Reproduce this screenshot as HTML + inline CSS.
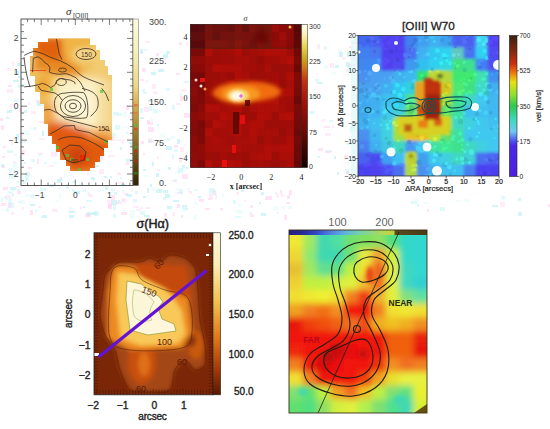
<!DOCTYPE html><html><head><meta charset="utf-8"><style>
html,body{margin:0;padding:0;background:#fff;width:550px;height:429px;overflow:hidden}
svg{display:block}
text{font-family:"Liberation Sans", sans-serif}
</style></head><body>
<svg width="550" height="429" viewBox="0 0 550 429">
<defs>

<filter id="b0_6" x="-50%" y="-50%" width="200%" height="200%"><feGaussianBlur stdDeviation="0.6"/></filter>
<filter id="b1" x="-50%" y="-50%" width="200%" height="200%"><feGaussianBlur stdDeviation="1"/></filter>
<filter id="b1_5" x="-50%" y="-50%" width="200%" height="200%"><feGaussianBlur stdDeviation="1.5"/></filter>
<filter id="b2" x="-50%" y="-50%" width="200%" height="200%"><feGaussianBlur stdDeviation="2"/></filter>
<filter id="b3" x="-50%" y="-50%" width="200%" height="200%"><feGaussianBlur stdDeviation="3"/></filter>
<filter id="b4" x="-50%" y="-50%" width="200%" height="200%"><feGaussianBlur stdDeviation="4"/></filter>
<filter id="b5" x="-50%" y="-50%" width="200%" height="200%"><feGaussianBlur stdDeviation="5"/></filter>
<filter id="b6" x="-50%" y="-50%" width="200%" height="200%"><feGaussianBlur stdDeviation="6"/></filter>
<filter id="b8" x="-50%" y="-50%" width="200%" height="200%"><feGaussianBlur stdDeviation="8"/></filter>
<linearGradient id="cb1" x1="0" y1="0" x2="0" y2="1">
<stop offset="0" stop-color="#fcfbe0"/><stop offset="0.2" stop-color="#f6f0b8"/>
<stop offset="0.4" stop-color="#ecd888"/><stop offset="0.5" stop-color="#e0b050"/>
<stop offset="0.62" stop-color="#b89030"/><stop offset="0.78" stop-color="#806020"/>
<stop offset="0.9" stop-color="#504010"/><stop offset="1" stop-color="#302008"/></linearGradient>
<linearGradient id="cb2" x1="0" y1="0" x2="0" y2="1">
<stop offset="0" stop-color="#fffff0"/><stop offset="0.08" stop-color="#f8f0b0"/>
<stop offset="0.16" stop-color="#e8d050"/><stop offset="0.25" stop-color="#c8a020"/>
<stop offset="0.3" stop-color="#d07818"/><stop offset="0.4" stop-color="#c03010"/>
<stop offset="0.55" stop-color="#a01008"/><stop offset="0.78" stop-color="#600800"/>
<stop offset="1" stop-color="#100000"/></linearGradient>
<linearGradient id="cb3" x1="0" y1="0" x2="0" y2="1">
<stop offset="0" stop-color="#3a2010"/><stop offset="0.12" stop-color="#8a2a10"/>
<stop offset="0.2" stop-color="#c83010"/><stop offset="0.26" stop-color="#f07010"/>
<stop offset="0.33" stop-color="#e8e010"/><stop offset="0.42" stop-color="#90e030"/>
<stop offset="0.5" stop-color="#30c850"/><stop offset="0.6" stop-color="#40d8c0"/>
<stop offset="0.68" stop-color="#70c8f0"/><stop offset="0.74" stop-color="#5060f0"/>
<stop offset="0.78" stop-color="#4a28e8"/><stop offset="1" stop-color="#4a20e0"/></linearGradient>
<linearGradient id="cb4" x1="0" y1="0" x2="0" y2="1">
<stop offset="0" stop-color="#fff8e0"/><stop offset="0.2" stop-color="#fcecb0"/>
<stop offset="0.42" stop-color="#f2c050"/><stop offset="0.65" stop-color="#e07818"/>
<stop offset="0.85" stop-color="#a03808"/><stop offset="1" stop-color="#5a1800"/></linearGradient>
<linearGradient id="cb5" x1="0" y1="0" x2="1" y2="0">
<stop offset="0" stop-color="#281c80"/><stop offset="0.1" stop-color="#2a2898"/>
<stop offset="0.2" stop-color="#3048c8"/><stop offset="0.3" stop-color="#5080e0"/>
<stop offset="0.4" stop-color="#60b0e0"/><stop offset="0.5" stop-color="#70d0b0"/>
<stop offset="0.6" stop-color="#90d880"/><stop offset="0.7" stop-color="#b8d850"/>
<stop offset="0.76" stop-color="#c0d040"/><stop offset="0.77" stop-color="#584a20"/>
<stop offset="1" stop-color="#4a3a18"/></linearGradient>

<clipPath id="c1"><rect x="21" y="19" width="112" height="166.5"/></clipPath>
<clipPath id="c2"><rect x="190.3" y="24.3" width="111.1" height="143.3"/></clipPath>
<clipPath id="c3"><rect x="358" y="35.5" width="141" height="140.5"/></clipPath>
<clipPath id="c4"><rect x="94" y="232.8" width="119" height="162"/></clipPath>
<clipPath id="c5"><rect x="289" y="235" width="138" height="178"/></clipPath>
<clipPath id="m1"><polygon points="38,42 48,42 48,38.5 90,38.5 90,45 96,45 96,50 100,50 100,60 105,60 105,66 108,66 108,75 112,75 112,140 108,140 108,148 104,148 104,156 100,156 100,162 95,162 95,168 90,168 90,171 70,171 70,166 66,166 66,160 60,160 60,152 56,152 56,144 52,144 52,136 48,136 48,124 44,124 44,104 40,104 40,92 35,92 35,76 30,76 30,56 33,56 33,48 38,48"/></clipPath>
</defs>
<g>
<rect x="12" y="164" width="6" height="5" fill="#e8fcfc" opacity="0.6"/>
<rect x="1" y="125" width="3" height="5" fill="#ffd2f0" opacity="0.6"/>
<rect x="18" y="76" width="4" height="2" fill="#b8eef4" opacity="0.6"/>
<rect x="11" y="140" width="2" height="5" fill="#ffe0f4" opacity="0.6"/>
<rect x="8" y="85" width="4" height="2" fill="#ffd2f0" opacity="0.6"/>
<rect x="3" y="146" width="3" height="2" fill="#ffd2f0" opacity="0.6"/>
<rect x="19" y="61" width="3" height="2" fill="#ffe0f4" opacity="0.6"/>
<rect x="6" y="195" width="5" height="5" fill="#ffe0f4" opacity="0.6"/>
<rect x="4" y="196" width="3" height="3" fill="#ccf6fa" opacity="0.6"/>
<rect x="0" y="118" width="3" height="3" fill="#ffd2f0" opacity="0.6"/>
<rect x="7" y="174" width="5" height="2" fill="#e8fcfc" opacity="0.6"/>
<rect x="14" y="107" width="3" height="3" fill="#ccf6fa" opacity="0.6"/>
<rect x="10" y="104" width="4" height="3" fill="#ffe0f4" opacity="0.6"/>
<rect x="1" y="197" width="2" height="5" fill="#ccf6fa" opacity="0.6"/>
<rect x="17" y="63" width="4" height="3" fill="#b8eef4" opacity="0.6"/>
<rect x="12" y="61" width="2" height="5" fill="#ffe0f4" opacity="0.6"/>
<rect x="12" y="194" width="2" height="2" fill="#b8eef4" opacity="0.6"/>
<rect x="7" y="110" width="5" height="3" fill="#b8eef4" opacity="0.6"/>
<rect x="2" y="165" width="3" height="3" fill="#ffd2f0" opacity="0.6"/>
<rect x="9" y="197" width="3" height="3" fill="#e8fcfc" opacity="0.6"/>
<rect x="12" y="189" width="3" height="3" fill="#e8fcfc" opacity="0.6"/>
<rect x="2" y="156" width="3" height="2" fill="#ffd2f0" opacity="0.6"/>
<rect x="13" y="161" width="3" height="3" fill="#ffe0f4" opacity="0.6"/>
<rect x="14" y="71" width="5" height="4" fill="#b8eef4" opacity="0.6"/>
<rect x="1" y="164" width="3" height="3" fill="#b8eef4" opacity="0.6"/>
<rect x="13" y="80" width="6" height="2" fill="#b8eef4" opacity="0.6"/>
<rect x="7" y="89" width="6" height="4" fill="#ffe0f4" opacity="0.6"/>
<rect x="13" y="170" width="2" height="2" fill="#b8eef4" opacity="0.6"/>
<rect x="7" y="68" width="4" height="3" fill="#ffe0f4" opacity="0.6"/>
<rect x="9" y="200" width="3" height="4" fill="#b8eef4" opacity="0.6"/>
<rect x="19" y="156" width="3" height="3" fill="#ccf6fa" opacity="0.6"/>
<rect x="6" y="117" width="3" height="2" fill="#b8eef4" opacity="0.6"/>
<rect x="16" y="134" width="3" height="5" fill="#b8eef4" opacity="0.6"/>
<rect x="17" y="85" width="4" height="3" fill="#e8fcfc" opacity="0.6"/>
<rect x="16" y="181" width="3" height="2" fill="#ccf6fa" opacity="0.6"/>
<rect x="14" y="153" width="3" height="3" fill="#e8fcfc" opacity="0.6"/>
<rect x="14" y="99" width="4" height="3" fill="#ccf6fa" opacity="0.6"/>
<rect x="19" y="108" width="3" height="4" fill="#ffd2f0" opacity="0.6"/>
<rect x="9" y="168" width="3" height="5" fill="#ccf6fa" opacity="0.6"/>
<rect x="9" y="174" width="6" height="5" fill="#ccf6fa" opacity="0.6"/>
<rect x="7" y="150" width="6" height="3" fill="#ccf6fa" opacity="0.6"/>
<rect x="18" y="84" width="6" height="3" fill="#ccf6fa" opacity="0.6"/>
<rect x="19" y="133" width="5" height="2" fill="#ffe0f4" opacity="0.6"/>
<rect x="17" y="191" width="4" height="3" fill="#ffd2f0" opacity="0.6"/>
<rect x="14" y="162" width="3" height="4" fill="#e8fcfc" opacity="0.6"/>
<rect x="79" y="181" width="3" height="4" fill="#e8fcfc" opacity="0.6"/>
<rect x="108" y="155" width="6" height="2" fill="#ffe0f4" opacity="0.6"/>
<rect x="39" y="138" width="6" height="2" fill="#ffe0f4" opacity="0.6"/>
<rect x="106" y="116" width="6" height="2" fill="#b8eef4" opacity="0.6"/>
<rect x="131" y="114" width="3" height="2" fill="#ccf6fa" opacity="0.6"/>
<rect x="129" y="142" width="5" height="2" fill="#b8eef4" opacity="0.6"/>
<rect x="73" y="133" width="5" height="2" fill="#e8fcfc" opacity="0.6"/>
<rect x="44" y="162" width="3" height="2" fill="#ccf6fa" opacity="0.6"/>
<rect x="66" y="124" width="4" height="2" fill="#e8fcfc" opacity="0.6"/>
<rect x="63" y="103" width="5" height="3" fill="#ffd2f0" opacity="0.6"/>
<rect x="54" y="144" width="5" height="3" fill="#ccf6fa" opacity="0.6"/>
<rect x="113" y="136" width="5" height="5" fill="#e8fcfc" opacity="0.6"/>
<rect x="62" y="112" width="5" height="3" fill="#e8fcfc" opacity="0.6"/>
<rect x="74" y="117" width="3" height="4" fill="#ffd2f0" opacity="0.6"/>
<rect x="60" y="177" width="2" height="3" fill="#ffd2f0" opacity="0.6"/>
<rect x="58" y="179" width="5" height="2" fill="#ccf6fa" opacity="0.6"/>
<rect x="91" y="177" width="4" height="3" fill="#b8eef4" opacity="0.6"/>
<rect x="130" y="142" width="4" height="5" fill="#b8eef4" opacity="0.6"/>
<rect x="64" y="174" width="3" height="4" fill="#e8fcfc" opacity="0.6"/>
<rect x="50" y="184" width="4" height="3" fill="#b8eef4" opacity="0.6"/>
<rect x="23" y="181" width="3" height="3" fill="#ccf6fa" opacity="0.6"/>
<rect x="37" y="102" width="6" height="4" fill="#b8eef4" opacity="0.6"/>
<rect x="48" y="103" width="3" height="3" fill="#ffd2f0" opacity="0.6"/>
<rect x="75" y="148" width="3" height="3" fill="#ffd2f0" opacity="0.6"/>
<rect x="49" y="123" width="3" height="5" fill="#ccf6fa" opacity="0.6"/>
<rect x="54" y="152" width="4" height="4" fill="#e8fcfc" opacity="0.6"/>
<rect x="120" y="177" width="2" height="2" fill="#ccf6fa" opacity="0.6"/>
<rect x="53" y="161" width="5" height="3" fill="#e8fcfc" opacity="0.6"/>
<rect x="24" y="130" width="6" height="5" fill="#e8fcfc" opacity="0.6"/>
<rect x="36" y="100" width="5" height="3" fill="#ffd2f0" opacity="0.6"/>
<rect x="120" y="147" width="2" height="3" fill="#b8eef4" opacity="0.6"/>
<rect x="88" y="159" width="6" height="5" fill="#b8eef4" opacity="0.6"/>
<rect x="117" y="172" width="4" height="3" fill="#ffe0f4" opacity="0.6"/>
<rect x="122" y="140" width="2" height="3" fill="#ffd2f0" opacity="0.6"/>
<rect x="99" y="137" width="3" height="5" fill="#b8eef4" opacity="0.6"/>
<rect x="123" y="112" width="4" height="5" fill="#e8fcfc" opacity="0.6"/>
<rect x="121" y="184" width="5" height="2" fill="#b8eef4" opacity="0.6"/>
<rect x="87" y="170" width="2" height="5" fill="#ffe0f4" opacity="0.6"/>
<rect x="51" y="107" width="2" height="5" fill="#ffd2f0" opacity="0.6"/>
<rect x="58" y="137" width="2" height="3" fill="#b8eef4" opacity="0.6"/>
<rect x="26" y="172" width="3" height="4" fill="#ffd2f0" opacity="0.6"/>
<rect x="101" y="112" width="3" height="5" fill="#b8eef4" opacity="0.6"/>
<rect x="38" y="153" width="4" height="2" fill="#ffd2f0" opacity="0.6"/>
<rect x="91" y="104" width="2" height="5" fill="#b8eef4" opacity="0.6"/>
<rect x="104" y="124" width="5" height="4" fill="#ffd2f0" opacity="0.6"/>
<rect x="104" y="176" width="3" height="2" fill="#b8eef4" opacity="0.6"/>
<rect x="31" y="159" width="4" height="3" fill="#ccf6fa" opacity="0.6"/>
<rect x="126" y="132" width="2" height="2" fill="#ccf6fa" opacity="0.6"/>
<rect x="38" y="154" width="5" height="3" fill="#e8fcfc" opacity="0.6"/>
<rect x="83" y="119" width="2" height="4" fill="#ffe0f4" opacity="0.6"/>
<rect x="49" y="165" width="5" height="2" fill="#ffe0f4" opacity="0.6"/>
<rect x="118" y="139" width="4" height="2" fill="#ffe0f4" opacity="0.6"/>
<rect x="101" y="156" width="2" height="4" fill="#ffd2f0" opacity="0.6"/>
<rect x="31" y="111" width="5" height="3" fill="#ffe0f4" opacity="0.6"/>
<rect x="65" y="140" width="3" height="2" fill="#e8fcfc" opacity="0.6"/>
<rect x="24" y="162" width="2" height="2" fill="#b8eef4" opacity="0.6"/>
<rect x="97" y="119" width="2" height="2" fill="#b8eef4" opacity="0.6"/>
<rect x="113" y="112" width="5" height="3" fill="#ccf6fa" opacity="0.6"/>
<rect x="115" y="125" width="5" height="5" fill="#ccf6fa" opacity="0.6"/>
<rect x="110" y="133" width="6" height="3" fill="#ccf6fa" opacity="0.6"/>
<rect x="111" y="137" width="3" height="4" fill="#ffd2f0" opacity="0.6"/>
<rect x="87" y="149" width="6" height="2" fill="#b8eef4" opacity="0.6"/>
<rect x="28" y="103" width="3" height="2" fill="#ffe0f4" opacity="0.6"/>
<rect x="25" y="176" width="4" height="5" fill="#ccf6fa" opacity="0.6"/>
<rect x="21" y="140" width="5" height="3" fill="#ccf6fa" opacity="0.6"/>
<rect x="73" y="109" width="3" height="5" fill="#ffe0f4" opacity="0.6"/>
<rect x="29" y="175" width="4" height="2" fill="#e8fcfc" opacity="0.6"/>
<rect x="49" y="124" width="3" height="3" fill="#ffe0f4" opacity="0.6"/>
<rect x="25" y="177" width="3" height="3" fill="#ccf6fa" opacity="0.6"/>
<rect x="126" y="159" width="6" height="3" fill="#b8eef4" opacity="0.6"/>
<rect x="116" y="113" width="6" height="3" fill="#ccf6fa" opacity="0.6"/>
<rect x="72" y="121" width="3" height="2" fill="#ffe0f4" opacity="0.6"/>
<rect x="101" y="149" width="6" height="2" fill="#e8fcfc" opacity="0.6"/>
<rect x="66" y="184" width="3" height="5" fill="#ccf6fa" opacity="0.6"/>
<rect x="42" y="131" width="2" height="5" fill="#b8eef4" opacity="0.6"/>
<rect x="39" y="121" width="6" height="2" fill="#ffd2f0" opacity="0.6"/>
<rect x="93" y="137" width="3" height="2" fill="#b8eef4" opacity="0.6"/>
<rect x="28" y="167" width="4" height="2" fill="#ffd2f0" opacity="0.6"/>
<rect x="25" y="172" width="5" height="4" fill="#ccf6fa" opacity="0.6"/>
<rect x="126" y="162" width="3" height="3" fill="#ffd2f0" opacity="0.6"/>
<rect x="126" y="105" width="3" height="5" fill="#ffd2f0" opacity="0.6"/>
<rect x="77" y="167" width="2" height="3" fill="#b8eef4" opacity="0.6"/>
<rect x="71" y="155" width="2" height="2" fill="#ffe0f4" opacity="0.6"/>
<rect x="99" y="155" width="3" height="4" fill="#ffe0f4" opacity="0.6"/>
<rect x="30" y="127" width="2" height="2" fill="#e8fcfc" opacity="0.6"/>
<rect x="131" y="114" width="2" height="5" fill="#ffe0f4" opacity="0.6"/>
<rect x="91" y="138" width="3" height="3" fill="#b8eef4" opacity="0.6"/>
<rect x="85" y="132" width="6" height="2" fill="#ffd2f0" opacity="0.6"/>
<rect x="123" y="126" width="4" height="2" fill="#e8fcfc" opacity="0.6"/>
<rect x="34" y="127" width="2" height="3" fill="#b8eef4" opacity="0.6"/>
<rect x="56" y="111" width="2" height="3" fill="#ffe0f4" opacity="0.6"/>
<rect x="99" y="169" width="5" height="5" fill="#ffe0f4" opacity="0.6"/>
<rect x="52" y="142" width="3" height="2" fill="#ffe0f4" opacity="0.6"/>
<rect x="110" y="176" width="2" height="2" fill="#b8eef4" opacity="0.6"/>
<rect x="107" y="133" width="5" height="2" fill="#ccf6fa" opacity="0.6"/>
<rect x="94" y="165" width="5" height="2" fill="#b8eef4" opacity="0.6"/>
<rect x="37" y="159" width="2" height="5" fill="#ffd2f0" opacity="0.6"/>
<rect x="100" y="123" width="4" height="4" fill="#ffe0f4" opacity="0.6"/>
<rect x="57" y="126" width="3" height="3" fill="#b8eef4" opacity="0.6"/>
<rect x="97" y="125" width="2" height="4" fill="#e8fcfc" opacity="0.6"/>
<rect x="24" y="110" width="3" height="3" fill="#b8eef4" opacity="0.6"/>
<rect x="117" y="182" width="5" height="2" fill="#ffe0f4" opacity="0.6"/>
<rect x="80" y="111" width="3" height="3" fill="#ccf6fa" opacity="0.6"/>
<rect x="22" y="150" width="3" height="5" fill="#ffd2f0" opacity="0.6"/>
<rect x="51" y="152" width="6" height="5" fill="#ffe0f4" opacity="0.6"/>
<rect x="71" y="181" width="4" height="2" fill="#ccf6fa" opacity="0.6"/>
<rect x="57" y="179" width="4" height="4" fill="#b8eef4" opacity="0.6"/>
<rect x="40" y="104" width="6" height="2" fill="#e8fcfc" opacity="0.6"/>
<rect x="74" y="142" width="2" height="2" fill="#ffe0f4" opacity="0.6"/>
<rect x="112" y="136" width="2" height="2" fill="#ffd2f0" opacity="0.6"/>
<rect x="10" y="203" width="4" height="5" fill="#ccf6fa" opacity="0.6"/>
<rect x="114" y="192" width="3" height="2" fill="#ccf6fa" opacity="0.6"/>
<rect x="163" y="197" width="3" height="3" fill="#ccf6fa" opacity="0.6"/>
<rect x="235" y="210" width="6" height="2" fill="#e8fcfc" opacity="0.6"/>
<rect x="143" y="196" width="3" height="2" fill="#b8eef4" opacity="0.6"/>
<rect x="111" y="189" width="4" height="2" fill="#ccf6fa" opacity="0.6"/>
<rect x="261" y="192" width="3" height="3" fill="#b8eef4" opacity="0.6"/>
<rect x="250" y="205" width="3" height="3" fill="#ffd2f0" opacity="0.6"/>
<rect x="30" y="204" width="5" height="2" fill="#b8eef4" opacity="0.6"/>
<rect x="6" y="206" width="5" height="3" fill="#e8fcfc" opacity="0.6"/>
<rect x="111" y="200" width="6" height="5" fill="#b8eef4" opacity="0.6"/>
<rect x="130" y="210" width="5" height="5" fill="#e8fcfc" opacity="0.6"/>
<rect x="194" y="202" width="4" height="3" fill="#e8fcfc" opacity="0.6"/>
<rect x="6" y="209" width="3" height="3" fill="#ccf6fa" opacity="0.6"/>
<rect x="23" y="189" width="3" height="4" fill="#e8fcfc" opacity="0.6"/>
<rect x="250" y="214" width="4" height="3" fill="#ffd2f0" opacity="0.6"/>
<rect x="80" y="207" width="2" height="2" fill="#ffd2f0" opacity="0.6"/>
<rect x="194" y="215" width="3" height="5" fill="#e8fcfc" opacity="0.6"/>
<rect x="177" y="192" width="5" height="2" fill="#ffd2f0" opacity="0.6"/>
<rect x="69" y="215" width="5" height="3" fill="#b8eef4" opacity="0.6"/>
<rect x="281" y="206" width="4" height="2" fill="#e8fcfc" opacity="0.6"/>
<rect x="261" y="213" width="5" height="3" fill="#b8eef4" opacity="0.6"/>
<rect x="94" y="211" width="5" height="5" fill="#ccf6fa" opacity="0.6"/>
<rect x="72" y="189" width="3" height="3" fill="#ccf6fa" opacity="0.6"/>
<rect x="231" y="188" width="3" height="2" fill="#b8eef4" opacity="0.6"/>
<rect x="222" y="193" width="2" height="4" fill="#e8fcfc" opacity="0.6"/>
<rect x="182" y="205" width="5" height="5" fill="#b8eef4" opacity="0.6"/>
<rect x="121" y="199" width="5" height="4" fill="#ffe0f4" opacity="0.6"/>
<rect x="88" y="194" width="5" height="3" fill="#ffe0f4" opacity="0.6"/>
<rect x="122" y="190" width="3" height="4" fill="#e8fcfc" opacity="0.6"/>
<rect x="175" y="192" width="3" height="3" fill="#e8fcfc" opacity="0.6"/>
<rect x="30" y="210" width="3" height="5" fill="#ffd2f0" opacity="0.6"/>
<rect x="18" y="201" width="5" height="2" fill="#ccf6fa" opacity="0.6"/>
<rect x="55" y="200" width="4" height="2" fill="#e8fcfc" opacity="0.6"/>
<rect x="244" y="200" width="2" height="2" fill="#ffe0f4" opacity="0.6"/>
<rect x="195" y="189" width="3" height="2" fill="#ccf6fa" opacity="0.6"/>
<rect x="179" y="189" width="4" height="5" fill="#ccf6fa" opacity="0.6"/>
<rect x="237" y="210" width="6" height="4" fill="#e8fcfc" opacity="0.6"/>
<rect x="181" y="215" width="2" height="3" fill="#ffd2f0" opacity="0.6"/>
<rect x="236" y="192" width="3" height="3" fill="#ffe0f4" opacity="0.6"/>
<rect x="133" y="206" width="6" height="2" fill="#ffe0f4" opacity="0.6"/>
<rect x="117" y="202" width="4" height="2" fill="#ffd2f0" opacity="0.6"/>
<rect x="284" y="215" width="3" height="5" fill="#ffd2f0" opacity="0.6"/>
<rect x="144" y="215" width="6" height="2" fill="#b8eef4" opacity="0.6"/>
<rect x="220" y="208" width="3" height="2" fill="#ffd2f0" opacity="0.6"/>
<rect x="235" y="216" width="6" height="2" fill="#ccf6fa" opacity="0.6"/>
<rect x="111" y="195" width="4" height="5" fill="#ffd2f0" opacity="0.6"/>
<rect x="167" y="195" width="3" height="2" fill="#e8fcfc" opacity="0.6"/>
<rect x="125" y="193" width="3" height="3" fill="#ffd2f0" opacity="0.6"/>
<rect x="42" y="215" width="5" height="3" fill="#b8eef4" opacity="0.6"/>
<rect x="286" y="202" width="4" height="2" fill="#ffd2f0" opacity="0.6"/>
<rect x="131" y="190" width="2" height="2" fill="#ffe0f4" opacity="0.6"/>
<rect x="105" y="186" width="3" height="4" fill="#b8eef4" opacity="0.6"/>
<rect x="277" y="212" width="2" height="2" fill="#ffe0f4" opacity="0.6"/>
<rect x="56" y="210" width="2" height="3" fill="#e8fcfc" opacity="0.6"/>
<rect x="25" y="194" width="6" height="3" fill="#e8fcfc" opacity="0.6"/>
<rect x="7" y="191" width="5" height="3" fill="#e8fcfc" opacity="0.6"/>
<rect x="273" y="206" width="5" height="5" fill="#e8fcfc" opacity="0.6"/>
<rect x="10" y="187" width="6" height="3" fill="#b8eef4" opacity="0.6"/>
<rect x="265" y="197" width="3" height="3" fill="#ffe0f4" opacity="0.6"/>
<rect x="88" y="192" width="2" height="3" fill="#ffe0f4" opacity="0.6"/>
<rect x="114" y="192" width="3" height="3" fill="#ccf6fa" opacity="0.6"/>
<rect x="83" y="206" width="2" height="2" fill="#b8eef4" opacity="0.6"/>
<rect x="22" y="207" width="2" height="3" fill="#ffe0f4" opacity="0.6"/>
<rect x="57" y="187" width="4" height="3" fill="#e8fcfc" opacity="0.6"/>
<rect x="133" y="200" width="2" height="3" fill="#e8fcfc" opacity="0.6"/>
<rect x="9" y="192" width="4" height="2" fill="#ccf6fa" opacity="0.6"/>
<rect x="38" y="206" width="3" height="2" fill="#ffe0f4" opacity="0.6"/>
<rect x="85" y="213" width="6" height="4" fill="#ffd2f0" opacity="0.6"/>
<rect x="82" y="189" width="4" height="3" fill="#ccf6fa" opacity="0.6"/>
<rect x="107" y="200" width="5" height="3" fill="#ffe0f4" opacity="0.6"/>
<rect x="280" y="190" width="2" height="4" fill="#ffd2f0" opacity="0.6"/>
<rect x="212" y="190" width="4" height="5" fill="#ffd2f0" opacity="0.6"/>
<rect x="2" y="209" width="4" height="2" fill="#e8fcfc" opacity="0.6"/>
<rect x="208" y="193" width="3" height="2" fill="#e8fcfc" opacity="0.6"/>
<rect x="69" y="207" width="3" height="2" fill="#e8fcfc" opacity="0.6"/>
<rect x="86" y="200" width="6" height="2" fill="#ccf6fa" opacity="0.6"/>
<rect x="165" y="194" width="5" height="4" fill="#b8eef4" opacity="0.6"/>
<rect x="287" y="195" width="3" height="4" fill="#ffd2f0" opacity="0.6"/>
<rect x="187" y="188" width="3" height="4" fill="#e8fcfc" opacity="0.6"/>
<rect x="113" y="214" width="3" height="4" fill="#ccf6fa" opacity="0.6"/>
<rect x="241" y="190" width="3" height="2" fill="#b8eef4" opacity="0.6"/>
<rect x="1" y="203" width="5" height="3" fill="#ffd2f0" opacity="0.6"/>
<rect x="17" y="189" width="3" height="2" fill="#ccf6fa" opacity="0.6"/>
<rect x="281" y="194" width="3" height="3" fill="#ffe0f4" opacity="0.6"/>
<rect x="215" y="194" width="2" height="5" fill="#ccf6fa" opacity="0.6"/>
<rect x="113" y="205" width="3" height="5" fill="#ccf6fa" opacity="0.6"/>
<rect x="172" y="212" width="3" height="4" fill="#ffe0f4" opacity="0.6"/>
<rect x="164" y="213" width="3" height="4" fill="#ffd2f0" opacity="0.6"/>
<rect x="3" y="187" width="5" height="3" fill="#ffd2f0" opacity="0.6"/>
<rect x="8" y="198" width="4" height="5" fill="#e8fcfc" opacity="0.6"/>
<rect x="177" y="204" width="3" height="4" fill="#ffd2f0" opacity="0.6"/>
<rect x="205" y="208" width="5" height="2" fill="#ffd2f0" opacity="0.6"/>
<rect x="19" y="200" width="6" height="4" fill="#e8fcfc" opacity="0.6"/>
<rect x="209" y="188" width="6" height="5" fill="#ccf6fa" opacity="0.6"/>
<rect x="35" y="209" width="3" height="3" fill="#ccf6fa" opacity="0.6"/>
<rect x="87" y="212" width="3" height="4" fill="#b8eef4" opacity="0.6"/>
<rect x="135" y="191" width="3" height="3" fill="#ccf6fa" opacity="0.6"/>
<rect x="275" y="192" width="2" height="2" fill="#ccf6fa" opacity="0.6"/>
<rect x="288" y="205" width="4" height="4" fill="#e8fcfc" opacity="0.6"/>
<rect x="189" y="191" width="3" height="3" fill="#ffe0f4" opacity="0.6"/>
<rect x="199" y="199" width="5" height="3" fill="#ffd2f0" opacity="0.6"/>
<rect x="42" y="194" width="4" height="4" fill="#e8fcfc" opacity="0.6"/>
<rect x="276" y="193" width="3" height="5" fill="#ffe0f4" opacity="0.6"/>
<rect x="122" y="210" width="3" height="3" fill="#e8fcfc" opacity="0.6"/>
<rect x="31" y="194" width="3" height="4" fill="#ccf6fa" opacity="0.6"/>
<rect x="141" y="207" width="2" height="2" fill="#ffd2f0" opacity="0.6"/>
<rect x="98" y="189" width="6" height="3" fill="#e8fcfc" opacity="0.6"/>
<rect x="52" y="209" width="5" height="3" fill="#ffe0f4" opacity="0.6"/>
<rect x="185" y="208" width="3" height="2" fill="#b8eef4" opacity="0.6"/>
<rect x="249" y="212" width="3" height="2" fill="#ccf6fa" opacity="0.6"/>
<rect x="208" y="198" width="4" height="2" fill="#ffd2f0" opacity="0.6"/>
<rect x="87" y="191" width="2" height="5" fill="#e8fcfc" opacity="0.6"/>
<rect x="118" y="200" width="2" height="2" fill="#b8eef4" opacity="0.6"/>
<rect x="8" y="203" width="3" height="5" fill="#ffd2f0" opacity="0.6"/>
<rect x="198" y="196" width="3" height="2" fill="#b8eef4" opacity="0.6"/>
<rect x="110" y="191" width="3" height="2" fill="#e8fcfc" opacity="0.6"/>
<rect x="156" y="189" width="6" height="4" fill="#b8eef4" opacity="0.6"/>
<rect x="127" y="194" width="5" height="3" fill="#b8eef4" opacity="0.6"/>
<rect x="11" y="212" width="3" height="3" fill="#ffe0f4" opacity="0.6"/>
<rect x="266" y="196" width="6" height="4" fill="#ffd2f0" opacity="0.6"/>
<rect x="40" y="188" width="6" height="3" fill="#ccf6fa" opacity="0.6"/>
<rect x="129" y="214" width="5" height="5" fill="#e8fcfc" opacity="0.6"/>
<rect x="74" y="191" width="6" height="3" fill="#b8eef4" opacity="0.6"/>
<rect x="136" y="209" width="5" height="2" fill="#ffe0f4" opacity="0.6"/>
<rect x="173" y="200" width="6" height="2" fill="#b8eef4" opacity="0.6"/>
<rect x="289" y="190" width="3" height="5" fill="#ffd2f0" opacity="0.6"/>
<rect x="209" y="194" width="4" height="5" fill="#ffe0f4" opacity="0.6"/>
<rect x="233" y="200" width="3" height="4" fill="#ccf6fa" opacity="0.6"/>
<rect x="182" y="207" width="5" height="5" fill="#e8fcfc" opacity="0.6"/>
<rect x="35" y="209" width="3" height="4" fill="#e8fcfc" opacity="0.6"/>
<rect x="140" y="211" width="5" height="4" fill="#ccf6fa" opacity="0.6"/>
<rect x="176" y="188" width="3" height="2" fill="#e8fcfc" opacity="0.6"/>
<rect x="122" y="198" width="3" height="3" fill="#ffe0f4" opacity="0.6"/>
<rect x="220" y="208" width="2" height="3" fill="#ffe0f4" opacity="0.6"/>
<rect x="91" y="212" width="6" height="3" fill="#b8eef4" opacity="0.6"/>
<rect x="238" y="204" width="4" height="3" fill="#e8fcfc" opacity="0.6"/>
<rect x="146" y="207" width="5" height="2" fill="#ffe0f4" opacity="0.6"/>
<rect x="167" y="206" width="5" height="3" fill="#b8eef4" opacity="0.6"/>
<rect x="243" y="187" width="5" height="2" fill="#b8eef4" opacity="0.6"/>
<rect x="282" y="208" width="3" height="2" fill="#e8fcfc" opacity="0.6"/>
<rect x="69" y="211" width="6" height="2" fill="#b8eef4" opacity="0.6"/>
<rect x="121" y="212" width="6" height="3" fill="#ffd2f0" opacity="0.6"/>
<rect x="59" y="193" width="2" height="5" fill="#e8fcfc" opacity="0.6"/>
<rect x="108" y="203" width="3" height="5" fill="#ffd2f0" opacity="0.6"/>
<rect x="108" y="204" width="4" height="5" fill="#ffd2f0" opacity="0.6"/>
<rect x="259" y="202" width="2" height="2" fill="#b8eef4" opacity="0.6"/>
<rect x="16" y="186" width="3" height="2" fill="#ffe0f4" opacity="0.6"/>
<rect x="133" y="199" width="4" height="3" fill="#ccf6fa" opacity="0.6"/>
<rect x="151" y="187" width="6" height="4" fill="#e8fcfc" opacity="0.6"/>
<rect x="160" y="133" width="5" height="5" fill="#e8fcfc" opacity="0.6"/>
<rect x="148" y="138" width="4" height="4" fill="#ffe0f4" opacity="0.6"/>
<rect x="184" y="144" width="3" height="2" fill="#e8fcfc" opacity="0.6"/>
<rect x="156" y="53" width="3" height="3" fill="#ffd2f0" opacity="0.6"/>
<rect x="140" y="49" width="3" height="5" fill="#b8eef4" opacity="0.6"/>
<rect x="157" y="156" width="2" height="3" fill="#ffe0f4" opacity="0.6"/>
<rect x="148" y="100" width="4" height="2" fill="#b8eef4" opacity="0.6"/>
<rect x="184" y="81" width="5" height="2" fill="#ccf6fa" opacity="0.6"/>
<rect x="175" y="171" width="4" height="3" fill="#e8fcfc" opacity="0.6"/>
<rect x="180" y="147" width="4" height="5" fill="#ffe0f4" opacity="0.6"/>
<rect x="148" y="127" width="6" height="5" fill="#ffd2f0" opacity="0.6"/>
<rect x="147" y="120" width="3" height="3" fill="#ffd2f0" opacity="0.6"/>
<rect x="172" y="105" width="3" height="5" fill="#ccf6fa" opacity="0.6"/>
<rect x="147" y="122" width="6" height="3" fill="#ffd2f0" opacity="0.6"/>
<rect x="174" y="145" width="4" height="3" fill="#ffd2f0" opacity="0.6"/>
<rect x="161" y="95" width="2" height="5" fill="#e8fcfc" opacity="0.6"/>
<rect x="156" y="173" width="3" height="4" fill="#b8eef4" opacity="0.6"/>
<rect x="181" y="89" width="5" height="3" fill="#ffe0f4" opacity="0.6"/>
<rect x="157" y="124" width="2" height="2" fill="#b8eef4" opacity="0.6"/>
<rect x="152" y="162" width="2" height="4" fill="#b8eef4" opacity="0.6"/>
<rect x="149" y="140" width="5" height="3" fill="#ffd2f0" opacity="0.6"/>
<rect x="142" y="89" width="3" height="3" fill="#ccf6fa" opacity="0.6"/>
<rect x="179" y="157" width="3" height="5" fill="#ffd2f0" opacity="0.6"/>
<rect x="182" y="174" width="6" height="5" fill="#ffd2f0" opacity="0.6"/>
<rect x="140" y="117" width="4" height="2" fill="#b8eef4" opacity="0.6"/>
<rect x="153" y="104" width="5" height="3" fill="#e8fcfc" opacity="0.6"/>
<rect x="141" y="141" width="3" height="3" fill="#ffd2f0" opacity="0.6"/>
<rect x="166" y="51" width="4" height="3" fill="#b8eef4" opacity="0.6"/>
<rect x="143" y="92" width="4" height="2" fill="#ccf6fa" opacity="0.6"/>
<rect x="180" y="93" width="2" height="3" fill="#ccf6fa" opacity="0.6"/>
<rect x="143" y="169" width="3" height="2" fill="#b8eef4" opacity="0.6"/>
<rect x="172" y="180" width="5" height="2" fill="#ccf6fa" opacity="0.6"/>
<rect x="153" y="109" width="5" height="4" fill="#ccf6fa" opacity="0.6"/>
<rect x="163" y="54" width="5" height="4" fill="#b8eef4" opacity="0.6"/>
<rect x="158" y="69" width="6" height="3" fill="#b8eef4" opacity="0.6"/>
<rect x="144" y="49" width="3" height="2" fill="#ccf6fa" opacity="0.6"/>
<rect x="176" y="103" width="5" height="2" fill="#ffe0f4" opacity="0.6"/>
<rect x="138" y="61" width="3" height="2" fill="#e8fcfc" opacity="0.6"/>
<rect x="143" y="153" width="2" height="2" fill="#ffd2f0" opacity="0.6"/>
<rect x="152" y="84" width="4" height="5" fill="#ffe0f4" opacity="0.6"/>
<rect x="140" y="108" width="3" height="5" fill="#ccf6fa" opacity="0.6"/>
<rect x="163" y="190" width="5" height="3" fill="#b8eef4" opacity="0.6"/>
<rect x="168" y="167" width="3" height="3" fill="#b8eef4" opacity="0.6"/>
<rect x="186" y="167" width="2" height="2" fill="#b8eef4" opacity="0.6"/>
<rect x="180" y="96" width="3" height="5" fill="#ffd2f0" opacity="0.6"/>
<rect x="157" y="169" width="3" height="2" fill="#ffe0f4" opacity="0.6"/>
<rect x="174" y="149" width="4" height="3" fill="#ccf6fa" opacity="0.6"/>
<rect x="147" y="188" width="2" height="5" fill="#b8eef4" opacity="0.6"/>
<rect x="153" y="69" width="3" height="3" fill="#e8fcfc" opacity="0.6"/>
<rect x="163" y="58" width="4" height="2" fill="#ffe0f4" opacity="0.6"/>
<rect x="177" y="139" width="3" height="5" fill="#b8eef4" opacity="0.6"/>
<rect x="180" y="140" width="2" height="2" fill="#e8fcfc" opacity="0.6"/>
<rect x="153" y="91" width="5" height="3" fill="#ffe0f4" opacity="0.6"/>
<rect x="179" y="42" width="3" height="3" fill="#ffd2f0" opacity="0.6"/>
<rect x="151" y="119" width="2" height="2" fill="#ccf6fa" opacity="0.6"/>
<rect x="176" y="73" width="4" height="2" fill="#ffd2f0" opacity="0.6"/>
<rect x="172" y="154" width="2" height="5" fill="#ccf6fa" opacity="0.6"/>
<rect x="144" y="175" width="6" height="2" fill="#e8fcfc" opacity="0.6"/>
<rect x="182" y="165" width="3" height="3" fill="#b8eef4" opacity="0.6"/>
<rect x="146" y="80" width="2" height="3" fill="#ffe0f4" opacity="0.6"/>
<rect x="150" y="184" width="2" height="3" fill="#b8eef4" opacity="0.6"/>
<rect x="179" y="168" width="6" height="5" fill="#e8fcfc" opacity="0.6"/>
<rect x="148" y="140" width="2" height="3" fill="#b8eef4" opacity="0.6"/>
<rect x="140" y="79" width="4" height="2" fill="#ffd2f0" opacity="0.6"/>
<rect x="174" y="179" width="3" height="3" fill="#ffe0f4" opacity="0.6"/>
<rect x="184" y="113" width="6" height="5" fill="#ffd2f0" opacity="0.6"/>
<rect x="166" y="88" width="4" height="3" fill="#ccf6fa" opacity="0.6"/>
<rect x="151" y="72" width="5" height="3" fill="#b8eef4" opacity="0.6"/>
<rect x="145" y="41" width="5" height="2" fill="#ffe0f4" opacity="0.6"/>
<rect x="182" y="125" width="2" height="2" fill="#ffe0f4" opacity="0.6"/>
<rect x="148" y="140" width="5" height="2" fill="#ccf6fa" opacity="0.6"/>
<rect x="178" y="61" width="3" height="2" fill="#e8fcfc" opacity="0.6"/>
<rect x="166" y="146" width="6" height="4" fill="#b8eef4" opacity="0.6"/>
<rect x="149" y="106" width="3" height="5" fill="#ccf6fa" opacity="0.6"/>
<rect x="142" y="68" width="4" height="4" fill="#ffd2f0" opacity="0.6"/>
<rect x="170" y="136" width="5" height="3" fill="#e8fcfc" opacity="0.6"/>
<rect x="186" y="42" width="2" height="4" fill="#ffe0f4" opacity="0.6"/>
<rect x="167" y="138" width="3" height="3" fill="#ccf6fa" opacity="0.6"/>
<rect x="178" y="168" width="5" height="5" fill="#ccf6fa" opacity="0.6"/>
<rect x="144" y="107" width="5" height="5" fill="#ffe0f4" opacity="0.6"/>
<rect x="332" y="125" width="2" height="3" fill="#ffe0f4" opacity="0.6"/>
<rect x="317" y="44" width="3" height="5" fill="#ffe0f4" opacity="0.6"/>
<rect x="317" y="156" width="3" height="2" fill="#ccf6fa" opacity="0.6"/>
<rect x="318" y="56" width="3" height="2" fill="#e8fcfc" opacity="0.6"/>
<rect x="315" y="79" width="4" height="3" fill="#ccf6fa" opacity="0.6"/>
<rect x="310" y="95" width="3" height="3" fill="#b8eef4" opacity="0.6"/>
<rect x="338" y="49" width="4" height="4" fill="#e8fcfc" opacity="0.6"/>
<rect x="309" y="111" width="6" height="3" fill="#ccf6fa" opacity="0.6"/>
<rect x="324" y="65" width="4" height="4" fill="#e8fcfc" opacity="0.6"/>
<rect x="330" y="63" width="4" height="5" fill="#ffe0f4" opacity="0.6"/>
<rect x="326" y="150" width="6" height="2" fill="#ccf6fa" opacity="0.6"/>
<rect x="332" y="72" width="4" height="3" fill="#e8fcfc" opacity="0.6"/>
<rect x="335" y="65" width="4" height="3" fill="#b8eef4" opacity="0.6"/>
<rect x="322" y="119" width="3" height="3" fill="#ffe0f4" opacity="0.6"/>
<rect x="339" y="52" width="4" height="5" fill="#b8eef4" opacity="0.6"/>
<rect x="325" y="151" width="6" height="2" fill="#ffd2f0" opacity="0.6"/>
<rect x="324" y="126" width="6" height="2" fill="#ffd2f0" opacity="0.6"/>
<rect x="334" y="156" width="2" height="3" fill="#b8eef4" opacity="0.6"/>
<rect x="337" y="172" width="2" height="3" fill="#b8eef4" opacity="0.6"/>
<rect x="325" y="133" width="6" height="3" fill="#ffe0f4" opacity="0.6"/>
<rect x="339" y="109" width="4" height="5" fill="#e8fcfc" opacity="0.6"/>
<rect x="318" y="148" width="5" height="3" fill="#ffd2f0" opacity="0.6"/>
<rect x="324" y="46" width="3" height="4" fill="#ccf6fa" opacity="0.6"/>
<rect x="317" y="82" width="6" height="2" fill="#b8eef4" opacity="0.6"/>
<rect x="329" y="120" width="4" height="2" fill="#ccf6fa" opacity="0.6"/>
<rect x="347" y="66" width="4" height="2" fill="#ccf6fa" opacity="0.6"/>
<rect x="342" y="57" width="3" height="3" fill="#ffe0f4" opacity="0.6"/>
<rect x="356" y="86" width="3" height="3" fill="#ffd2f0" opacity="0.6"/>
<rect x="351" y="103" width="2" height="4" fill="#e8fcfc" opacity="0.6"/>
<rect x="351" y="42" width="6" height="2" fill="#ffd2f0" opacity="0.6"/>
<rect x="347" y="143" width="5" height="2" fill="#ccf6fa" opacity="0.6"/>
<rect x="346" y="62" width="4" height="5" fill="#b8eef4" opacity="0.6"/>
<rect x="347" y="52" width="5" height="5" fill="#b8eef4" opacity="0.6"/>
<rect x="353" y="150" width="2" height="3" fill="#ccf6fa" opacity="0.6"/>
<rect x="350" y="55" width="6" height="5" fill="#ffe0f4" opacity="0.6"/>
<rect x="346" y="171" width="3" height="3" fill="#ffd2f0" opacity="0.6"/>
<rect x="347" y="171" width="2" height="3" fill="#b8eef4" opacity="0.6"/>
<rect x="345" y="169" width="4" height="2" fill="#ccf6fa" opacity="0.6"/>
<rect x="349" y="46" width="4" height="2" fill="#ffd2f0" opacity="0.6"/>
<rect x="350" y="126" width="5" height="4" fill="#b8eef4" opacity="0.6"/>
<rect x="349" y="130" width="6" height="3" fill="#e8fcfc" opacity="0.6"/>
<rect x="349" y="64" width="6" height="2" fill="#ffd2f0" opacity="0.6"/>
<rect x="342" y="93" width="2" height="5" fill="#b8eef4" opacity="0.6"/>
<rect x="346" y="69" width="3" height="3" fill="#ccf6fa" opacity="0.6"/>
<rect x="344" y="155" width="4" height="3" fill="#ffd2f0" opacity="0.6"/>
<rect x="440" y="207" width="5" height="4" fill="#ccf6fa" opacity="0.6"/>
<rect x="548" y="204" width="6" height="3" fill="#ffd2f0" opacity="0.6"/>
<rect x="500" y="196" width="4" height="4" fill="#e8fcfc" opacity="0.6"/>
<rect x="423" y="202" width="6" height="2" fill="#e8fcfc" opacity="0.6"/>
<rect x="464" y="199" width="6" height="3" fill="#e8fcfc" opacity="0.6"/>
<rect x="518" y="198" width="3" height="3" fill="#b8eef4" opacity="0.6"/>
<rect x="417" y="204" width="2" height="3" fill="#ccf6fa" opacity="0.6"/>
<rect x="500" y="202" width="5" height="5" fill="#ffe0f4" opacity="0.6"/>
<rect x="411" y="201" width="6" height="3" fill="#ccf6fa" opacity="0.6"/>
<rect x="502" y="196" width="3" height="3" fill="#ccf6fa" opacity="0.6"/>
<rect x="518" y="212" width="4" height="4" fill="#b8eef4" opacity="0.6"/>
<rect x="456" y="200" width="4" height="2" fill="#e8fcfc" opacity="0.6"/>
<rect x="427" y="209" width="2" height="3" fill="#ffd2f0" opacity="0.6"/>
<rect x="414" y="199" width="6" height="3" fill="#e8fcfc" opacity="0.6"/>
<rect x="492" y="205" width="6" height="2" fill="#b8eef4" opacity="0.6"/>
</g>
<g clip-path="url(#m1)">
<rect x="20" y="30" width="100" height="150" fill="#f0c060"/>
<g filter="url(#b3)">
<rect x="60" y="36" width="34" height="24" fill="#f0b444"/>
<ellipse cx="85" cy="54" rx="12" ry="6" fill="#f6dc90"/>
<rect x="92" y="44" width="20" height="30" fill="#f2cc70"/>
<polygon points="34,40 62,40 64,58 82,70 80,80 60,76 40,70 28,70 28,50" fill="#e88a20"/>
<polygon points="36,38 62,38 62,60 50,60 36,52" fill="#e06010"/>
<ellipse cx="31" cy="62" rx="3" ry="8" fill="#f0d080"/>
<ellipse cx="44" cy="85" rx="8" ry="10" fill="#f0a838"/>
</g>
<g filter="url(#b4)">
<polygon points="56,78 84,76 108,78 112,100 110,122 94,130 70,128 56,120 52,100" fill="#fbf0c4"/>
<ellipse cx="78" cy="104" rx="16" ry="14" fill="#fdf6d8"/>
<rect x="98" y="80" width="16" height="50" fill="#f4dc98"/>
<ellipse cx="49" cy="112" rx="6" ry="10" fill="#f09a30"/>
<polygon points="44,124 60,121 80,127 96,134 114,142 110,160 96,172 70,174 54,152 44,136" fill="#e25a10"/>
<ellipse cx="100" cy="134" rx="12" ry="5" fill="#f0a040"/>
<ellipse cx="77" cy="156" rx="10" ry="8" fill="#c84008"/>
</g>
<line x1="21" y1="70.5" x2="46" y2="70.5" stroke="#f04020" stroke-width="1" opacity="0.8"/>
<rect x="80" y="155" width="6" height="6" fill="#f02000" opacity="0.8"/>
<g fill="#40d040" opacity="0.7">
<rect x="66" y="154" width="3" height="3"/>
<rect x="70" y="158" width="3" height="3"/>
<rect x="86" y="158" width="3" height="3"/>
<rect x="78" y="168" width="3" height="3"/>
<rect x="56" y="146" width="3" height="3"/>
<rect x="100" y="90" width="3" height="3"/>
<rect x="104" y="140" width="3" height="3"/>
<rect x="50" y="88" width="3" height="3"/>
</g>
</g>
<g fill="none" stroke="#3a2e24" stroke-width="0.9" opacity="0.9">
<path d="M24.2,55.4 L28.4,53.3 L34,51.2 L39.6,52.6 L43.8,54 L49.4,56.8 L55,58.9 L60.6,61 L67.6,64.5 L73,68 L77.3,72.2 L82,76 L88,79 L96,82 L104,85"/>
<path d="M56.4,39 L59.2,54 L62,59.6"/>
<path d="M32.6,72.2 L33.3,58.2 L38.2,56.8 L42.4,59.6 L45.2,63 L48,64.5 L50,68 L49.4,72.2 L53.6,73.6 L59.2,74.3 L66,73.6 L70.3,75 L76,77.8 L80,82 L82.2,85.6 L85,91.2"/>
<ellipse cx="62.5" cy="70" rx="4" ry="2"/>
<path d="M24.2,86.9 L31.2,86.2 L38.2,84.8 L42.4,83.4 L46.6,84.8 L50.8,87.6 L55,84.8 L56.4,81.3 L60.6,78.5 L64.8,79.2 L70,80 L74.5,82 L75.2,84.2"/>
<ellipse cx="61.3" cy="82" rx="5" ry="3.5"/>
<path d="M24,57 C25,68 27,78 30,87"/>
<path d="M38.2,86 L41,90.3 L48,91.7 L55,93 L59.2,96 L62,100"/>
<ellipse cx="73" cy="106" rx="3.5" ry="2.8"/>
<ellipse cx="73" cy="106" rx="8" ry="6.3"/>
<ellipse cx="73" cy="106" rx="12.6" ry="10.5"/>
<path d="M55.6,98 C58,94 62,93 64,93.3 C70,92 78,92 83.6,92.6 C87,96 88,104 87.8,110 C88,114 87,117 86.4,117.8 C80,119 72,118 65.4,117 C60,116 56,112 55.6,110 C54,106 54,101 55.6,98 Z"/>
<path d="M82,88.4 C90,90 96,93 97.6,98.2 C99,104 98,108 96,110.8 C94,113 92,115 90.6,116.4"/>
<path d="M44,110 L50,109.4 L58.4,113.6 L65.4,119 L76.6,122 L92,126 L97.6,127.6"/>
<path d="M104,129 L110,131"/>
<path d="M101.7,88.4 L106,94 L108.7,101"/>
<path d="M50,134 L57,130.3 L64,126 L74.5,125.5 L75.2,129 L78,130.3 L89,132.4 L100,138 L108,142"/>
<ellipse cx="86" cy="54" rx="10" ry="5.5"/>
<path d="M62,150 L70,145 L80,146 L86,152 L84,160 L74,163 L66,160 Z"/>
<path d="M58,140 C64,136 74,136 82,138 C92,142 100,146 104,150"/>
</g>
<text x="81" y="57" font-size="6.5" fill="#4a3020">150</text>
<text x="98" y="131" font-size="6.5" fill="#4a3020">150</text>
<text x="71" y="163" font-size="6" fill="#4a3020">50</text>
<rect x="21" y="19" width="112" height="166.5" fill="none" stroke="#444" stroke-width="0.9"/>
<rect x="133" y="19" width="5.5" height="166.5" fill="url(#cb1)" stroke="#666" stroke-width="0.5"/>
<g opacity="0.45">
<rect x="134" y="104" width="3.5" height="2.5" fill="#f04020"/>
<rect x="134" y="128" width="3.5" height="2.5" fill="#e03010"/>
<rect x="134" y="150" width="3.5" height="2.5" fill="#e02010"/>
<rect x="134" y="160" width="3.5" height="2.5" fill="#d02010"/>
<rect x="134" y="124" width="3.5" height="2.5" fill="#30d040"/>
<rect x="134" y="146" width="3.5" height="2.5" fill="#30c040"/>
<rect x="134" y="172" width="3.5" height="2.5" fill="#30b030"/>
<rect x="134" y="112" width="3.5" height="2.5" fill="#f06030"/>
</g>
<line x1="27.56" y1="19.00" x2="27.56" y2="22.00" stroke="#444" stroke-width="0.7"/>
<line x1="27.56" y1="185.50" x2="27.56" y2="182.50" stroke="#444" stroke-width="0.7"/>
<line x1="34.38" y1="19.00" x2="34.38" y2="22.00" stroke="#444" stroke-width="0.7"/>
<line x1="34.38" y1="185.50" x2="34.38" y2="182.50" stroke="#444" stroke-width="0.7"/>
<line x1="41.20" y1="19.00" x2="41.20" y2="25.00" stroke="#444" stroke-width="0.7"/>
<line x1="41.20" y1="185.50" x2="41.20" y2="179.50" stroke="#444" stroke-width="0.7"/>
<line x1="48.02" y1="19.00" x2="48.02" y2="22.00" stroke="#444" stroke-width="0.7"/>
<line x1="48.02" y1="185.50" x2="48.02" y2="182.50" stroke="#444" stroke-width="0.7"/>
<line x1="54.84" y1="19.00" x2="54.84" y2="22.00" stroke="#444" stroke-width="0.7"/>
<line x1="54.84" y1="185.50" x2="54.84" y2="182.50" stroke="#444" stroke-width="0.7"/>
<line x1="61.66" y1="19.00" x2="61.66" y2="22.00" stroke="#444" stroke-width="0.7"/>
<line x1="61.66" y1="185.50" x2="61.66" y2="182.50" stroke="#444" stroke-width="0.7"/>
<line x1="68.48" y1="19.00" x2="68.48" y2="22.00" stroke="#444" stroke-width="0.7"/>
<line x1="68.48" y1="185.50" x2="68.48" y2="182.50" stroke="#444" stroke-width="0.7"/>
<line x1="75.30" y1="19.00" x2="75.30" y2="25.00" stroke="#444" stroke-width="0.7"/>
<line x1="75.30" y1="185.50" x2="75.30" y2="179.50" stroke="#444" stroke-width="0.7"/>
<line x1="82.12" y1="19.00" x2="82.12" y2="22.00" stroke="#444" stroke-width="0.7"/>
<line x1="82.12" y1="185.50" x2="82.12" y2="182.50" stroke="#444" stroke-width="0.7"/>
<line x1="88.94" y1="19.00" x2="88.94" y2="22.00" stroke="#444" stroke-width="0.7"/>
<line x1="88.94" y1="185.50" x2="88.94" y2="182.50" stroke="#444" stroke-width="0.7"/>
<line x1="95.76" y1="19.00" x2="95.76" y2="22.00" stroke="#444" stroke-width="0.7"/>
<line x1="95.76" y1="185.50" x2="95.76" y2="182.50" stroke="#444" stroke-width="0.7"/>
<line x1="102.58" y1="19.00" x2="102.58" y2="22.00" stroke="#444" stroke-width="0.7"/>
<line x1="102.58" y1="185.50" x2="102.58" y2="182.50" stroke="#444" stroke-width="0.7"/>
<line x1="109.40" y1="19.00" x2="109.40" y2="25.00" stroke="#444" stroke-width="0.7"/>
<line x1="109.40" y1="185.50" x2="109.40" y2="179.50" stroke="#444" stroke-width="0.7"/>
<line x1="116.22" y1="19.00" x2="116.22" y2="22.00" stroke="#444" stroke-width="0.7"/>
<line x1="116.22" y1="185.50" x2="116.22" y2="182.50" stroke="#444" stroke-width="0.7"/>
<line x1="123.04" y1="19.00" x2="123.04" y2="22.00" stroke="#444" stroke-width="0.7"/>
<line x1="123.04" y1="185.50" x2="123.04" y2="182.50" stroke="#444" stroke-width="0.7"/>
<line x1="129.86" y1="19.00" x2="129.86" y2="22.00" stroke="#444" stroke-width="0.7"/>
<line x1="129.86" y1="185.50" x2="129.86" y2="182.50" stroke="#444" stroke-width="0.7"/>
<line x1="21.00" y1="180.78" x2="24.00" y2="180.78" stroke="#444" stroke-width="0.7"/>
<line x1="133.00" y1="180.78" x2="130.00" y2="180.78" stroke="#444" stroke-width="0.7"/>
<line x1="21.00" y1="174.00" x2="27.00" y2="174.00" stroke="#444" stroke-width="0.7"/>
<line x1="133.00" y1="174.00" x2="127.00" y2="174.00" stroke="#444" stroke-width="0.7"/>
<line x1="21.00" y1="167.22" x2="24.00" y2="167.22" stroke="#444" stroke-width="0.7"/>
<line x1="133.00" y1="167.22" x2="130.00" y2="167.22" stroke="#444" stroke-width="0.7"/>
<line x1="21.00" y1="160.44" x2="24.00" y2="160.44" stroke="#444" stroke-width="0.7"/>
<line x1="133.00" y1="160.44" x2="130.00" y2="160.44" stroke="#444" stroke-width="0.7"/>
<line x1="21.00" y1="153.66" x2="24.00" y2="153.66" stroke="#444" stroke-width="0.7"/>
<line x1="133.00" y1="153.66" x2="130.00" y2="153.66" stroke="#444" stroke-width="0.7"/>
<line x1="21.00" y1="146.88" x2="24.00" y2="146.88" stroke="#444" stroke-width="0.7"/>
<line x1="133.00" y1="146.88" x2="130.00" y2="146.88" stroke="#444" stroke-width="0.7"/>
<line x1="21.00" y1="140.10" x2="27.00" y2="140.10" stroke="#444" stroke-width="0.7"/>
<line x1="133.00" y1="140.10" x2="127.00" y2="140.10" stroke="#444" stroke-width="0.7"/>
<line x1="21.00" y1="133.32" x2="24.00" y2="133.32" stroke="#444" stroke-width="0.7"/>
<line x1="133.00" y1="133.32" x2="130.00" y2="133.32" stroke="#444" stroke-width="0.7"/>
<line x1="21.00" y1="126.54" x2="24.00" y2="126.54" stroke="#444" stroke-width="0.7"/>
<line x1="133.00" y1="126.54" x2="130.00" y2="126.54" stroke="#444" stroke-width="0.7"/>
<line x1="21.00" y1="119.76" x2="24.00" y2="119.76" stroke="#444" stroke-width="0.7"/>
<line x1="133.00" y1="119.76" x2="130.00" y2="119.76" stroke="#444" stroke-width="0.7"/>
<line x1="21.00" y1="112.98" x2="24.00" y2="112.98" stroke="#444" stroke-width="0.7"/>
<line x1="133.00" y1="112.98" x2="130.00" y2="112.98" stroke="#444" stroke-width="0.7"/>
<line x1="21.00" y1="106.20" x2="27.00" y2="106.20" stroke="#444" stroke-width="0.7"/>
<line x1="133.00" y1="106.20" x2="127.00" y2="106.20" stroke="#444" stroke-width="0.7"/>
<line x1="21.00" y1="99.42" x2="24.00" y2="99.42" stroke="#444" stroke-width="0.7"/>
<line x1="133.00" y1="99.42" x2="130.00" y2="99.42" stroke="#444" stroke-width="0.7"/>
<line x1="21.00" y1="92.64" x2="24.00" y2="92.64" stroke="#444" stroke-width="0.7"/>
<line x1="133.00" y1="92.64" x2="130.00" y2="92.64" stroke="#444" stroke-width="0.7"/>
<line x1="21.00" y1="85.86" x2="24.00" y2="85.86" stroke="#444" stroke-width="0.7"/>
<line x1="133.00" y1="85.86" x2="130.00" y2="85.86" stroke="#444" stroke-width="0.7"/>
<line x1="21.00" y1="79.08" x2="24.00" y2="79.08" stroke="#444" stroke-width="0.7"/>
<line x1="133.00" y1="79.08" x2="130.00" y2="79.08" stroke="#444" stroke-width="0.7"/>
<line x1="21.00" y1="72.30" x2="27.00" y2="72.30" stroke="#444" stroke-width="0.7"/>
<line x1="133.00" y1="72.30" x2="127.00" y2="72.30" stroke="#444" stroke-width="0.7"/>
<line x1="21.00" y1="65.52" x2="24.00" y2="65.52" stroke="#444" stroke-width="0.7"/>
<line x1="133.00" y1="65.52" x2="130.00" y2="65.52" stroke="#444" stroke-width="0.7"/>
<line x1="21.00" y1="58.74" x2="24.00" y2="58.74" stroke="#444" stroke-width="0.7"/>
<line x1="133.00" y1="58.74" x2="130.00" y2="58.74" stroke="#444" stroke-width="0.7"/>
<line x1="21.00" y1="51.96" x2="24.00" y2="51.96" stroke="#444" stroke-width="0.7"/>
<line x1="133.00" y1="51.96" x2="130.00" y2="51.96" stroke="#444" stroke-width="0.7"/>
<line x1="21.00" y1="45.18" x2="24.00" y2="45.18" stroke="#444" stroke-width="0.7"/>
<line x1="133.00" y1="45.18" x2="130.00" y2="45.18" stroke="#444" stroke-width="0.7"/>
<line x1="21.00" y1="38.40" x2="27.00" y2="38.40" stroke="#444" stroke-width="0.7"/>
<line x1="133.00" y1="38.40" x2="127.00" y2="38.40" stroke="#444" stroke-width="0.7"/>
<line x1="21.00" y1="31.62" x2="24.00" y2="31.62" stroke="#444" stroke-width="0.7"/>
<line x1="133.00" y1="31.62" x2="130.00" y2="31.62" stroke="#444" stroke-width="0.7"/>
<line x1="21.00" y1="24.84" x2="24.00" y2="24.84" stroke="#444" stroke-width="0.7"/>
<line x1="133.00" y1="24.84" x2="130.00" y2="24.84" stroke="#444" stroke-width="0.7"/>
<text x="18.50" y="41.40" font-size="8.5" text-anchor="end" fill="#444" style='font-family:"Liberation Sans", sans-serif' >2</text>
<text x="18.50" y="75.30" font-size="8.5" text-anchor="end" fill="#444" style='font-family:"Liberation Sans", sans-serif' >1</text>
<text x="18.50" y="109.20" font-size="8.5" text-anchor="end" fill="#444" style='font-family:"Liberation Sans", sans-serif' >0</text>
<text x="18.50" y="143.10" font-size="8.5" text-anchor="end" fill="#444" style='font-family:"Liberation Sans", sans-serif' >−1</text>
<text x="18.50" y="177.00" font-size="8.5" text-anchor="end" fill="#444" style='font-family:"Liberation Sans", sans-serif' >−2</text>
<text x="39.70" y="197.50" font-size="8.5" text-anchor="middle" fill="#444" style='font-family:"Liberation Sans", sans-serif' >−1</text>
<text x="75.30" y="197.50" font-size="8.5" text-anchor="middle" fill="#444" style='font-family:"Liberation Sans", sans-serif' >0</text>
<text x="109.40" y="197.50" font-size="8.5" text-anchor="middle" fill="#444" style='font-family:"Liberation Sans", sans-serif' >1</text>
<text x="166.50" y="25.00" font-size="9" text-anchor="end" fill="#444" style='font-family:"Liberation Sans", sans-serif' >300.</text>
<text x="166.50" y="64.00" font-size="9" text-anchor="end" fill="#444" style='font-family:"Liberation Sans", sans-serif' >225.</text>
<text x="166.50" y="104.50" font-size="9" text-anchor="end" fill="#444" style='font-family:"Liberation Sans", sans-serif' >150.</text>
<text x="166.50" y="146.00" font-size="9" text-anchor="end" fill="#444" style='font-family:"Liberation Sans", sans-serif' >75.</text>
<text x="166.50" y="186.00" font-size="9" text-anchor="end" fill="#444" style='font-family:"Liberation Sans", sans-serif' >0.</text>
<text x="66" y="15" font-size="11" fill="#333" style='font-family:"Liberation Serif", serif' font-style="italic">σ</text>
<text x="73" y="17.5" font-size="7" fill="#444">[OIII]</text>
<g clip-path="url(#c2)">
<rect x="190" y="24" width="112" height="144" fill="#a81008"/>
<rect x="190.3" y="24.3" width="7.7" height="8.3" fill="rgb(84,10,14)"/>
<rect x="197.7" y="24.3" width="7.7" height="8.3" fill="rgb(89,12,14)"/>
<rect x="205.1" y="24.3" width="7.7" height="8.3" fill="rgb(116,20,14)"/>
<rect x="212.5" y="24.3" width="7.7" height="8.3" fill="rgb(109,17,14)"/>
<rect x="219.9" y="24.3" width="7.7" height="8.3" fill="rgb(108,17,14)"/>
<rect x="227.3" y="24.3" width="7.7" height="8.3" fill="rgb(102,17,14)"/>
<rect x="234.7" y="24.3" width="7.7" height="8.3" fill="rgb(122,19,14)"/>
<rect x="242.1" y="24.3" width="7.7" height="8.3" fill="rgb(105,17,14)"/>
<rect x="249.5" y="24.3" width="7.7" height="8.3" fill="rgb(128,20,14)"/>
<rect x="256.9" y="24.3" width="7.7" height="8.3" fill="rgb(117,20,14)"/>
<rect x="264.3" y="24.3" width="7.7" height="8.3" fill="rgb(118,23,14)"/>
<rect x="271.7" y="24.3" width="7.7" height="8.3" fill="rgb(155,13,8)"/>
<rect x="279.1" y="24.3" width="7.7" height="8.3" fill="rgb(140,11,8)"/>
<rect x="286.5" y="24.3" width="7.7" height="8.3" fill="rgb(136,11,8)"/>
<rect x="293.9" y="24.3" width="7.7" height="8.3" fill="rgb(86,7,8)"/>
<rect x="301.3" y="24.3" width="7.7" height="8.3" fill="rgb(91,7,8)"/>
<rect x="190.3" y="32.3" width="7.7" height="8.3" fill="rgb(94,14,14)"/>
<rect x="197.7" y="32.3" width="7.7" height="8.3" fill="rgb(98,12,14)"/>
<rect x="205.1" y="32.3" width="7.7" height="8.3" fill="rgb(116,19,14)"/>
<rect x="212.5" y="32.3" width="7.7" height="8.3" fill="rgb(101,17,14)"/>
<rect x="219.9" y="32.3" width="7.7" height="8.3" fill="rgb(115,18,14)"/>
<rect x="227.3" y="32.3" width="7.7" height="8.3" fill="rgb(113,19,14)"/>
<rect x="234.7" y="32.3" width="7.7" height="8.3" fill="rgb(118,20,14)"/>
<rect x="242.1" y="32.3" width="7.7" height="8.3" fill="rgb(119,18,14)"/>
<rect x="249.5" y="32.3" width="7.7" height="8.3" fill="rgb(116,21,14)"/>
<rect x="256.9" y="32.3" width="7.7" height="8.3" fill="rgb(119,20,14)"/>
<rect x="264.3" y="32.3" width="7.7" height="8.3" fill="rgb(129,22,14)"/>
<rect x="271.7" y="32.3" width="7.7" height="8.3" fill="rgb(140,11,8)"/>
<rect x="279.1" y="32.3" width="7.7" height="8.3" fill="rgb(158,13,8)"/>
<rect x="286.5" y="32.3" width="7.7" height="8.3" fill="rgb(135,11,8)"/>
<rect x="293.9" y="32.3" width="7.7" height="8.3" fill="rgb(94,7,8)"/>
<rect x="301.3" y="32.3" width="7.7" height="8.3" fill="rgb(103,8,8)"/>
<rect x="190.3" y="40.3" width="7.7" height="8.3" fill="rgb(87,9,14)"/>
<rect x="197.7" y="40.3" width="7.7" height="8.3" fill="rgb(88,9,14)"/>
<rect x="205.1" y="40.3" width="7.7" height="8.3" fill="rgb(124,21,14)"/>
<rect x="212.5" y="40.3" width="7.7" height="8.3" fill="rgb(121,22,14)"/>
<rect x="219.9" y="40.3" width="7.7" height="8.3" fill="rgb(123,21,14)"/>
<rect x="227.3" y="40.3" width="7.7" height="8.3" fill="rgb(118,20,14)"/>
<rect x="234.7" y="40.3" width="7.7" height="8.3" fill="rgb(132,22,14)"/>
<rect x="242.1" y="40.3" width="7.7" height="8.3" fill="rgb(120,19,14)"/>
<rect x="249.5" y="40.3" width="7.7" height="8.3" fill="rgb(113,17,14)"/>
<rect x="256.9" y="40.3" width="7.7" height="8.3" fill="rgb(130,20,14)"/>
<rect x="264.3" y="40.3" width="7.7" height="8.3" fill="rgb(120,22,14)"/>
<rect x="271.7" y="40.3" width="7.7" height="8.3" fill="rgb(143,12,8)"/>
<rect x="279.1" y="40.3" width="7.7" height="8.3" fill="rgb(150,12,8)"/>
<rect x="286.5" y="40.3" width="7.7" height="8.3" fill="rgb(133,11,8)"/>
<rect x="293.9" y="40.3" width="7.7" height="8.3" fill="rgb(95,8,8)"/>
<rect x="301.3" y="40.3" width="7.7" height="8.3" fill="rgb(87,7,8)"/>
<rect x="190.3" y="48.3" width="7.7" height="8.3" fill="rgb(122,10,8)"/>
<rect x="197.7" y="48.3" width="7.7" height="8.3" fill="rgb(121,10,8)"/>
<rect x="205.1" y="48.3" width="7.7" height="8.3" fill="rgb(173,14,8)"/>
<rect x="212.5" y="48.3" width="7.7" height="8.3" fill="rgb(156,13,8)"/>
<rect x="219.9" y="48.3" width="7.7" height="8.3" fill="rgb(159,13,8)"/>
<rect x="227.3" y="48.3" width="7.7" height="8.3" fill="rgb(163,13,8)"/>
<rect x="234.7" y="48.3" width="7.7" height="8.3" fill="rgb(175,14,8)"/>
<rect x="242.1" y="48.3" width="7.7" height="8.3" fill="rgb(154,13,8)"/>
<rect x="249.5" y="48.3" width="7.7" height="8.3" fill="rgb(164,13,8)"/>
<rect x="256.9" y="48.3" width="7.7" height="8.3" fill="rgb(167,14,8)"/>
<rect x="264.3" y="48.3" width="7.7" height="8.3" fill="rgb(176,14,8)"/>
<rect x="271.7" y="48.3" width="7.7" height="8.3" fill="rgb(174,14,8)"/>
<rect x="279.1" y="48.3" width="7.7" height="8.3" fill="rgb(175,14,8)"/>
<rect x="286.5" y="48.3" width="7.7" height="8.3" fill="rgb(160,13,8)"/>
<rect x="293.9" y="48.3" width="7.7" height="8.3" fill="rgb(113,9,8)"/>
<rect x="301.3" y="48.3" width="7.7" height="8.3" fill="rgb(112,9,8)"/>
<rect x="190.3" y="56.3" width="7.7" height="8.3" fill="rgb(143,12,8)"/>
<rect x="197.7" y="56.3" width="7.7" height="8.3" fill="rgb(144,12,8)"/>
<rect x="205.1" y="56.3" width="7.7" height="8.3" fill="rgb(156,13,8)"/>
<rect x="212.5" y="56.3" width="7.7" height="8.3" fill="rgb(157,13,8)"/>
<rect x="219.9" y="56.3" width="7.7" height="8.3" fill="rgb(158,13,8)"/>
<rect x="227.3" y="56.3" width="7.7" height="8.3" fill="rgb(158,13,8)"/>
<rect x="234.7" y="56.3" width="7.7" height="8.3" fill="rgb(165,13,8)"/>
<rect x="242.1" y="56.3" width="7.7" height="8.3" fill="rgb(168,14,8)"/>
<rect x="249.5" y="56.3" width="7.7" height="8.3" fill="rgb(159,13,8)"/>
<rect x="256.9" y="56.3" width="7.7" height="8.3" fill="rgb(152,12,8)"/>
<rect x="264.3" y="56.3" width="7.7" height="8.3" fill="rgb(163,13,8)"/>
<rect x="271.7" y="56.3" width="7.7" height="8.3" fill="rgb(162,13,8)"/>
<rect x="279.1" y="56.3" width="7.7" height="8.3" fill="rgb(167,14,8)"/>
<rect x="286.5" y="56.3" width="7.7" height="8.3" fill="rgb(178,15,8)"/>
<rect x="293.9" y="56.3" width="7.7" height="8.3" fill="rgb(121,10,8)"/>
<rect x="301.3" y="56.3" width="7.7" height="8.3" fill="rgb(116,9,8)"/>
<rect x="190.3" y="64.3" width="7.7" height="8.3" fill="rgb(135,11,8)"/>
<rect x="197.7" y="64.3" width="7.7" height="8.3" fill="rgb(137,11,8)"/>
<rect x="205.1" y="64.3" width="7.7" height="8.3" fill="rgb(154,13,8)"/>
<rect x="212.5" y="64.3" width="7.7" height="8.3" fill="rgb(176,14,8)"/>
<rect x="219.9" y="64.3" width="7.7" height="8.3" fill="rgb(173,14,8)"/>
<rect x="227.3" y="64.3" width="7.7" height="8.3" fill="rgb(175,14,8)"/>
<rect x="234.7" y="64.3" width="7.7" height="8.3" fill="rgb(173,14,8)"/>
<rect x="242.1" y="64.3" width="7.7" height="8.3" fill="rgb(163,13,8)"/>
<rect x="249.5" y="64.3" width="7.7" height="8.3" fill="rgb(163,13,8)"/>
<rect x="256.9" y="64.3" width="7.7" height="8.3" fill="rgb(155,13,8)"/>
<rect x="264.3" y="64.3" width="7.7" height="8.3" fill="rgb(169,14,8)"/>
<rect x="271.7" y="64.3" width="7.7" height="8.3" fill="rgb(154,13,8)"/>
<rect x="279.1" y="64.3" width="7.7" height="8.3" fill="rgb(154,13,8)"/>
<rect x="286.5" y="64.3" width="7.7" height="8.3" fill="rgb(158,13,8)"/>
<rect x="293.9" y="64.3" width="7.7" height="8.3" fill="rgb(107,9,8)"/>
<rect x="301.3" y="64.3" width="7.7" height="8.3" fill="rgb(111,9,8)"/>
<rect x="190.3" y="72.3" width="7.7" height="8.3" fill="rgb(120,10,8)"/>
<rect x="197.7" y="72.3" width="7.7" height="8.3" fill="rgb(119,10,8)"/>
<rect x="205.1" y="72.3" width="7.7" height="8.3" fill="rgb(156,13,8)"/>
<rect x="212.5" y="72.3" width="7.7" height="8.3" fill="rgb(155,13,8)"/>
<rect x="219.9" y="72.3" width="7.7" height="8.3" fill="rgb(162,13,8)"/>
<rect x="227.3" y="72.3" width="7.7" height="8.3" fill="rgb(153,12,8)"/>
<rect x="234.7" y="72.3" width="7.7" height="8.3" fill="rgb(175,14,8)"/>
<rect x="242.1" y="72.3" width="7.7" height="8.3" fill="rgb(169,14,8)"/>
<rect x="249.5" y="72.3" width="7.7" height="8.3" fill="rgb(156,13,8)"/>
<rect x="256.9" y="72.3" width="7.7" height="8.3" fill="rgb(159,13,8)"/>
<rect x="264.3" y="72.3" width="7.7" height="8.3" fill="rgb(161,13,8)"/>
<rect x="271.7" y="72.3" width="7.7" height="8.3" fill="rgb(162,13,8)"/>
<rect x="279.1" y="72.3" width="7.7" height="8.3" fill="rgb(155,13,8)"/>
<rect x="286.5" y="72.3" width="7.7" height="8.3" fill="rgb(175,14,8)"/>
<rect x="293.9" y="72.3" width="7.7" height="8.3" fill="rgb(129,10,8)"/>
<rect x="301.3" y="72.3" width="7.7" height="8.3" fill="rgb(115,9,8)"/>
<rect x="190.3" y="80.3" width="7.7" height="8.3" fill="rgb(132,11,8)"/>
<rect x="197.7" y="80.3" width="7.7" height="8.3" fill="rgb(121,10,8)"/>
<rect x="205.1" y="80.3" width="7.7" height="8.3" fill="rgb(155,13,8)"/>
<rect x="212.5" y="80.3" width="7.7" height="8.3" fill="rgb(161,13,8)"/>
<rect x="219.9" y="80.3" width="7.7" height="8.3" fill="rgb(159,13,8)"/>
<rect x="227.3" y="80.3" width="7.7" height="8.3" fill="rgb(174,14,8)"/>
<rect x="234.7" y="80.3" width="7.7" height="8.3" fill="rgb(157,13,8)"/>
<rect x="242.1" y="80.3" width="7.7" height="8.3" fill="rgb(153,12,8)"/>
<rect x="249.5" y="80.3" width="7.7" height="8.3" fill="rgb(177,15,8)"/>
<rect x="256.9" y="80.3" width="7.7" height="8.3" fill="rgb(166,14,8)"/>
<rect x="264.3" y="80.3" width="7.7" height="8.3" fill="rgb(156,13,8)"/>
<rect x="271.7" y="80.3" width="7.7" height="8.3" fill="rgb(167,14,8)"/>
<rect x="279.1" y="80.3" width="7.7" height="8.3" fill="rgb(153,12,8)"/>
<rect x="286.5" y="80.3" width="7.7" height="8.3" fill="rgb(166,14,8)"/>
<rect x="293.9" y="80.3" width="7.7" height="8.3" fill="rgb(128,10,8)"/>
<rect x="301.3" y="80.3" width="7.7" height="8.3" fill="rgb(125,10,8)"/>
<rect x="190.3" y="88.3" width="7.7" height="8.3" fill="rgb(138,11,8)"/>
<rect x="197.7" y="88.3" width="7.7" height="8.3" fill="rgb(126,10,8)"/>
<rect x="205.1" y="88.3" width="7.7" height="8.3" fill="rgb(162,13,8)"/>
<rect x="212.5" y="88.3" width="7.7" height="8.3" fill="rgb(157,13,8)"/>
<rect x="219.9" y="88.3" width="7.7" height="8.3" fill="rgb(173,14,8)"/>
<rect x="227.3" y="88.3" width="7.7" height="8.3" fill="rgb(166,14,8)"/>
<rect x="234.7" y="88.3" width="7.7" height="8.3" fill="rgb(173,14,8)"/>
<rect x="242.1" y="88.3" width="7.7" height="8.3" fill="rgb(161,13,8)"/>
<rect x="249.5" y="88.3" width="7.7" height="8.3" fill="rgb(158,13,8)"/>
<rect x="256.9" y="88.3" width="7.7" height="8.3" fill="rgb(174,14,8)"/>
<rect x="264.3" y="88.3" width="7.7" height="8.3" fill="rgb(178,15,8)"/>
<rect x="271.7" y="88.3" width="7.7" height="8.3" fill="rgb(175,14,8)"/>
<rect x="279.1" y="88.3" width="7.7" height="8.3" fill="rgb(174,14,8)"/>
<rect x="286.5" y="88.3" width="7.7" height="8.3" fill="rgb(174,14,8)"/>
<rect x="293.9" y="88.3" width="7.7" height="8.3" fill="rgb(122,10,8)"/>
<rect x="301.3" y="88.3" width="7.7" height="8.3" fill="rgb(108,9,8)"/>
<rect x="190.3" y="96.3" width="7.7" height="8.3" fill="rgb(133,11,8)"/>
<rect x="197.7" y="96.3" width="7.7" height="8.3" fill="rgb(128,10,8)"/>
<rect x="205.1" y="96.3" width="7.7" height="8.3" fill="rgb(153,12,8)"/>
<rect x="212.5" y="96.3" width="7.7" height="8.3" fill="rgb(153,12,8)"/>
<rect x="219.9" y="96.3" width="7.7" height="8.3" fill="rgb(160,13,8)"/>
<rect x="227.3" y="96.3" width="7.7" height="8.3" fill="rgb(159,13,8)"/>
<rect x="234.7" y="96.3" width="7.7" height="8.3" fill="rgb(171,14,8)"/>
<rect x="242.1" y="96.3" width="7.7" height="8.3" fill="rgb(178,15,8)"/>
<rect x="249.5" y="96.3" width="7.7" height="8.3" fill="rgb(164,13,8)"/>
<rect x="256.9" y="96.3" width="7.7" height="8.3" fill="rgb(177,14,8)"/>
<rect x="264.3" y="96.3" width="7.7" height="8.3" fill="rgb(178,15,8)"/>
<rect x="271.7" y="96.3" width="7.7" height="8.3" fill="rgb(178,15,8)"/>
<rect x="279.1" y="96.3" width="7.7" height="8.3" fill="rgb(162,13,8)"/>
<rect x="286.5" y="96.3" width="7.7" height="8.3" fill="rgb(158,13,8)"/>
<rect x="293.9" y="96.3" width="7.7" height="8.3" fill="rgb(108,9,8)"/>
<rect x="301.3" y="96.3" width="7.7" height="8.3" fill="rgb(108,9,8)"/>
<rect x="190.3" y="104.3" width="7.7" height="8.3" fill="rgb(124,10,8)"/>
<rect x="197.7" y="104.3" width="7.7" height="8.3" fill="rgb(136,11,8)"/>
<rect x="205.1" y="104.3" width="7.7" height="8.3" fill="rgb(176,14,8)"/>
<rect x="212.5" y="104.3" width="7.7" height="8.3" fill="rgb(175,14,8)"/>
<rect x="219.9" y="104.3" width="7.7" height="8.3" fill="rgb(165,13,8)"/>
<rect x="227.3" y="104.3" width="7.7" height="8.3" fill="rgb(170,14,8)"/>
<rect x="234.7" y="104.3" width="7.7" height="8.3" fill="rgb(173,14,8)"/>
<rect x="242.1" y="104.3" width="7.7" height="8.3" fill="rgb(154,13,8)"/>
<rect x="249.5" y="104.3" width="7.7" height="8.3" fill="rgb(170,14,8)"/>
<rect x="256.9" y="104.3" width="7.7" height="8.3" fill="rgb(176,14,8)"/>
<rect x="264.3" y="104.3" width="7.7" height="8.3" fill="rgb(173,14,8)"/>
<rect x="271.7" y="104.3" width="7.7" height="8.3" fill="rgb(172,14,8)"/>
<rect x="279.1" y="104.3" width="7.7" height="8.3" fill="rgb(165,13,8)"/>
<rect x="286.5" y="104.3" width="7.7" height="8.3" fill="rgb(157,13,8)"/>
<rect x="293.9" y="104.3" width="7.7" height="8.3" fill="rgb(123,10,8)"/>
<rect x="301.3" y="104.3" width="7.7" height="8.3" fill="rgb(111,9,8)"/>
<rect x="190.3" y="112.3" width="7.7" height="8.3" fill="rgb(140,11,8)"/>
<rect x="197.7" y="112.3" width="7.7" height="8.3" fill="rgb(145,12,8)"/>
<rect x="205.1" y="112.3" width="7.7" height="8.3" fill="rgb(163,13,8)"/>
<rect x="212.5" y="112.3" width="7.7" height="8.3" fill="rgb(163,13,8)"/>
<rect x="219.9" y="112.3" width="7.7" height="8.3" fill="rgb(177,15,8)"/>
<rect x="227.3" y="112.3" width="7.7" height="8.3" fill="rgb(171,14,8)"/>
<rect x="234.7" y="112.3" width="7.7" height="8.3" fill="rgb(157,13,8)"/>
<rect x="242.1" y="112.3" width="7.7" height="8.3" fill="rgb(156,13,8)"/>
<rect x="249.5" y="112.3" width="7.7" height="8.3" fill="rgb(156,13,8)"/>
<rect x="256.9" y="112.3" width="7.7" height="8.3" fill="rgb(176,14,8)"/>
<rect x="264.3" y="112.3" width="7.7" height="8.3" fill="rgb(174,14,8)"/>
<rect x="271.7" y="112.3" width="7.7" height="8.3" fill="rgb(156,13,8)"/>
<rect x="279.1" y="112.3" width="7.7" height="8.3" fill="rgb(174,14,8)"/>
<rect x="286.5" y="112.3" width="7.7" height="8.3" fill="rgb(178,15,8)"/>
<rect x="293.9" y="112.3" width="7.7" height="8.3" fill="rgb(120,10,8)"/>
<rect x="301.3" y="112.3" width="7.7" height="8.3" fill="rgb(112,9,8)"/>
<rect x="190.3" y="120.3" width="7.7" height="8.3" fill="rgb(134,11,8)"/>
<rect x="197.7" y="120.3" width="7.7" height="8.3" fill="rgb(122,10,8)"/>
<rect x="205.1" y="120.3" width="7.7" height="8.3" fill="rgb(153,12,8)"/>
<rect x="212.5" y="120.3" width="7.7" height="8.3" fill="rgb(178,15,8)"/>
<rect x="219.9" y="120.3" width="7.7" height="8.3" fill="rgb(169,14,8)"/>
<rect x="227.3" y="120.3" width="7.7" height="8.3" fill="rgb(166,14,8)"/>
<rect x="234.7" y="120.3" width="7.7" height="8.3" fill="rgb(177,14,8)"/>
<rect x="242.1" y="120.3" width="7.7" height="8.3" fill="rgb(164,13,8)"/>
<rect x="249.5" y="120.3" width="7.7" height="8.3" fill="rgb(175,14,8)"/>
<rect x="256.9" y="120.3" width="7.7" height="8.3" fill="rgb(174,14,8)"/>
<rect x="264.3" y="120.3" width="7.7" height="8.3" fill="rgb(158,13,8)"/>
<rect x="271.7" y="120.3" width="7.7" height="8.3" fill="rgb(159,13,8)"/>
<rect x="279.1" y="120.3" width="7.7" height="8.3" fill="rgb(160,13,8)"/>
<rect x="286.5" y="120.3" width="7.7" height="8.3" fill="rgb(159,13,8)"/>
<rect x="293.9" y="120.3" width="7.7" height="8.3" fill="rgb(118,9,8)"/>
<rect x="301.3" y="120.3" width="7.7" height="8.3" fill="rgb(109,9,8)"/>
<rect x="190.3" y="128.3" width="7.7" height="8.3" fill="rgb(130,11,8)"/>
<rect x="197.7" y="128.3" width="7.7" height="8.3" fill="rgb(123,10,8)"/>
<rect x="205.1" y="128.3" width="7.7" height="8.3" fill="rgb(176,14,8)"/>
<rect x="212.5" y="128.3" width="7.7" height="8.3" fill="rgb(162,13,8)"/>
<rect x="219.9" y="128.3" width="7.7" height="8.3" fill="rgb(164,13,8)"/>
<rect x="227.3" y="128.3" width="7.7" height="8.3" fill="rgb(168,14,8)"/>
<rect x="234.7" y="128.3" width="7.7" height="8.3" fill="rgb(176,14,8)"/>
<rect x="242.1" y="128.3" width="7.7" height="8.3" fill="rgb(163,13,8)"/>
<rect x="249.5" y="128.3" width="7.7" height="8.3" fill="rgb(177,14,8)"/>
<rect x="256.9" y="128.3" width="7.7" height="8.3" fill="rgb(166,14,8)"/>
<rect x="264.3" y="128.3" width="7.7" height="8.3" fill="rgb(166,14,8)"/>
<rect x="271.7" y="128.3" width="7.7" height="8.3" fill="rgb(166,14,8)"/>
<rect x="279.1" y="128.3" width="7.7" height="8.3" fill="rgb(153,12,8)"/>
<rect x="286.5" y="128.3" width="7.7" height="8.3" fill="rgb(164,13,8)"/>
<rect x="293.9" y="128.3" width="7.7" height="8.3" fill="rgb(107,9,8)"/>
<rect x="301.3" y="128.3" width="7.7" height="8.3" fill="rgb(103,8,8)"/>
<rect x="190.3" y="136.3" width="7.7" height="8.3" fill="rgb(140,11,8)"/>
<rect x="197.7" y="136.3" width="7.7" height="8.3" fill="rgb(124,10,8)"/>
<rect x="205.1" y="136.3" width="7.7" height="8.3" fill="rgb(165,13,8)"/>
<rect x="212.5" y="136.3" width="7.7" height="8.3" fill="rgb(171,14,8)"/>
<rect x="219.9" y="136.3" width="7.7" height="8.3" fill="rgb(167,14,8)"/>
<rect x="227.3" y="136.3" width="7.7" height="8.3" fill="rgb(161,13,8)"/>
<rect x="234.7" y="136.3" width="7.7" height="8.3" fill="rgb(166,14,8)"/>
<rect x="242.1" y="136.3" width="7.7" height="8.3" fill="rgb(167,14,8)"/>
<rect x="249.5" y="136.3" width="7.7" height="8.3" fill="rgb(173,14,8)"/>
<rect x="256.9" y="136.3" width="7.7" height="8.3" fill="rgb(155,13,8)"/>
<rect x="264.3" y="136.3" width="7.7" height="8.3" fill="rgb(167,14,8)"/>
<rect x="271.7" y="136.3" width="7.7" height="8.3" fill="rgb(159,13,8)"/>
<rect x="279.1" y="136.3" width="7.7" height="8.3" fill="rgb(160,13,8)"/>
<rect x="286.5" y="136.3" width="7.7" height="8.3" fill="rgb(173,14,8)"/>
<rect x="293.9" y="136.3" width="7.7" height="8.3" fill="rgb(116,9,8)"/>
<rect x="301.3" y="136.3" width="7.7" height="8.3" fill="rgb(117,9,8)"/>
<rect x="190.3" y="144.3" width="7.7" height="8.3" fill="rgb(139,11,8)"/>
<rect x="197.7" y="144.3" width="7.7" height="8.3" fill="rgb(143,12,8)"/>
<rect x="205.1" y="144.3" width="7.7" height="8.3" fill="rgb(164,13,8)"/>
<rect x="212.5" y="144.3" width="7.7" height="8.3" fill="rgb(168,14,8)"/>
<rect x="219.9" y="144.3" width="7.7" height="8.3" fill="rgb(166,14,8)"/>
<rect x="227.3" y="144.3" width="7.7" height="8.3" fill="rgb(166,14,8)"/>
<rect x="234.7" y="144.3" width="7.7" height="8.3" fill="rgb(171,14,8)"/>
<rect x="242.1" y="144.3" width="7.7" height="8.3" fill="rgb(164,13,8)"/>
<rect x="249.5" y="144.3" width="7.7" height="8.3" fill="rgb(166,14,8)"/>
<rect x="256.9" y="144.3" width="7.7" height="8.3" fill="rgb(165,13,8)"/>
<rect x="264.3" y="144.3" width="7.7" height="8.3" fill="rgb(177,14,8)"/>
<rect x="271.7" y="144.3" width="7.7" height="8.3" fill="rgb(171,14,8)"/>
<rect x="279.1" y="144.3" width="7.7" height="8.3" fill="rgb(176,14,8)"/>
<rect x="286.5" y="144.3" width="7.7" height="8.3" fill="rgb(177,14,8)"/>
<rect x="293.9" y="144.3" width="7.7" height="8.3" fill="rgb(109,9,8)"/>
<rect x="301.3" y="144.3" width="7.7" height="8.3" fill="rgb(117,9,8)"/>
<rect x="190.3" y="152.3" width="7.7" height="8.3" fill="rgb(144,12,8)"/>
<rect x="197.7" y="152.3" width="7.7" height="8.3" fill="rgb(141,11,8)"/>
<rect x="205.1" y="152.3" width="7.7" height="8.3" fill="rgb(156,13,8)"/>
<rect x="212.5" y="152.3" width="7.7" height="8.3" fill="rgb(155,13,8)"/>
<rect x="219.9" y="152.3" width="7.7" height="8.3" fill="rgb(164,13,8)"/>
<rect x="227.3" y="152.3" width="7.7" height="8.3" fill="rgb(154,13,8)"/>
<rect x="234.7" y="152.3" width="7.7" height="8.3" fill="rgb(159,13,8)"/>
<rect x="242.1" y="152.3" width="7.7" height="8.3" fill="rgb(154,13,8)"/>
<rect x="249.5" y="152.3" width="7.7" height="8.3" fill="rgb(170,14,8)"/>
<rect x="256.9" y="152.3" width="7.7" height="8.3" fill="rgb(173,14,8)"/>
<rect x="264.3" y="152.3" width="7.7" height="8.3" fill="rgb(176,14,8)"/>
<rect x="271.7" y="152.3" width="7.7" height="8.3" fill="rgb(156,13,8)"/>
<rect x="279.1" y="152.3" width="7.7" height="8.3" fill="rgb(171,14,8)"/>
<rect x="286.5" y="152.3" width="7.7" height="8.3" fill="rgb(170,14,8)"/>
<rect x="293.9" y="152.3" width="7.7" height="8.3" fill="rgb(106,9,8)"/>
<rect x="301.3" y="152.3" width="7.7" height="8.3" fill="rgb(126,10,8)"/>
<rect x="190.3" y="160.3" width="7.7" height="8.3" fill="rgb(145,12,8)"/>
<rect x="197.7" y="160.3" width="7.7" height="8.3" fill="rgb(125,10,8)"/>
<rect x="205.1" y="160.3" width="7.7" height="8.3" fill="rgb(178,15,8)"/>
<rect x="212.5" y="160.3" width="7.7" height="8.3" fill="rgb(163,13,8)"/>
<rect x="219.9" y="160.3" width="7.7" height="8.3" fill="rgb(165,13,8)"/>
<rect x="227.3" y="160.3" width="7.7" height="8.3" fill="rgb(179,15,8)"/>
<rect x="234.7" y="160.3" width="7.7" height="8.3" fill="rgb(174,14,8)"/>
<rect x="242.1" y="160.3" width="7.7" height="8.3" fill="rgb(157,13,8)"/>
<rect x="249.5" y="160.3" width="7.7" height="8.3" fill="rgb(164,13,8)"/>
<rect x="256.9" y="160.3" width="7.7" height="8.3" fill="rgb(166,14,8)"/>
<rect x="264.3" y="160.3" width="7.7" height="8.3" fill="rgb(161,13,8)"/>
<rect x="271.7" y="160.3" width="7.7" height="8.3" fill="rgb(157,13,8)"/>
<rect x="279.1" y="160.3" width="7.7" height="8.3" fill="rgb(161,13,8)"/>
<rect x="286.5" y="160.3" width="7.7" height="8.3" fill="rgb(171,14,8)"/>
<rect x="293.9" y="160.3" width="7.7" height="8.3" fill="rgb(103,8,8)"/>
<rect x="301.3" y="160.3" width="7.7" height="8.3" fill="rgb(117,9,8)"/>
<rect x="190.3" y="168.3" width="7.7" height="8.3" fill="rgb(131,11,8)"/>
<rect x="197.7" y="168.3" width="7.7" height="8.3" fill="rgb(120,10,8)"/>
<rect x="205.1" y="168.3" width="7.7" height="8.3" fill="rgb(161,13,8)"/>
<rect x="212.5" y="168.3" width="7.7" height="8.3" fill="rgb(169,14,8)"/>
<rect x="219.9" y="168.3" width="7.7" height="8.3" fill="rgb(166,14,8)"/>
<rect x="227.3" y="168.3" width="7.7" height="8.3" fill="rgb(154,13,8)"/>
<rect x="234.7" y="168.3" width="7.7" height="8.3" fill="rgb(178,15,8)"/>
<rect x="242.1" y="168.3" width="7.7" height="8.3" fill="rgb(173,14,8)"/>
<rect x="249.5" y="168.3" width="7.7" height="8.3" fill="rgb(178,15,8)"/>
<rect x="256.9" y="168.3" width="7.7" height="8.3" fill="rgb(155,13,8)"/>
<rect x="264.3" y="168.3" width="7.7" height="8.3" fill="rgb(159,13,8)"/>
<rect x="271.7" y="168.3" width="7.7" height="8.3" fill="rgb(153,12,8)"/>
<rect x="279.1" y="168.3" width="7.7" height="8.3" fill="rgb(173,14,8)"/>
<rect x="286.5" y="168.3" width="7.7" height="8.3" fill="rgb(159,13,8)"/>
<rect x="293.9" y="168.3" width="7.7" height="8.3" fill="rgb(106,8,8)"/>
<rect x="301.3" y="168.3" width="7.7" height="8.3" fill="rgb(114,9,8)"/>
<g filter="url(#b3)">
<ellipse cx="262" cy="37" rx="8" ry="7" fill="#600808" opacity="0.7"/>
</g>
<g filter="url(#b2)">
<path d="M212,94 C214,86 226,82 246,82 C266,81 280,86 281,92 C280,98 266,100 252,102 C240,106 222,104 212,94 Z" fill="#f06c10"/>
<ellipse cx="241" cy="94" rx="19" ry="8" fill="#f89820"/>
</g>
<g filter="url(#b1_5)">
<ellipse cx="238" cy="95.5" rx="11" ry="6.5" fill="#f8d870"/>
<ellipse cx="237" cy="96" rx="6" ry="4.5" fill="#fffae8"/>
</g>
<g opacity="0.9">
<rect x="232" y="145" width="4" height="8" fill="#f01010"/>
<rect x="222" y="160" width="5" height="8" fill="#f01010"/>
<rect x="240" y="115" width="5" height="9" fill="#e81010"/>
<rect x="233" y="112" width="6" height="22" fill="#600808"/>
<rect x="245" y="100" width="5" height="6" fill="#600808"/>
<rect x="200" y="78" width="5" height="4" fill="#f01818"/>
</g>
<circle cx="196" cy="80" r="1.5" fill="#ffd0d0"/><circle cx="201" cy="86" r="1.5" fill="#fff0e0"/><circle cx="205" cy="89" r="1.5" fill="#f0a040"/><circle cx="290" cy="27" r="1.5" fill="#f0c060"/>
</g>
<line x1="190.3" y1="48.3" x2="301.4" y2="48.3" stroke="#3a2a10" stroke-width="0.7" opacity="0.8"/>
<path d="M239,96 h4 M241,94 v4" stroke="#e040e0" stroke-width="1"/>
<rect x="190.3" y="24.3" width="111.1" height="143.3" fill="none" stroke="#222" stroke-width="0.6"/>
<rect x="301.4" y="24.3" width="6.2" height="143.3" fill="url(#cb2)" stroke="#222" stroke-width="0.5"/>
<text x="187.50" y="40.20" font-size="8" text-anchor="end" fill="#222" style='font-family:"Liberation Serif", serif' >4</text>
<text x="187.50" y="70.40" font-size="8" text-anchor="end" fill="#222" style='font-family:"Liberation Serif", serif' >2</text>
<text x="187.50" y="100.60" font-size="8" text-anchor="end" fill="#222" style='font-family:"Liberation Serif", serif' >0</text>
<text x="187.50" y="130.80" font-size="8" text-anchor="end" fill="#222" style='font-family:"Liberation Serif", serif' >−2</text>
<text x="187.50" y="161.00" font-size="8" text-anchor="end" fill="#222" style='font-family:"Liberation Serif", serif' >−4</text>
<text x="211.10" y="179.50" font-size="8" text-anchor="middle" fill="#222" style='font-family:"Liberation Serif", serif' >−2</text>
<text x="241.20" y="179.50" font-size="8" text-anchor="middle" fill="#222" style='font-family:"Liberation Serif", serif' >0</text>
<text x="271.30" y="179.50" font-size="8" text-anchor="middle" fill="#222" style='font-family:"Liberation Serif", serif' >2</text>
<text x="301.40" y="179.50" font-size="8" text-anchor="middle" fill="#222" style='font-family:"Liberation Serif", serif' >4</text>
<text x="246.00" y="189.00" font-size="8" text-anchor="middle" fill="#222" style='font-family:"Liberation Serif", serif' font-weight="bold">x [arcsec]</text>
<text x="309.00" y="28.50" font-size="7" text-anchor="start" fill="#333" style='font-family:"Liberation Sans", sans-serif' >300</text>
<text x="309.00" y="63.50" font-size="7" text-anchor="start" fill="#333" style='font-family:"Liberation Sans", sans-serif' >225</text>
<text x="309.00" y="99.00" font-size="7" text-anchor="start" fill="#333" style='font-family:"Liberation Sans", sans-serif' >150</text>
<text x="309.00" y="135.00" font-size="7" text-anchor="start" fill="#333" style='font-family:"Liberation Sans", sans-serif' >75</text>
<text x="309.00" y="169.00" font-size="7" text-anchor="start" fill="#333" style='font-family:"Liberation Sans", sans-serif' >0</text>
<text x="245.5" y="21" font-size="8" text-anchor="middle" fill="#333" style='font-family:"Liberation Serif", serif' font-style="italic">σ</text>
<rect x="351" y="36" width="7" height="140" fill="#e0f8f8" opacity="0.7"/>
<g clip-path="url(#c3)">
<g filter="url(#b1_5)">
<rect x="346.00" y="23.50" width="24.35" height="24.31" fill="#4068f0"/>
<rect x="369.75" y="23.50" width="12.35" height="24.31" fill="#4a60f0"/>
<rect x="381.50" y="23.50" width="12.35" height="24.31" fill="#5040f0"/>
<rect x="393.25" y="23.50" width="12.35" height="24.31" fill="#5040f0"/>
<rect x="405.00" y="23.50" width="12.35" height="24.31" fill="#4080f0"/>
<rect x="416.75" y="23.50" width="12.35" height="24.31" fill="#40a0f0"/>
<rect x="428.50" y="23.50" width="12.35" height="24.31" fill="#40b0f0"/>
<rect x="440.25" y="23.50" width="12.35" height="24.31" fill="#40a0f0"/>
<rect x="452.00" y="23.50" width="12.35" height="24.31" fill="#4860f0"/>
<rect x="463.75" y="23.50" width="12.35" height="24.31" fill="#4860f0"/>
<rect x="475.50" y="23.50" width="12.35" height="24.31" fill="#40d0f0"/>
<rect x="487.25" y="23.50" width="24.35" height="24.31" fill="#5040f0"/>
<rect x="346.00" y="47.21" width="24.35" height="12.31" fill="#4080f0"/>
<rect x="369.75" y="47.21" width="12.35" height="12.31" fill="#4878f0"/>
<rect x="381.50" y="47.21" width="12.35" height="12.31" fill="#5040f0"/>
<rect x="393.25" y="47.21" width="12.35" height="12.31" fill="#5040f0"/>
<rect x="405.00" y="47.21" width="12.35" height="12.31" fill="#4870f0"/>
<rect x="416.75" y="47.21" width="12.35" height="12.31" fill="#40b0f0"/>
<rect x="428.50" y="47.21" width="12.35" height="12.31" fill="#30c8f0"/>
<rect x="440.25" y="47.21" width="12.35" height="12.31" fill="#30d0f0"/>
<rect x="452.00" y="47.21" width="12.35" height="12.31" fill="#60c8c0"/>
<rect x="463.75" y="47.21" width="12.35" height="12.31" fill="#4870f0"/>
<rect x="475.50" y="47.21" width="12.35" height="12.31" fill="#30d0f0"/>
<rect x="487.25" y="47.21" width="24.35" height="12.31" fill="#5048f0"/>
<rect x="346.00" y="58.92" width="24.35" height="12.31" fill="#4088f0"/>
<rect x="369.75" y="58.92" width="12.35" height="12.31" fill="#4088f0"/>
<rect x="381.50" y="58.92" width="12.35" height="12.31" fill="#5040f0"/>
<rect x="393.25" y="58.92" width="12.35" height="12.31" fill="#5048f0"/>
<rect x="405.00" y="58.92" width="12.35" height="12.31" fill="#4098f0"/>
<rect x="416.75" y="58.92" width="12.35" height="12.31" fill="#30c0f0"/>
<rect x="428.50" y="58.92" width="12.35" height="12.31" fill="#30d0f0"/>
<rect x="440.25" y="58.92" width="12.35" height="12.31" fill="#30d8e0"/>
<rect x="452.00" y="58.92" width="12.35" height="12.31" fill="#40e080"/>
<rect x="463.75" y="58.92" width="12.35" height="12.31" fill="#40e090"/>
<rect x="475.50" y="58.92" width="12.35" height="12.31" fill="#4080f0"/>
<rect x="487.25" y="58.92" width="24.35" height="12.31" fill="#5050f0"/>
<rect x="346.00" y="70.62" width="24.35" height="12.31" fill="#4890f0"/>
<rect x="369.75" y="70.62" width="12.35" height="12.31" fill="#48a0f0"/>
<rect x="381.50" y="70.62" width="12.35" height="12.31" fill="#48a0f0"/>
<rect x="393.25" y="70.62" width="12.35" height="12.31" fill="#40b0f0"/>
<rect x="405.00" y="70.62" width="12.35" height="12.31" fill="#40b8f0"/>
<rect x="416.75" y="70.62" width="12.35" height="12.31" fill="#30e070"/>
<rect x="428.50" y="70.62" width="12.35" height="12.31" fill="#c8d830"/>
<rect x="440.25" y="70.62" width="12.35" height="12.31" fill="#b0d840"/>
<rect x="452.00" y="70.62" width="12.35" height="12.31" fill="#40e870"/>
<rect x="463.75" y="70.62" width="12.35" height="12.31" fill="#40e870"/>
<rect x="475.50" y="70.62" width="12.35" height="12.31" fill="#40e0b0"/>
<rect x="487.25" y="70.62" width="24.35" height="12.31" fill="#4090f0"/>
<rect x="346.00" y="82.33" width="24.35" height="12.31" fill="#48a0f0"/>
<rect x="369.75" y="82.33" width="12.35" height="12.31" fill="#48a0f0"/>
<rect x="381.50" y="82.33" width="12.35" height="12.31" fill="#40b0f0"/>
<rect x="393.25" y="82.33" width="12.35" height="12.31" fill="#30c8f0"/>
<rect x="405.00" y="82.33" width="12.35" height="12.31" fill="#30d0e0"/>
<rect x="416.75" y="82.33" width="12.35" height="12.31" fill="#d8c020"/>
<rect x="428.50" y="82.33" width="12.35" height="12.31" fill="#c83010"/>
<rect x="440.25" y="82.33" width="12.35" height="12.31" fill="#d0c820"/>
<rect x="452.00" y="82.33" width="12.35" height="12.31" fill="#50e870"/>
<rect x="463.75" y="82.33" width="12.35" height="12.31" fill="#40e080"/>
<rect x="475.50" y="82.33" width="12.35" height="12.31" fill="#40d8c8"/>
<rect x="487.25" y="82.33" width="24.35" height="12.31" fill="#40b0f0"/>
<rect x="346.00" y="94.04" width="24.35" height="12.31" fill="#40a8f0"/>
<rect x="369.75" y="94.04" width="12.35" height="12.31" fill="#40b0f0"/>
<rect x="381.50" y="94.04" width="12.35" height="12.31" fill="#40c0f0"/>
<rect x="393.25" y="94.04" width="12.35" height="12.31" fill="#30c8f0"/>
<rect x="405.00" y="94.04" width="12.35" height="12.31" fill="#50e090"/>
<rect x="416.75" y="94.04" width="12.35" height="12.31" fill="#e09018"/>
<rect x="428.50" y="94.04" width="12.35" height="12.31" fill="#b02808"/>
<rect x="440.25" y="94.04" width="12.35" height="12.31" fill="#a0e040"/>
<rect x="452.00" y="94.04" width="12.35" height="12.31" fill="#40e090"/>
<rect x="463.75" y="94.04" width="12.35" height="12.31" fill="#40d8c0"/>
<rect x="475.50" y="94.04" width="12.35" height="12.31" fill="#40c8f0"/>
<rect x="487.25" y="94.04" width="24.35" height="12.31" fill="#40b8f0"/>
<rect x="346.00" y="105.75" width="24.35" height="12.31" fill="#40a8f0"/>
<rect x="369.75" y="105.75" width="12.35" height="12.31" fill="#40b0f0"/>
<rect x="381.50" y="105.75" width="12.35" height="12.31" fill="#40c8f0"/>
<rect x="393.25" y="105.75" width="12.35" height="12.31" fill="#40d0e0"/>
<rect x="405.00" y="105.75" width="12.35" height="12.31" fill="#60e070"/>
<rect x="416.75" y="105.75" width="12.35" height="12.31" fill="#d05010"/>
<rect x="428.50" y="105.75" width="12.35" height="12.31" fill="#b02808"/>
<rect x="440.25" y="105.75" width="12.35" height="12.31" fill="#60e060"/>
<rect x="452.00" y="105.75" width="12.35" height="12.31" fill="#40e0a0"/>
<rect x="463.75" y="105.75" width="12.35" height="12.31" fill="#40c0f0"/>
<rect x="475.50" y="105.75" width="12.35" height="12.31" fill="#40c0f0"/>
<rect x="487.25" y="105.75" width="24.35" height="12.31" fill="#40b8f0"/>
<rect x="346.00" y="117.46" width="24.35" height="12.31" fill="#40b0f0"/>
<rect x="369.75" y="117.46" width="12.35" height="12.31" fill="#40c0f0"/>
<rect x="381.50" y="117.46" width="12.35" height="12.31" fill="#40d0e0"/>
<rect x="393.25" y="117.46" width="12.35" height="12.31" fill="#b0e040"/>
<rect x="405.00" y="117.46" width="12.35" height="12.31" fill="#e0d020"/>
<rect x="416.75" y="117.46" width="12.35" height="12.31" fill="#e89018"/>
<rect x="428.50" y="117.46" width="12.35" height="12.31" fill="#e8a020"/>
<rect x="440.25" y="117.46" width="12.35" height="12.31" fill="#a0e040"/>
<rect x="452.00" y="117.46" width="12.35" height="12.31" fill="#40d8c0"/>
<rect x="463.75" y="117.46" width="12.35" height="12.31" fill="#40d0e0"/>
<rect x="475.50" y="117.46" width="12.35" height="12.31" fill="#40c8f0"/>
<rect x="487.25" y="117.46" width="24.35" height="12.31" fill="#40c0f0"/>
<rect x="346.00" y="129.17" width="24.35" height="12.31" fill="#4890f0"/>
<rect x="369.75" y="129.17" width="12.35" height="12.31" fill="#40b8f0"/>
<rect x="381.50" y="129.17" width="12.35" height="12.31" fill="#40d0e0"/>
<rect x="393.25" y="129.17" width="12.35" height="12.31" fill="#a0e040"/>
<rect x="405.00" y="129.17" width="12.35" height="12.31" fill="#e8c020"/>
<rect x="416.75" y="129.17" width="12.35" height="12.31" fill="#e8c020"/>
<rect x="428.50" y="129.17" width="12.35" height="12.31" fill="#c0e030"/>
<rect x="440.25" y="129.17" width="12.35" height="12.31" fill="#60e070"/>
<rect x="452.00" y="129.17" width="12.35" height="12.31" fill="#40e0a0"/>
<rect x="463.75" y="129.17" width="12.35" height="12.31" fill="#40c8f0"/>
<rect x="475.50" y="129.17" width="12.35" height="12.31" fill="#40c8f0"/>
<rect x="487.25" y="129.17" width="24.35" height="12.31" fill="#40c8f0"/>
<rect x="346.00" y="140.88" width="24.35" height="12.31" fill="#4880f0"/>
<rect x="369.75" y="140.88" width="12.35" height="12.31" fill="#40b0f0"/>
<rect x="381.50" y="140.88" width="12.35" height="12.31" fill="#40c8e0"/>
<rect x="393.25" y="140.88" width="12.35" height="12.31" fill="#40d8c0"/>
<rect x="405.00" y="140.88" width="12.35" height="12.31" fill="#4898f0"/>
<rect x="416.75" y="140.88" width="12.35" height="12.31" fill="#40c0f0"/>
<rect x="428.50" y="140.88" width="12.35" height="12.31" fill="#40e0a0"/>
<rect x="440.25" y="140.88" width="12.35" height="12.31" fill="#40e890"/>
<rect x="452.00" y="140.88" width="12.35" height="12.31" fill="#40e090"/>
<rect x="463.75" y="140.88" width="12.35" height="12.31" fill="#40d8c0"/>
<rect x="475.50" y="140.88" width="12.35" height="12.31" fill="#40d0e0"/>
<rect x="487.25" y="140.88" width="24.35" height="12.31" fill="#40c8f0"/>
<rect x="346.00" y="152.58" width="24.35" height="12.31" fill="#4860f0"/>
<rect x="369.75" y="152.58" width="12.35" height="12.31" fill="#4a48f0"/>
<rect x="381.50" y="152.58" width="12.35" height="12.31" fill="#40a0f0"/>
<rect x="393.25" y="152.58" width="12.35" height="12.31" fill="#40c0f0"/>
<rect x="405.00" y="152.58" width="12.35" height="12.31" fill="#c0d830"/>
<rect x="416.75" y="152.58" width="12.35" height="12.31" fill="#40a0f0"/>
<rect x="428.50" y="152.58" width="12.35" height="12.31" fill="#40c8f0"/>
<rect x="440.25" y="152.58" width="12.35" height="12.31" fill="#40d0e0"/>
<rect x="452.00" y="152.58" width="12.35" height="12.31" fill="#40d8c0"/>
<rect x="463.75" y="152.58" width="12.35" height="12.31" fill="#40d0d8"/>
<rect x="475.50" y="152.58" width="12.35" height="12.31" fill="#4870f0"/>
<rect x="487.25" y="152.58" width="24.35" height="12.31" fill="#4a60f0"/>
<rect x="346.00" y="164.29" width="24.35" height="24.31" fill="#4a40f0"/>
<rect x="369.75" y="164.29" width="12.35" height="24.31" fill="#5040f0"/>
<rect x="381.50" y="164.29" width="12.35" height="24.31" fill="#4a50f0"/>
<rect x="393.25" y="164.29" width="12.35" height="24.31" fill="#4870f0"/>
<rect x="405.00" y="164.29" width="12.35" height="24.31" fill="#b0d840"/>
<rect x="416.75" y="164.29" width="12.35" height="24.31" fill="#4890f0"/>
<rect x="428.50" y="164.29" width="12.35" height="24.31" fill="#40b0f0"/>
<rect x="440.25" y="164.29" width="12.35" height="24.31" fill="#40c0f0"/>
<rect x="452.00" y="164.29" width="12.35" height="24.31" fill="#40c0f0"/>
<rect x="463.75" y="164.29" width="12.35" height="24.31" fill="#4880f0"/>
<rect x="475.50" y="164.29" width="12.35" height="24.31" fill="#4a40f0"/>
<rect x="487.25" y="164.29" width="24.35" height="24.31" fill="#4a40f0"/>
</g>
<g filter="url(#b0_6)" opacity="0.55">
<circle cx="421.8" cy="114.1" r="1.7" fill="rgb(239,92,18)"/>
<circle cx="478.6" cy="62.2" r="2.0" fill="rgb(73,147,255)"/>
<circle cx="469.8" cy="48.7" r="1.2" fill="rgb(61,95,204)"/>
<circle cx="434.0" cy="160.6" r="2.0" fill="rgb(80,250,255)"/>
<circle cx="413.9" cy="99.1" r="2.0" fill="rgb(96,255,172)"/>
<circle cx="475.3" cy="44.4" r="1.3" fill="rgb(90,120,255)"/>
<circle cx="392.1" cy="39.7" r="1.5" fill="rgb(92,73,255)"/>
<circle cx="441.3" cy="62.9" r="2.0" fill="rgb(57,255,255)"/>
<circle cx="428.5" cy="128.6" r="2.0" fill="rgb(255,165,27)"/>
<circle cx="415.4" cy="113.0" r="2.1" fill="rgb(120,255,140)"/>
<circle cx="402.5" cy="67.8" r="1.0" fill="rgb(68,61,204)"/>
<circle cx="437.4" cy="50.7" r="2.4" fill="rgb(60,250,255)"/>
<circle cx="412.5" cy="170.1" r="1.3" fill="rgb(220,255,80)"/>
<circle cx="488.7" cy="42.9" r="2.6" fill="rgb(92,73,255)"/>
<circle cx="414.0" cy="45.8" r="2.2" fill="rgb(76,153,255)"/>
<circle cx="396.0" cy="47.7" r="1.0" fill="rgb(68,54,204)"/>
<circle cx="415.8" cy="165.2" r="1.4" fill="rgb(211,255,76)"/>
<circle cx="372.2" cy="43.9" r="1.3" fill="rgb(85,110,255)"/>
<circle cx="436.9" cy="98.4" r="2.6" fill="rgb(211,48,9)"/>
<circle cx="466.5" cy="94.4" r="1.2" fill="rgb(73,248,220)"/>
<circle cx="417.3" cy="65.4" r="2.4" fill="rgb(40,163,204)"/>
<circle cx="495.5" cy="118.8" r="1.3" fill="rgb(80,240,255)"/>
<circle cx="413.6" cy="155.5" r="1.1" fill="rgb(240,255,60)"/>
<circle cx="378.6" cy="97.5" r="2.2" fill="rgb(80,220,255)"/>
<circle cx="404.4" cy="77.1" r="1.1" fill="rgb(80,220,255)"/>
<circle cx="387.4" cy="124.9" r="2.0" fill="rgb(80,255,255)"/>
<circle cx="410.4" cy="99.2" r="2.3" fill="rgb(92,255,165)"/>
<circle cx="377.1" cy="89.7" r="1.5" fill="rgb(86,192,255)"/>
<circle cx="390.2" cy="121.3" r="1.3" fill="rgb(76,249,255)"/>
<circle cx="446.7" cy="113.3" r="2.4" fill="rgb(110,255,110)"/>
<circle cx="443.1" cy="94.7" r="1.2" fill="rgb(200,255,80)"/>
<circle cx="430.2" cy="71.4" r="1.4" fill="rgb(229,248,55)"/>
<circle cx="474.1" cy="119.3" r="1.8" fill="rgb(54,176,190)"/>
<circle cx="489.0" cy="172.8" r="1.4" fill="rgb(88,76,255)"/>
<circle cx="436.9" cy="155.3" r="1.4" fill="rgb(80,250,255)"/>
<circle cx="487.3" cy="64.2" r="1.1" fill="rgb(100,100,255)"/>
<circle cx="416.0" cy="70.5" r="1.3" fill="rgb(80,190,255)"/>
<circle cx="410.0" cy="115.9" r="1.1" fill="rgb(115,255,134)"/>
<circle cx="377.5" cy="98.8" r="2.1" fill="rgb(54,149,204)"/>
<circle cx="455.5" cy="117.6" r="1.9" fill="rgb(76,255,230)"/>
<circle cx="488.2" cy="102.2" r="2.1" fill="rgb(54,156,204)"/>
<circle cx="493.8" cy="38.5" r="1.8" fill="rgb(100,80,255)"/>
<circle cx="461.0" cy="80.3" r="1.1" fill="rgb(80,255,140)"/>
<circle cx="435.0" cy="139.0" r="2.3" fill="rgb(230,255,57)"/>
<circle cx="487.0" cy="84.9" r="2.4" fill="rgb(73,248,229)"/>
<circle cx="480.8" cy="94.1" r="2.4" fill="rgb(80,250,255)"/>
<circle cx="438.8" cy="123.3" r="1.6" fill="rgb(255,184,36)"/>
<circle cx="359.8" cy="45.7" r="2.0" fill="rgb(80,130,255)"/>
<circle cx="498.1" cy="159.1" r="1.6" fill="rgb(62,81,204)"/>
<circle cx="461.6" cy="117.1" r="1.7" fill="rgb(73,255,184)"/>
<circle cx="434.3" cy="108.4" r="1.5" fill="rgb(220,50,10)"/>
<circle cx="370.4" cy="38.6" r="1.8" fill="rgb(92,120,255)"/>
<circle cx="444.6" cy="164.8" r="2.4" fill="rgb(54,163,204)"/>
<circle cx="409.9" cy="55.6" r="1.8" fill="rgb(86,134,255)"/>
<circle cx="464.3" cy="83.6" r="1.8" fill="rgb(73,255,147)"/>
<circle cx="392.0" cy="92.4" r="1.3" fill="rgb(54,149,204)"/>
<circle cx="418.8" cy="148.7" r="2.4" fill="rgb(76,230,255)"/>
<circle cx="412.2" cy="117.4" r="1.3" fill="rgb(81,190,95)"/>
<circle cx="377.0" cy="84.8" r="2.1" fill="rgb(90,200,255)"/>
<circle cx="492.0" cy="74.4" r="1.2" fill="rgb(76,172,255)"/>
<circle cx="424.5" cy="165.6" r="1.6" fill="rgb(82,165,255)"/>
<circle cx="431.3" cy="129.9" r="1.5" fill="rgb(220,255,55)"/>
<circle cx="474.9" cy="74.6" r="2.1" fill="rgb(80,255,140)"/>
<circle cx="397.6" cy="85.3" r="2.0" fill="rgb(60,250,255)"/>
<circle cx="415.1" cy="62.2" r="1.4" fill="rgb(54,129,204)"/>
<circle cx="377.9" cy="42.1" r="1.7" fill="rgb(92,120,255)"/>
<circle cx="446.8" cy="127.5" r="2.5" fill="rgb(136,190,54)"/>
<circle cx="454.5" cy="63.5" r="1.4" fill="rgb(73,255,147)"/>
<circle cx="458.7" cy="141.6" r="1.3" fill="rgb(80,255,180)"/>
<circle cx="396.4" cy="84.1" r="1.6" fill="rgb(57,240,255)"/>
<circle cx="469.7" cy="162.8" r="1.7" fill="rgb(80,255,255)"/>
<circle cx="483.9" cy="90.0" r="1.7" fill="rgb(73,248,229)"/>
<circle cx="446.2" cy="163.4" r="1.9" fill="rgb(73,239,255)"/>
<circle cx="450.0" cy="106.1" r="1.7" fill="rgb(81,190,81)"/>
<circle cx="449.8" cy="64.3" r="1.3" fill="rgb(60,255,255)"/>
<circle cx="484.9" cy="173.3" r="1.9" fill="rgb(62,54,204)"/>
<circle cx="469.5" cy="80.5" r="1.6" fill="rgb(80,255,140)"/>
<circle cx="369.7" cy="97.4" r="2.2" fill="rgb(73,193,255)"/>
<circle cx="426.7" cy="39.5" r="1.7" fill="rgb(80,200,255)"/>
<circle cx="362.9" cy="110.4" r="1.8" fill="rgb(76,201,255)"/>
<circle cx="499.0" cy="162.0" r="2.5" fill="rgb(85,110,255)"/>
<circle cx="427.5" cy="168.9" r="2.2" fill="rgb(90,180,255)"/>
<circle cx="420.0" cy="114.0" r="1.8" fill="rgb(249,96,19)"/>
<circle cx="477.0" cy="114.2" r="2.1" fill="rgb(54,163,204)"/>
<circle cx="492.6" cy="157.7" r="1.5" fill="rgb(88,115,255)"/>
<circle cx="377.9" cy="112.0" r="1.9" fill="rgb(54,149,204)"/>
<circle cx="386.3" cy="110.8" r="2.0" fill="rgb(80,250,255)"/>
<circle cx="361.9" cy="171.7" r="1.9" fill="rgb(85,73,255)"/>
<circle cx="497.5" cy="52.6" r="2.1" fill="rgb(100,90,255)"/>
<circle cx="367.3" cy="111.2" r="2.5" fill="rgb(73,193,255)"/>
<circle cx="470.9" cy="92.3" r="1.8" fill="rgb(76,255,153)"/>
<circle cx="375.9" cy="96.4" r="1.8" fill="rgb(73,202,255)"/>
<circle cx="373.3" cy="94.4" r="2.5" fill="rgb(80,220,255)"/>
<circle cx="376.3" cy="145.0" r="1.1" fill="rgb(80,220,255)"/>
<circle cx="379.9" cy="37.2" r="1.5" fill="rgb(62,81,204)"/>
<circle cx="408.1" cy="122.6" r="1.8" fill="rgb(255,255,40)"/>
<circle cx="440.1" cy="155.2" r="2.1" fill="rgb(54,170,204)"/>
<circle cx="456.9" cy="159.0" r="1.6" fill="rgb(80,255,240)"/>
<circle cx="416.3" cy="109.9" r="1.9" fill="rgb(115,255,134)"/>
<circle cx="479.8" cy="110.5" r="1.8" fill="rgb(76,230,255)"/>
<circle cx="478.0" cy="121.4" r="1.4" fill="rgb(76,240,255)"/>
<circle cx="462.4" cy="149.4" r="1.5" fill="rgb(76,255,172)"/>
<circle cx="402.4" cy="165.1" r="2.2" fill="rgb(86,134,255)"/>
<circle cx="385.4" cy="49.1" r="1.2" fill="rgb(96,76,255)"/>
<circle cx="370.4" cy="90.0" r="2.3" fill="rgb(82,184,255)"/>
<circle cx="417.4" cy="146.5" r="1.3" fill="rgb(76,230,255)"/>
<circle cx="446.5" cy="147.7" r="1.3" fill="rgb(80,255,180)"/>
<circle cx="454.2" cy="163.5" r="1.2" fill="rgb(54,183,163)"/>
<circle cx="429.3" cy="142.0" r="2.3" fill="rgb(76,255,192)"/>
<circle cx="426.0" cy="38.9" r="1.2" fill="rgb(73,184,255)"/>
<circle cx="384.0" cy="64.1" r="2.6" fill="rgb(96,76,255)"/>
<circle cx="488.7" cy="48.9" r="1.2" fill="rgb(100,90,255)"/>
<circle cx="454.0" cy="46.4" r="1.5" fill="rgb(90,120,255)"/>
<circle cx="423.8" cy="107.9" r="1.3" fill="rgb(239,92,18)"/>
<circle cx="410.6" cy="124.6" r="2.4" fill="rgb(255,255,40)"/>
<circle cx="383.6" cy="99.3" r="1.6" fill="rgb(54,163,204)"/>
<circle cx="385.5" cy="58.7" r="1.5" fill="rgb(100,80,255)"/>
<circle cx="370.0" cy="153.8" r="1.9" fill="rgb(85,82,255)"/>
<circle cx="384.9" cy="117.6" r="2.3" fill="rgb(54,176,190)"/>
<circle cx="394.4" cy="163.5" r="2.3" fill="rgb(76,230,255)"/>
<circle cx="415.2" cy="161.5" r="2.2" fill="rgb(163,183,40)"/>
<circle cx="465.9" cy="92.5" r="1.1" fill="rgb(76,255,153)"/>
<circle cx="406.2" cy="101.4" r="2.4" fill="rgb(100,255,180)"/>
<circle cx="497.7" cy="162.3" r="1.4" fill="rgb(92,120,255)"/>
<circle cx="491.2" cy="129.1" r="1.3" fill="rgb(54,163,204)"/>
<circle cx="415.3" cy="61.1" r="1.6" fill="rgb(80,190,255)"/>
<circle cx="499.0" cy="125.7" r="2.2" fill="rgb(80,240,255)"/>
<circle cx="496.2" cy="38.7" r="2.2" fill="rgb(100,80,255)"/>
<circle cx="394.2" cy="91.9" r="2.2" fill="rgb(60,250,255)"/>
<circle cx="449.4" cy="37.0" r="1.4" fill="rgb(54,136,204)"/>
<circle cx="485.7" cy="112.8" r="2.5" fill="rgb(73,220,255)"/>
<circle cx="438.1" cy="175.3" r="2.3" fill="rgb(73,202,255)"/>
<circle cx="368.7" cy="119.5" r="1.6" fill="rgb(80,220,255)"/>
<circle cx="490.3" cy="89.7" r="2.4" fill="rgb(76,211,255)"/>
<circle cx="434.4" cy="119.3" r="2.5" fill="rgb(255,184,36)"/>
<circle cx="417.3" cy="109.5" r="1.6" fill="rgb(176,68,13)"/>
<circle cx="398.3" cy="127.5" r="2.1" fill="rgb(149,190,54)"/>
<circle cx="463.4" cy="39.3" r="1.9" fill="rgb(86,115,255)"/>
<circle cx="447.3" cy="92.9" r="1.1" fill="rgb(239,229,36)"/>
<circle cx="402.4" cy="91.4" r="1.1" fill="rgb(40,170,204)"/>
<circle cx="485.7" cy="95.8" r="1.4" fill="rgb(73,229,255)"/>
<circle cx="464.5" cy="41.9" r="2.5" fill="rgb(90,120,255)"/>
<circle cx="459.9" cy="101.3" r="2.0" fill="rgb(76,255,172)"/>
<circle cx="374.2" cy="123.2" r="1.2" fill="rgb(73,220,255)"/>
<circle cx="479.4" cy="85.6" r="1.2" fill="rgb(76,255,240)"/>
<circle cx="420.4" cy="129.3" r="2.0" fill="rgb(255,220,36)"/>
<circle cx="448.2" cy="131.3" r="2.2" fill="rgb(81,190,95)"/>
<circle cx="432.8" cy="175.7" r="2.2" fill="rgb(54,149,204)"/>
<circle cx="391.6" cy="51.5" r="2.3" fill="rgb(68,54,204)"/>
<circle cx="446.1" cy="86.0" r="2.0" fill="rgb(176,170,27)"/>
<circle cx="460.2" cy="133.7" r="2.0" fill="rgb(76,255,192)"/>
<circle cx="464.2" cy="62.2" r="1.8" fill="rgb(76,255,172)"/>
<circle cx="450.1" cy="63.0" r="2.0" fill="rgb(60,255,255)"/>
<circle cx="359.3" cy="72.0" r="2.0" fill="rgb(90,180,255)"/>
<circle cx="372.4" cy="111.6" r="2.2" fill="rgb(80,220,255)"/>
<circle cx="486.7" cy="58.1" r="2.0" fill="rgb(57,249,255)"/>
<circle cx="410.6" cy="102.7" r="1.5" fill="rgb(96,255,172)"/>
<circle cx="427.7" cy="54.2" r="2.3" fill="rgb(80,220,255)"/>
<circle cx="421.1" cy="151.0" r="1.7" fill="rgb(76,230,255)"/>
<circle cx="463.4" cy="90.3" r="1.6" fill="rgb(96,255,134)"/>
<circle cx="450.2" cy="174.5" r="1.5" fill="rgb(54,163,204)"/>
<circle cx="465.0" cy="151.6" r="1.7" fill="rgb(76,255,230)"/>
<circle cx="410.1" cy="49.1" r="1.1" fill="rgb(61,95,204)"/>
<circle cx="369.7" cy="114.8" r="2.3" fill="rgb(73,193,255)"/>
<circle cx="423.4" cy="151.2" r="1.1" fill="rgb(80,240,255)"/>
<circle cx="388.1" cy="128.5" r="2.1" fill="rgb(80,255,255)"/>
<circle cx="427.8" cy="142.9" r="1.5" fill="rgb(54,163,204)"/>
<circle cx="378.2" cy="85.8" r="1.6" fill="rgb(61,136,204)"/>
<circle cx="374.6" cy="135.2" r="1.7" fill="rgb(54,156,204)"/>
<circle cx="471.2" cy="78.3" r="1.4" fill="rgb(54,197,95)"/>
<circle cx="494.5" cy="138.0" r="1.1" fill="rgb(76,240,255)"/>
<circle cx="474.8" cy="38.9" r="1.9" fill="rgb(82,110,255)"/>
<circle cx="470.3" cy="139.3" r="2.3" fill="rgb(54,170,204)"/>
<circle cx="434.2" cy="153.0" r="1.3" fill="rgb(76,240,255)"/>
<circle cx="465.0" cy="159.3" r="2.3" fill="rgb(54,176,183)"/>
<circle cx="389.2" cy="43.6" r="1.9" fill="rgb(96,76,255)"/>
<circle cx="494.3" cy="127.0" r="1.1" fill="rgb(73,220,255)"/>
<circle cx="435.1" cy="146.2" r="1.5" fill="rgb(80,255,200)"/>
<circle cx="396.6" cy="50.3" r="1.1" fill="rgb(68,54,204)"/>
<circle cx="447.4" cy="55.7" r="1.4" fill="rgb(55,239,255)"/>
<circle cx="389.1" cy="143.0" r="2.2" fill="rgb(54,170,190)"/>
<circle cx="413.6" cy="83.0" r="2.1" fill="rgb(40,176,190)"/>
<circle cx="427.6" cy="111.0" r="2.1" fill="rgb(255,100,20)"/>
<circle cx="487.0" cy="93.2" r="2.4" fill="rgb(54,183,170)"/>
<circle cx="471.6" cy="152.7" r="2.5" fill="rgb(73,239,248)"/>
<circle cx="448.3" cy="109.1" r="2.3" fill="rgb(120,255,120)"/>
<circle cx="417.4" cy="94.6" r="1.4" fill="rgb(255,172,28)"/>
<circle cx="380.9" cy="124.7" r="1.5" fill="rgb(76,230,255)"/>
<circle cx="412.9" cy="109.8" r="2.6" fill="rgb(81,190,95)"/>
<circle cx="366.3" cy="78.8" r="1.5" fill="rgb(90,180,255)"/>
<circle cx="379.9" cy="164.7" r="2.2" fill="rgb(100,80,255)"/>
<circle cx="360.4" cy="103.1" r="1.5" fill="rgb(80,210,255)"/>
<circle cx="385.9" cy="86.0" r="2.0" fill="rgb(76,211,255)"/>
<circle cx="424.5" cy="107.0" r="1.3" fill="rgb(239,92,18)"/>
<circle cx="397.6" cy="59.7" r="2.0" fill="rgb(68,61,204)"/>
<circle cx="490.8" cy="112.8" r="1.8" fill="rgb(54,156,204)"/>
<circle cx="414.8" cy="169.8" r="1.8" fill="rgb(220,255,80)"/>
<circle cx="389.2" cy="42.5" r="2.3" fill="rgb(96,76,255)"/>
<circle cx="412.3" cy="109.6" r="2.3" fill="rgb(81,190,95)"/>
<circle cx="366.2" cy="165.4" r="2.4" fill="rgb(92,80,255)"/>
<circle cx="485.6" cy="98.7" r="2.1" fill="rgb(76,240,255)"/>
<circle cx="443.5" cy="57.6" r="2.2" fill="rgb(57,249,255)"/>
<circle cx="378.4" cy="163.1" r="2.0" fill="rgb(88,86,255)"/>
<circle cx="498.0" cy="72.9" r="1.2" fill="rgb(80,180,255)"/>
<circle cx="466.6" cy="35.7" r="2.3" fill="rgb(86,115,255)"/>
<circle cx="369.6" cy="73.4" r="2.4" fill="rgb(90,180,255)"/>
<circle cx="455.8" cy="47.1" r="1.0" fill="rgb(61,81,204)"/>
<circle cx="384.5" cy="62.6" r="2.3" fill="rgb(100,80,255)"/>
<circle cx="420.1" cy="40.7" r="1.8" fill="rgb(73,184,255)"/>
<circle cx="380.2" cy="152.4" r="1.5" fill="rgb(54,149,204)"/>
<circle cx="415.2" cy="113.7" r="2.1" fill="rgb(110,255,128)"/>
<circle cx="367.5" cy="45.9" r="1.2" fill="rgb(76,124,255)"/>
<circle cx="413.6" cy="100.4" r="2.0" fill="rgb(100,255,180)"/>
<circle cx="359.7" cy="88.5" r="1.4" fill="rgb(82,184,255)"/>
<circle cx="437.5" cy="99.9" r="2.4" fill="rgb(220,50,10)"/>
<circle cx="477.1" cy="136.6" r="1.5" fill="rgb(76,240,255)"/>
<circle cx="411.0" cy="111.3" r="2.5" fill="rgb(81,190,95)"/>
<circle cx="464.4" cy="113.6" r="1.4" fill="rgb(80,240,255)"/>
<circle cx="386.2" cy="138.3" r="1.5" fill="rgb(54,176,190)"/>
<circle cx="396.6" cy="101.5" r="1.7" fill="rgb(40,170,204)"/>
<circle cx="411.9" cy="49.8" r="1.2" fill="rgb(90,140,255)"/>
<circle cx="446.9" cy="60.7" r="1.6" fill="rgb(57,255,255)"/>
<circle cx="476.0" cy="118.8" r="1.2" fill="rgb(80,250,255)"/>
<circle cx="362.6" cy="174.2" r="1.7" fill="rgb(85,73,255)"/>
<circle cx="368.2" cy="164.8" r="2.5" fill="rgb(85,73,255)"/>
<circle cx="377.6" cy="64.4" r="2.3" fill="rgb(76,163,255)"/>
<circle cx="412.4" cy="82.1" r="2.0" fill="rgb(73,211,255)"/>
<circle cx="460.5" cy="121.6" r="2.6" fill="rgb(54,183,163)"/>
<circle cx="469.3" cy="128.3" r="1.4" fill="rgb(80,255,255)"/>
<circle cx="384.6" cy="78.6" r="1.2" fill="rgb(82,184,255)"/>
<circle cx="411.2" cy="107.1" r="2.3" fill="rgb(81,190,95)"/>
<circle cx="444.2" cy="57.7" r="1.9" fill="rgb(40,176,204)"/>
<circle cx="407.7" cy="105.8" r="1.9" fill="rgb(115,255,134)"/>
<circle cx="385.9" cy="166.7" r="1.9" fill="rgb(88,96,255)"/>
<circle cx="361.8" cy="128.2" r="1.2" fill="rgb(80,220,255)"/>
<circle cx="425.4" cy="94.2" r="1.5" fill="rgb(190,122,20)"/>
<circle cx="489.0" cy="86.2" r="2.4" fill="rgb(73,202,255)"/>
<circle cx="421.8" cy="138.0" r="2.4" fill="rgb(255,230,38)"/>
<circle cx="434.6" cy="114.3" r="1.3" fill="rgb(149,34,6)"/>
<circle cx="463.1" cy="161.5" r="2.0" fill="rgb(54,183,163)"/>
<circle cx="375.3" cy="151.4" r="2.1" fill="rgb(54,149,204)"/>
<circle cx="409.3" cy="142.0" r="2.3" fill="rgb(61,129,204)"/>
<circle cx="384.2" cy="112.5" r="1.7" fill="rgb(80,250,255)"/>
<circle cx="414.9" cy="145.5" r="1.5" fill="rgb(86,182,255)"/>
<circle cx="452.6" cy="139.1" r="2.0" fill="rgb(73,255,184)"/>
<circle cx="448.3" cy="142.7" r="1.3" fill="rgb(76,255,172)"/>
<circle cx="424.0" cy="55.6" r="1.2" fill="rgb(73,202,255)"/>
<circle cx="415.2" cy="82.7" r="1.4" fill="rgb(57,249,255)"/>
<circle cx="438.1" cy="82.2" r="2.2" fill="rgb(250,255,60)"/>
<circle cx="469.0" cy="92.1" r="2.0" fill="rgb(73,255,147)"/>
<circle cx="424.3" cy="93.3" r="2.2" fill="rgb(248,220,36)"/>
<circle cx="426.5" cy="175.2" r="2.3" fill="rgb(82,165,255)"/>
<circle cx="374.5" cy="51.6" r="1.8" fill="rgb(61,102,204)"/>
<circle cx="418.9" cy="162.6" r="2.5" fill="rgb(54,136,204)"/>
<circle cx="399.7" cy="122.1" r="2.2" fill="rgb(202,255,73)"/>
<circle cx="442.3" cy="141.1" r="2.4" fill="rgb(54,197,122)"/>
<circle cx="481.7" cy="69.8" r="1.4" fill="rgb(73,147,255)"/>
<circle cx="481.1" cy="172.1" r="2.1" fill="rgb(85,73,255)"/>
<circle cx="432.2" cy="69.1" r="2.1" fill="rgb(40,176,204)"/>
<circle cx="490.6" cy="159.1" r="2.4" fill="rgb(62,81,204)"/>
<circle cx="417.4" cy="148.6" r="2.0" fill="rgb(76,230,255)"/>
<circle cx="417.4" cy="52.7" r="1.2" fill="rgb(80,220,255)"/>
<circle cx="469.7" cy="52.9" r="1.0" fill="rgb(82,128,255)"/>
<circle cx="392.4" cy="77.5" r="1.3" fill="rgb(61,136,204)"/>
<circle cx="420.1" cy="98.7" r="1.2" fill="rgb(255,165,27)"/>
<circle cx="455.6" cy="67.9" r="1.0" fill="rgb(54,190,108)"/>
<circle cx="484.7" cy="78.8" r="1.2" fill="rgb(73,255,202)"/>
<circle cx="467.5" cy="144.6" r="1.3" fill="rgb(76,255,230)"/>
<circle cx="479.1" cy="132.8" r="1.3" fill="rgb(80,250,255)"/>
<circle cx="476.1" cy="85.3" r="1.0" fill="rgb(73,248,229)"/>
<circle cx="447.6" cy="133.6" r="1.9" fill="rgb(115,255,134)"/>
<circle cx="391.3" cy="168.9" r="2.0" fill="rgb(92,100,255)"/>
<circle cx="401.2" cy="150.4" r="2.4" fill="rgb(54,183,163)"/>
<circle cx="458.6" cy="54.5" r="1.7" fill="rgb(110,229,220)"/>
<circle cx="381.9" cy="156.5" r="2.1" fill="rgb(80,200,255)"/>
<circle cx="385.7" cy="60.9" r="1.8" fill="rgb(96,76,255)"/>
<circle cx="399.7" cy="73.9" r="1.9" fill="rgb(80,220,255)"/>
<circle cx="390.3" cy="77.8" r="2.1" fill="rgb(86,192,255)"/>
<circle cx="397.0" cy="125.4" r="1.7" fill="rgb(220,255,80)"/>
<circle cx="368.8" cy="164.4" r="1.8" fill="rgb(92,80,255)"/>
<circle cx="364.4" cy="119.8" r="1.9" fill="rgb(54,149,204)"/>
<circle cx="417.7" cy="115.4" r="1.5" fill="rgb(249,96,19)"/>
<circle cx="464.6" cy="70.0" r="2.2" fill="rgb(54,190,122)"/>
<circle cx="362.1" cy="146.5" r="2.6" fill="rgb(86,153,255)"/>
<circle cx="362.7" cy="100.4" r="1.0" fill="rgb(73,193,255)"/>
<circle cx="483.7" cy="44.0" r="1.9" fill="rgb(80,255,255)"/>
<circle cx="448.9" cy="86.0" r="2.3" fill="rgb(239,229,36)"/>
<circle cx="430.9" cy="106.5" r="2.0" fill="rgb(211,48,9)"/>
<circle cx="466.7" cy="51.3" r="1.4" fill="rgb(82,128,255)"/>
<circle cx="420.1" cy="144.1" r="1.4" fill="rgb(76,230,255)"/>
<circle cx="434.7" cy="155.3" r="1.4" fill="rgb(73,229,255)"/>
<circle cx="386.6" cy="171.9" r="1.9" fill="rgb(92,100,255)"/>
<circle cx="481.1" cy="60.8" r="2.0" fill="rgb(76,153,255)"/>
<circle cx="443.8" cy="148.8" r="2.2" fill="rgb(73,255,165)"/>
<circle cx="478.8" cy="39.8" r="2.5" fill="rgb(80,255,255)"/>
<circle cx="438.2" cy="111.8" r="2.0" fill="rgb(211,48,9)"/>
<circle cx="365.6" cy="95.3" r="2.3" fill="rgb(54,142,204)"/>
<circle cx="462.1" cy="145.2" r="1.1" fill="rgb(73,255,165)"/>
<circle cx="473.7" cy="59.6" r="1.4" fill="rgb(54,190,122)"/>
<circle cx="428.1" cy="128.1" r="1.1" fill="rgb(255,165,27)"/>
<circle cx="415.9" cy="86.7" r="2.1" fill="rgb(57,249,255)"/>
<circle cx="493.0" cy="53.5" r="1.2" fill="rgb(96,86,255)"/>
<circle cx="422.2" cy="140.2" r="1.0" fill="rgb(255,240,40)"/>
<circle cx="415.8" cy="109.3" r="1.6" fill="rgb(120,255,140)"/>
<circle cx="400.0" cy="95.1" r="2.6" fill="rgb(60,250,255)"/>
<circle cx="453.9" cy="136.2" r="1.5" fill="rgb(76,255,192)"/>
<circle cx="374.8" cy="155.7" r="1.7" fill="rgb(85,82,255)"/>
<circle cx="489.5" cy="86.6" r="2.5" fill="rgb(54,149,204)"/>
<circle cx="488.2" cy="66.2" r="1.6" fill="rgb(96,96,255)"/>
<circle cx="449.6" cy="43.7" r="1.9" fill="rgb(54,136,204)"/>
<circle cx="486.6" cy="159.8" r="1.7" fill="rgb(86,134,255)"/>
<circle cx="413.4" cy="153.9" r="1.6" fill="rgb(220,248,55)"/>
<circle cx="364.9" cy="94.3" r="1.3" fill="rgb(76,201,255)"/>
<circle cx="435.5" cy="58.5" r="1.6" fill="rgb(57,240,255)"/>
<circle cx="441.7" cy="142.2" r="1.7" fill="rgb(73,255,165)"/>
<circle cx="498.1" cy="130.9" r="1.3" fill="rgb(73,229,255)"/>
<circle cx="412.0" cy="45.7" r="1.6" fill="rgb(54,108,204)"/>
<circle cx="396.7" cy="38.1" r="2.2" fill="rgb(96,76,255)"/>
<circle cx="430.2" cy="115.2" r="1.4" fill="rgb(211,48,9)"/>
<circle cx="408.9" cy="57.1" r="1.2" fill="rgb(61,95,204)"/>
<circle cx="392.0" cy="153.4" r="1.0" fill="rgb(80,200,255)"/>
<circle cx="403.4" cy="89.5" r="2.4" fill="rgb(60,250,255)"/>
<circle cx="411.8" cy="71.5" r="1.5" fill="rgb(80,230,255)"/>
<circle cx="443.7" cy="104.1" r="1.2" fill="rgb(192,255,76)"/>
<circle cx="442.0" cy="40.0" r="1.7" fill="rgb(54,136,204)"/>
<circle cx="425.5" cy="133.0" r="1.5" fill="rgb(197,163,27)"/>
<circle cx="421.7" cy="88.5" r="2.3" fill="rgb(255,230,38)"/>
<circle cx="433.4" cy="98.6" r="1.6" fill="rgb(211,48,9)"/>
<circle cx="480.1" cy="67.3" r="1.6" fill="rgb(54,108,204)"/>
<circle cx="444.2" cy="55.2" r="2.2" fill="rgb(60,255,255)"/>
<circle cx="426.1" cy="37.1" r="2.1" fill="rgb(54,136,204)"/>
<circle cx="367.4" cy="155.3" r="2.1" fill="rgb(61,81,204)"/>
<circle cx="492.7" cy="157.5" r="2.3" fill="rgb(88,115,255)"/>
<circle cx="394.6" cy="147.8" r="1.6" fill="rgb(80,255,240)"/>
<circle cx="366.5" cy="89.4" r="1.5" fill="rgb(61,136,204)"/>
<circle cx="457.2" cy="66.6" r="1.3" fill="rgb(73,255,147)"/>
<circle cx="466.3" cy="84.8" r="1.8" fill="rgb(76,255,153)"/>
<circle cx="462.7" cy="163.0" r="1.8" fill="rgb(76,255,230)"/>
<circle cx="394.2" cy="155.3" r="2.1" fill="rgb(54,163,204)"/>
<circle cx="361.2" cy="90.5" r="2.5" fill="rgb(61,136,204)"/>
<circle cx="486.7" cy="73.7" r="1.8" fill="rgb(73,255,202)"/>
<circle cx="440.6" cy="101.4" r="2.4" fill="rgb(136,190,54)"/>
<circle cx="368.2" cy="40.5" r="2.4" fill="rgb(54,88,204)"/>
<circle cx="437.8" cy="72.3" r="2.0" fill="rgb(240,255,57)"/>
<circle cx="412.2" cy="83.5" r="1.0" fill="rgb(40,176,190)"/>
<circle cx="457.7" cy="65.9" r="2.0" fill="rgb(80,255,160)"/>
<circle cx="445.5" cy="93.2" r="1.1" fill="rgb(239,229,36)"/>
<circle cx="367.6" cy="100.7" r="1.6" fill="rgb(73,193,255)"/>
<circle cx="486.3" cy="40.9" r="2.1" fill="rgb(76,249,255)"/>
<circle cx="396.5" cy="105.1" r="2.6" fill="rgb(55,229,255)"/>
<circle cx="379.1" cy="62.5" r="1.4" fill="rgb(76,163,255)"/>
<circle cx="389.0" cy="108.6" r="1.0" fill="rgb(73,229,255)"/>
<circle cx="435.1" cy="154.8" r="2.0" fill="rgb(80,250,255)"/>
<circle cx="437.1" cy="152.3" r="1.4" fill="rgb(54,190,136)"/>
<circle cx="372.6" cy="38.2" r="2.1" fill="rgb(88,115,255)"/>
<circle cx="454.8" cy="170.9" r="1.3" fill="rgb(76,230,255)"/>
<circle cx="445.6" cy="104.4" r="1.6" fill="rgb(136,190,54)"/>
<circle cx="398.3" cy="140.7" r="1.4" fill="rgb(184,255,73)"/>
<circle cx="393.2" cy="81.2" r="2.5" fill="rgb(86,192,255)"/>
<circle cx="462.0" cy="158.8" r="2.3" fill="rgb(80,255,240)"/>
<circle cx="482.9" cy="79.1" r="1.8" fill="rgb(73,255,202)"/>
<circle cx="453.8" cy="41.2" r="2.4" fill="rgb(82,110,255)"/>
<circle cx="365.5" cy="71.2" r="1.4" fill="rgb(82,165,255)"/>
<circle cx="447.5" cy="87.2" r="1.3" fill="rgb(176,170,27)"/>
<circle cx="478.7" cy="64.3" r="1.9" fill="rgb(76,153,255)"/>
<circle cx="417.3" cy="134.8" r="2.3" fill="rgb(197,163,27)"/>
<circle cx="375.7" cy="88.5" r="1.4" fill="rgb(61,136,204)"/>
<circle cx="384.0" cy="37.4" r="1.4" fill="rgb(96,76,255)"/>
<circle cx="396.2" cy="70.9" r="1.6" fill="rgb(73,202,255)"/>
<circle cx="453.8" cy="55.0" r="2.1" fill="rgb(115,240,230)"/>
<circle cx="374.7" cy="41.5" r="1.6" fill="rgb(62,81,204)"/>
<circle cx="433.9" cy="148.1" r="1.5" fill="rgb(73,255,184)"/>
<circle cx="361.7" cy="111.7" r="1.3" fill="rgb(73,193,255)"/>
<circle cx="367.5" cy="97.1" r="1.4" fill="rgb(54,142,204)"/>
<circle cx="459.8" cy="92.9" r="2.6" fill="rgb(96,255,134)"/>
<circle cx="412.9" cy="133.0" r="2.3" fill="rgb(197,163,27)"/>
<circle cx="378.7" cy="60.1" r="1.9" fill="rgb(80,170,255)"/>
<circle cx="484.4" cy="159.2" r="1.2" fill="rgb(82,128,255)"/>
<circle cx="403.6" cy="38.2" r="1.4" fill="rgb(96,76,255)"/>
<circle cx="414.4" cy="80.8" r="1.8" fill="rgb(80,230,255)"/>
<circle cx="409.6" cy="72.0" r="1.2" fill="rgb(80,230,255)"/>
<circle cx="359.0" cy="142.4" r="1.0" fill="rgb(90,160,255)"/>
<circle cx="405.4" cy="55.1" r="2.6" fill="rgb(86,134,255)"/>
<circle cx="415.6" cy="40.0" r="2.3" fill="rgb(54,108,204)"/>
<circle cx="413.8" cy="43.6" r="1.4" fill="rgb(54,108,204)"/>
<circle cx="490.4" cy="157.0" r="1.9" fill="rgb(85,110,255)"/>
<circle cx="490.7" cy="42.1" r="2.5" fill="rgb(100,80,255)"/>
<circle cx="434.0" cy="130.3" r="1.6" fill="rgb(163,190,40)"/>
<circle cx="464.3" cy="79.1" r="1.0" fill="rgb(73,255,128)"/>
<circle cx="387.6" cy="170.3" r="2.2" fill="rgb(92,100,255)"/>
<circle cx="395.4" cy="69.9" r="1.6" fill="rgb(92,82,255)"/>
<circle cx="471.2" cy="151.8" r="2.5" fill="rgb(80,255,240)"/>
<circle cx="426.0" cy="153.5" r="1.4" fill="rgb(73,184,255)"/>
<circle cx="486.3" cy="38.8" r="1.4" fill="rgb(76,249,255)"/>
<circle cx="412.8" cy="87.4" r="2.3" fill="rgb(40,176,190)"/>
<circle cx="409.4" cy="125.1" r="1.5" fill="rgb(190,176,27)"/>
<circle cx="367.4" cy="127.3" r="1.4" fill="rgb(80,220,255)"/>
<circle cx="388.1" cy="60.8" r="2.2" fill="rgb(100,80,255)"/>
<circle cx="435.0" cy="131.1" r="1.6" fill="rgb(230,255,57)"/>
<circle cx="379.9" cy="87.9" r="1.7" fill="rgb(86,192,255)"/>
<circle cx="359.3" cy="106.1" r="1.2" fill="rgb(73,193,255)"/>
<circle cx="492.0" cy="153.5" r="1.0" fill="rgb(88,115,255)"/>
<circle cx="382.6" cy="44.8" r="1.9" fill="rgb(100,80,255)"/>
<circle cx="403.3" cy="102.0" r="1.8" fill="rgb(57,240,255)"/>
<circle cx="468.0" cy="160.2" r="1.1" fill="rgb(54,176,183)"/>
<circle cx="413.0" cy="164.9" r="2.2" fill="rgb(211,255,76)"/>
<circle cx="432.0" cy="36.9" r="2.5" fill="rgb(73,202,255)"/>
<circle cx="365.8" cy="122.1" r="2.4" fill="rgb(54,149,204)"/>
<circle cx="478.7" cy="123.8" r="1.2" fill="rgb(80,250,255)"/>
<circle cx="462.2" cy="140.1" r="2.1" fill="rgb(73,255,184)"/>
<circle cx="417.1" cy="89.5" r="1.6" fill="rgb(255,230,38)"/>
<circle cx="434.3" cy="41.5" r="1.8" fill="rgb(80,220,255)"/>
<circle cx="421.7" cy="75.4" r="2.0" fill="rgb(60,255,140)"/>
<circle cx="489.4" cy="56.8" r="1.5" fill="rgb(92,82,255)"/>
<circle cx="394.1" cy="123.0" r="2.2" fill="rgb(211,255,76)"/>
<circle cx="497.5" cy="92.0" r="2.2" fill="rgb(76,211,255)"/>
<circle cx="484.5" cy="51.1" r="2.3" fill="rgb(57,249,255)"/>
<circle cx="449.5" cy="167.2" r="2.3" fill="rgb(80,240,255)"/>
<circle cx="430.1" cy="175.1" r="1.3" fill="rgb(80,220,255)"/>
<circle cx="363.4" cy="83.6" r="1.7" fill="rgb(61,136,204)"/>
</g>
<g filter="url(#b1_5)">
<rect x="398" y="116" width="52" height="19" fill="#d8d020"/>
<rect x="404" y="124" width="8" height="8" fill="#c06018"/>
<rect x="418" y="120" width="10" height="8" fill="#e88018"/>
<rect x="434" y="118" width="8" height="8" fill="#d86018"/>
<rect x="415" y="82" width="10" height="18" fill="#e8a020"/>
<rect x="424" y="78" width="16" height="42" fill="#c03010"/>
<rect x="426" y="94" width="14" height="24" fill="#a02008"/>
<rect x="433" y="72" width="14" height="8" fill="#b8d838"/>
<ellipse cx="440" cy="76" rx="3" ry="2" fill="#405020"/>
<rect x="408" y="152" width="7" height="13" fill="#c0d030"/>
<ellipse cx="411" cy="156" rx="2" ry="1.5" fill="#705010"/>
</g>
<g fill="#f4fcff">
<circle cx="376" cy="68" r="4"/>
<circle cx="391" cy="152" r="4.5"/>
<circle cx="427" cy="147" r="4.5"/>
<circle cx="437" cy="171" r="5"/>
<circle cx="475" cy="107" r="4"/>
<circle cx="498" cy="65" r="5"/>
<circle cx="396" cy="43" r="2"/>
<circle cx="359" cy="52" r="1.5"/>
</g>
<g fill="none" stroke="#0c5454" stroke-width="1.1">
<path d="M386,102 C390,96 398,98 404,101 C410,97 416,97 420,100 C426,98 432,99 440,99 C448,96 456,97 464,97 C470,97 474,102 470,108 C464,112 456,110 448,112 C440,114 432,112 426,114 C418,116 410,116 402,116 C394,116 386,112 386,106 Z"/>
<path d="M392,104 C396,100 402,102 406,104 C412,102 418,104 420,106 C414,110 406,112 398,110 C394,110 392,108 392,104 Z"/>
<path d="M446,102 C452,100 460,100 466,102 C466,106 460,108 452,108 C448,108 446,106 446,102 Z"/>
<circle cx="429" cy="106" r="7"/><circle cx="429" cy="106" r="4.5"/><circle cx="429" cy="106" r="2.2"/>
<ellipse cx="368" cy="110" rx="3" ry="2.5"/>
</g>
</g>
<rect x="358" y="35.5" width="141" height="140.5" fill="none" stroke="#333" stroke-width="0.8"/>
<rect x="509.4" y="35.5" width="7.6" height="141" fill="url(#cb3)" stroke="#222" stroke-width="0.6"/>
<line x1="356.30" y1="176.20" x2="358.00" y2="176.20" stroke="#222" stroke-width="0.7"/>
<text x="356.00" y="178.70" font-size="7" text-anchor="end" fill="#222" style='font-family:"Liberation Sans", sans-serif' >−20</text>
<line x1="356.30" y1="158.60" x2="358.00" y2="158.60" stroke="#222" stroke-width="0.7"/>
<text x="356.00" y="161.10" font-size="7" text-anchor="end" fill="#222" style='font-family:"Liberation Sans", sans-serif' >−15</text>
<line x1="356.30" y1="141.00" x2="358.00" y2="141.00" stroke="#222" stroke-width="0.7"/>
<text x="356.00" y="143.50" font-size="7" text-anchor="end" fill="#222" style='font-family:"Liberation Sans", sans-serif' >−10</text>
<line x1="356.30" y1="123.40" x2="358.00" y2="123.40" stroke="#222" stroke-width="0.7"/>
<text x="356.00" y="125.90" font-size="7" text-anchor="end" fill="#222" style='font-family:"Liberation Sans", sans-serif' >−5</text>
<line x1="356.30" y1="105.80" x2="358.00" y2="105.80" stroke="#222" stroke-width="0.7"/>
<text x="356.00" y="108.30" font-size="7" text-anchor="end" fill="#222" style='font-family:"Liberation Sans", sans-serif' >0</text>
<line x1="356.30" y1="88.20" x2="358.00" y2="88.20" stroke="#222" stroke-width="0.7"/>
<text x="356.00" y="90.70" font-size="7" text-anchor="end" fill="#222" style='font-family:"Liberation Sans", sans-serif' >5</text>
<line x1="356.30" y1="70.60" x2="358.00" y2="70.60" stroke="#222" stroke-width="0.7"/>
<text x="356.00" y="73.10" font-size="7" text-anchor="end" fill="#222" style='font-family:"Liberation Sans", sans-serif' >10</text>
<line x1="356.30" y1="53.00" x2="358.00" y2="53.00" stroke="#222" stroke-width="0.7"/>
<text x="356.00" y="55.50" font-size="7" text-anchor="end" fill="#222" style='font-family:"Liberation Sans", sans-serif' >15</text>
<line x1="356.30" y1="35.40" x2="358.00" y2="35.40" stroke="#222" stroke-width="0.7"/>
<text x="356.00" y="37.90" font-size="7" text-anchor="end" fill="#222" style='font-family:"Liberation Sans", sans-serif' >20</text>
<line x1="358.20" y1="176.00" x2="358.20" y2="178.50" stroke="#222" stroke-width="0.7"/>
<text x="358.20" y="183.80" font-size="7" text-anchor="middle" fill="#222" style='font-family:"Liberation Sans", sans-serif' stroke="#222" stroke-width="0.2">−20</text>
<line x1="375.80" y1="176.00" x2="375.80" y2="178.50" stroke="#222" stroke-width="0.7"/>
<text x="375.80" y="183.80" font-size="7" text-anchor="middle" fill="#222" style='font-family:"Liberation Sans", sans-serif' stroke="#222" stroke-width="0.2">−15</text>
<line x1="393.40" y1="176.00" x2="393.40" y2="178.50" stroke="#222" stroke-width="0.7"/>
<text x="393.40" y="183.80" font-size="7" text-anchor="middle" fill="#222" style='font-family:"Liberation Sans", sans-serif' stroke="#222" stroke-width="0.2">−10</text>
<line x1="411.00" y1="176.00" x2="411.00" y2="178.50" stroke="#222" stroke-width="0.7"/>
<text x="411.00" y="183.80" font-size="7" text-anchor="middle" fill="#222" style='font-family:"Liberation Sans", sans-serif' stroke="#222" stroke-width="0.2">−5</text>
<line x1="428.60" y1="176.00" x2="428.60" y2="178.50" stroke="#222" stroke-width="0.7"/>
<text x="428.60" y="183.80" font-size="7" text-anchor="middle" fill="#222" style='font-family:"Liberation Sans", sans-serif' stroke="#222" stroke-width="0.2">0</text>
<line x1="446.20" y1="176.00" x2="446.20" y2="178.50" stroke="#222" stroke-width="0.7"/>
<text x="446.20" y="183.80" font-size="7" text-anchor="middle" fill="#222" style='font-family:"Liberation Sans", sans-serif' stroke="#222" stroke-width="0.2">5</text>
<line x1="463.80" y1="176.00" x2="463.80" y2="178.50" stroke="#222" stroke-width="0.7"/>
<text x="463.80" y="183.80" font-size="7" text-anchor="middle" fill="#222" style='font-family:"Liberation Sans", sans-serif' stroke="#222" stroke-width="0.2">10</text>
<line x1="481.40" y1="176.00" x2="481.40" y2="178.50" stroke="#222" stroke-width="0.7"/>
<text x="481.40" y="183.80" font-size="7" text-anchor="middle" fill="#222" style='font-family:"Liberation Sans", sans-serif' stroke="#222" stroke-width="0.2">15</text>
<line x1="499.00" y1="176.00" x2="499.00" y2="178.50" stroke="#222" stroke-width="0.7"/>
<text x="499.00" y="183.80" font-size="7" text-anchor="middle" fill="#222" style='font-family:"Liberation Sans", sans-serif' stroke="#222" stroke-width="0.2">20</text>
<text x="404.9" y="190.8" font-size="8" fill="#222" stroke="#222" stroke-width="0.2" textLength="48.3" lengthAdjust="spacingAndGlyphs">ΔRA [arcsecs]</text>
<text transform="translate(342.5,106) rotate(-90)" font-size="7.6" text-anchor="middle" fill="#222" stroke="#222" stroke-width="0.2">Δδ [arcsecs]</text>
<text x="402" y="29.6" font-size="11.4" fill="#222" stroke="#222" stroke-width="0.3" textLength="52.8" lengthAdjust="spacingAndGlyphs">[OIII] W70</text>
<line x1="517.00" y1="35.50" x2="519.00" y2="35.50" stroke="#222" stroke-width="0.6"/>
<text x="519.50" y="38.00" font-size="6.5" text-anchor="start" fill="#222" style='font-family:"Liberation Sans", sans-serif' >700</text>
<line x1="517.00" y1="70.75" x2="519.00" y2="70.75" stroke="#222" stroke-width="0.6"/>
<text x="519.50" y="73.25" font-size="6.5" text-anchor="start" fill="#222" style='font-family:"Liberation Sans", sans-serif' >525</text>
<line x1="517.00" y1="106.00" x2="519.00" y2="106.00" stroke="#222" stroke-width="0.6"/>
<text x="519.50" y="108.50" font-size="6.5" text-anchor="start" fill="#222" style='font-family:"Liberation Sans", sans-serif' >350</text>
<line x1="517.00" y1="141.25" x2="519.00" y2="141.25" stroke="#222" stroke-width="0.6"/>
<text x="519.50" y="143.75" font-size="6.5" text-anchor="start" fill="#222" style='font-family:"Liberation Sans", sans-serif' >175</text>
<line x1="517.00" y1="176.50" x2="519.00" y2="176.50" stroke="#222" stroke-width="0.6"/>
<text x="519.50" y="179.00" font-size="6.5" text-anchor="start" fill="#222" style='font-family:"Liberation Sans", sans-serif' >0</text>
<text transform="translate(541,106) rotate(-90)" font-size="7.6" text-anchor="middle" fill="#222" stroke="#222" stroke-width="0.2">vel [km/s]</text>
<g clip-path="url(#c4)">
<rect x="94" y="232" width="120" height="163" fill="#7a2607"/>
<g filter="url(#b3)">
</g>
<g filter="url(#b2)">
<polygon points="103,290 105,275 112,268 120,262 140,262 150,258 160,262 170,255 185,258 195,268 198,290 200,320 205,345 205,365 195,370 185,360 175,370 170,390 150,392 130,390 120,370 115,350 105,335 100,315" fill="#a44616"/>
<ellipse cx="142" cy="362" rx="14" ry="22" fill="#c85010"/>
<ellipse cx="144" cy="364" rx="6" ry="12" fill="#e07018"/>
<ellipse cx="196" cy="345" rx="8" ry="14" fill="#c85a10"/>
<ellipse cx="190" cy="340" rx="6" ry="7" fill="#8a3008"/>
<polygon points="136,263 186,266 192,300 165,292 140,282" fill="#c44a10"/>
<polygon points="108,292 114,266 134,266 142,280 165,290 188,298 192,332 182,348 130,350 108,338" fill="#ec8a24"/>
</g>
<g filter="url(#b2)">
<polygon points="118,272 136,274 164,288 172,296 182,310 186,334 178,344 140,346 120,338 116,300" fill="#f8c858"/>
</g>
<g filter="url(#b0_6)">
<polygon points="127,281 141,284 159.5,297 163,302 158,308 162,319 174,324 176,331 148,335 130,330 126,300" fill="#fff6dc"/>
</g>
<path d="M134,290 C142,290 150,296 154,302 C150,308 148,314 152,320 C146,322 138,322 134,316 C132,306 132,298 134,290 Z" fill="#fcf6d8" stroke="#80a040" stroke-width="0.5" opacity="0.9"/>
<polygon points="127,281 141,284 159.5,297 163,302 158,308 162,319 174,324 176,331 148,335 130,330 126,300" fill="none" stroke="#80902a" stroke-width="0.6"/>
<g fill="none" stroke="#5a2008" stroke-width="0.6">
<path d="M103.0,290.0 C103.8,283.3 103.5,278.7 105.0,275.0 C106.5,271.3 109.5,270.2 112.0,268.0 C114.5,265.8 115.3,263.0 120.0,262.0 C124.7,261.0 135.0,262.7 140.0,262.0 C145.0,261.3 146.7,258.0 150.0,258.0 C153.3,258.0 156.7,262.5 160.0,262.0 C163.3,261.5 165.8,255.7 170.0,255.0 C174.2,254.3 180.8,255.8 185.0,258.0 C189.2,260.2 192.8,262.7 195.0,268.0 C197.2,273.3 197.2,281.3 198.0,290.0 C198.8,298.7 198.8,310.8 200.0,320.0 C201.2,329.2 204.2,337.5 205.0,345.0 C205.8,352.5 206.7,360.8 205.0,365.0 C203.3,369.2 198.3,370.8 195.0,370.0 C191.7,369.2 188.3,360.0 185.0,360.0 C181.7,360.0 177.5,365.0 175.0,370.0 C172.5,375.0 174.2,386.3 170.0,390.0 C165.8,393.7 156.7,392.0 150.0,392.0 C143.3,392.0 135.0,393.7 130.0,390.0 C125.0,386.3 122.5,376.7 120.0,370.0 C117.5,363.3 117.5,355.8 115.0,350.0 C112.5,344.2 107.5,340.8 105.0,335.0 C102.5,329.2 100.3,322.5 100.0,315.0 C99.7,307.5 102.2,296.7 103.0,290.0 Z"/>
<path d="M110.0,292.0 C110.7,280.3 110.0,272.0 114.0,268.0 C118.0,264.0 129.3,266.0 134.0,268.0 C138.7,270.0 136.8,276.3 142.0,280.0 C147.2,283.7 157.3,287.0 165.0,290.0 C172.7,293.0 183.5,291.0 188.0,298.0 C192.5,305.0 193.0,323.7 192.0,332.0 C191.0,340.3 192.3,345.0 182.0,348.0 C171.7,351.0 142.0,351.7 130.0,350.0 C118.0,348.3 113.3,347.7 110.0,338.0 C106.7,328.3 109.3,303.7 110.0,292.0 Z"/>
</g>
<text x="141" y="292" font-size="9" fill="#5a1a08" transform="rotate(20 141 292)">150</text>
<text x="157" y="345" font-size="9" fill="#5a1a08">100</text>
<text x="158" y="270" font-size="9" fill="#5a1a08" transform="rotate(-50 158 270)">60</text>
<text x="177" y="365" font-size="9" fill="#5a1a08">60</text>
<text x="136" y="392" font-size="9" fill="#5a1a08">60</text>
<g stroke="#3a1000" stroke-width="0.8" opacity="0.55">
<line x1="97.0" y1="233" x2="97.0" y2="238"/>
<line x1="97.0" y1="394.8" x2="97.0" y2="389.8"/>
<line x1="99.9" y1="233" x2="99.9" y2="238"/>
<line x1="99.9" y1="394.8" x2="99.9" y2="389.8"/>
<line x1="102.9" y1="233" x2="102.9" y2="238"/>
<line x1="102.9" y1="394.8" x2="102.9" y2="389.8"/>
<line x1="105.8" y1="233" x2="105.8" y2="238"/>
<line x1="105.8" y1="394.8" x2="105.8" y2="389.8"/>
<line x1="108.8" y1="233" x2="108.8" y2="238"/>
<line x1="108.8" y1="394.8" x2="108.8" y2="389.8"/>
<line x1="111.8" y1="233" x2="111.8" y2="238"/>
<line x1="111.8" y1="394.8" x2="111.8" y2="389.8"/>
<line x1="114.7" y1="233" x2="114.7" y2="238"/>
<line x1="114.7" y1="394.8" x2="114.7" y2="389.8"/>
<line x1="117.7" y1="233" x2="117.7" y2="238"/>
<line x1="117.7" y1="394.8" x2="117.7" y2="389.8"/>
<line x1="120.6" y1="233" x2="120.6" y2="238"/>
<line x1="120.6" y1="394.8" x2="120.6" y2="389.8"/>
<line x1="123.6" y1="233" x2="123.6" y2="239"/>
<line x1="123.6" y1="394.8" x2="123.6" y2="388.8"/>
<line x1="126.6" y1="233" x2="126.6" y2="238"/>
<line x1="126.6" y1="394.8" x2="126.6" y2="389.8"/>
<line x1="129.5" y1="233" x2="129.5" y2="238"/>
<line x1="129.5" y1="394.8" x2="129.5" y2="389.8"/>
<line x1="132.5" y1="233" x2="132.5" y2="238"/>
<line x1="132.5" y1="394.8" x2="132.5" y2="389.8"/>
<line x1="135.4" y1="233" x2="135.4" y2="238"/>
<line x1="135.4" y1="394.8" x2="135.4" y2="389.8"/>
<line x1="138.4" y1="233" x2="138.4" y2="238"/>
<line x1="138.4" y1="394.8" x2="138.4" y2="389.8"/>
<line x1="141.4" y1="233" x2="141.4" y2="238"/>
<line x1="141.4" y1="394.8" x2="141.4" y2="389.8"/>
<line x1="144.3" y1="233" x2="144.3" y2="238"/>
<line x1="144.3" y1="394.8" x2="144.3" y2="389.8"/>
<line x1="147.3" y1="233" x2="147.3" y2="238"/>
<line x1="147.3" y1="394.8" x2="147.3" y2="389.8"/>
<line x1="150.2" y1="233" x2="150.2" y2="238"/>
<line x1="150.2" y1="394.8" x2="150.2" y2="389.8"/>
<line x1="153.2" y1="233" x2="153.2" y2="239"/>
<line x1="153.2" y1="394.8" x2="153.2" y2="388.8"/>
<line x1="156.2" y1="233" x2="156.2" y2="238"/>
<line x1="156.2" y1="394.8" x2="156.2" y2="389.8"/>
<line x1="159.1" y1="233" x2="159.1" y2="238"/>
<line x1="159.1" y1="394.8" x2="159.1" y2="389.8"/>
<line x1="162.1" y1="233" x2="162.1" y2="238"/>
<line x1="162.1" y1="394.8" x2="162.1" y2="389.8"/>
<line x1="165.0" y1="233" x2="165.0" y2="238"/>
<line x1="165.0" y1="394.8" x2="165.0" y2="389.8"/>
<line x1="168.0" y1="233" x2="168.0" y2="238"/>
<line x1="168.0" y1="394.8" x2="168.0" y2="389.8"/>
<line x1="171.0" y1="233" x2="171.0" y2="238"/>
<line x1="171.0" y1="394.8" x2="171.0" y2="389.8"/>
<line x1="173.9" y1="233" x2="173.9" y2="238"/>
<line x1="173.9" y1="394.8" x2="173.9" y2="389.8"/>
<line x1="176.9" y1="233" x2="176.9" y2="238"/>
<line x1="176.9" y1="394.8" x2="176.9" y2="389.8"/>
<line x1="179.8" y1="233" x2="179.8" y2="238"/>
<line x1="179.8" y1="394.8" x2="179.8" y2="389.8"/>
<line x1="182.8" y1="233" x2="182.8" y2="239"/>
<line x1="182.8" y1="394.8" x2="182.8" y2="388.8"/>
<line x1="185.8" y1="233" x2="185.8" y2="238"/>
<line x1="185.8" y1="394.8" x2="185.8" y2="389.8"/>
<line x1="188.7" y1="233" x2="188.7" y2="238"/>
<line x1="188.7" y1="394.8" x2="188.7" y2="389.8"/>
<line x1="191.7" y1="233" x2="191.7" y2="238"/>
<line x1="191.7" y1="394.8" x2="191.7" y2="389.8"/>
<line x1="194.6" y1="233" x2="194.6" y2="238"/>
<line x1="194.6" y1="394.8" x2="194.6" y2="389.8"/>
<line x1="197.6" y1="233" x2="197.6" y2="238"/>
<line x1="197.6" y1="394.8" x2="197.6" y2="389.8"/>
<line x1="200.6" y1="233" x2="200.6" y2="238"/>
<line x1="200.6" y1="394.8" x2="200.6" y2="389.8"/>
<line x1="203.5" y1="233" x2="203.5" y2="238"/>
<line x1="203.5" y1="394.8" x2="203.5" y2="389.8"/>
<line x1="206.5" y1="233" x2="206.5" y2="238"/>
<line x1="206.5" y1="394.8" x2="206.5" y2="389.8"/>
<line x1="209.4" y1="233" x2="209.4" y2="238"/>
<line x1="209.4" y1="394.8" x2="209.4" y2="389.8"/>
<line x1="94" y1="235.8" x2="98" y2="235.8"/>
<line x1="213" y1="235.8" x2="209" y2="235.8"/>
<line x1="94" y1="238.8" x2="98" y2="238.8"/>
<line x1="213" y1="238.8" x2="209" y2="238.8"/>
<line x1="94" y1="241.8" x2="98" y2="241.8"/>
<line x1="213" y1="241.8" x2="209" y2="241.8"/>
<line x1="94" y1="244.8" x2="98" y2="244.8"/>
<line x1="213" y1="244.8" x2="209" y2="244.8"/>
<line x1="94" y1="247.9" x2="98" y2="247.9"/>
<line x1="213" y1="247.9" x2="209" y2="247.9"/>
<line x1="94" y1="250.9" x2="98" y2="250.9"/>
<line x1="213" y1="250.9" x2="209" y2="250.9"/>
<line x1="94" y1="253.9" x2="98" y2="253.9"/>
<line x1="213" y1="253.9" x2="209" y2="253.9"/>
<line x1="94" y1="256.9" x2="98" y2="256.9"/>
<line x1="213" y1="256.9" x2="209" y2="256.9"/>
<line x1="94" y1="259.9" x2="98" y2="259.9"/>
<line x1="213" y1="259.9" x2="209" y2="259.9"/>
<line x1="94" y1="262.9" x2="98" y2="262.9"/>
<line x1="213" y1="262.9" x2="209" y2="262.9"/>
<line x1="94" y1="265.9" x2="98" y2="265.9"/>
<line x1="213" y1="265.9" x2="209" y2="265.9"/>
<line x1="94" y1="268.9" x2="98" y2="268.9"/>
<line x1="213" y1="268.9" x2="209" y2="268.9"/>
<line x1="94" y1="271.9" x2="98" y2="271.9"/>
<line x1="213" y1="271.9" x2="209" y2="271.9"/>
<line x1="94" y1="274.9" x2="98" y2="274.9"/>
<line x1="213" y1="274.9" x2="209" y2="274.9"/>
<line x1="94" y1="277.9" x2="98" y2="277.9"/>
<line x1="213" y1="277.9" x2="209" y2="277.9"/>
<line x1="94" y1="281.0" x2="98" y2="281.0"/>
<line x1="213" y1="281.0" x2="209" y2="281.0"/>
<line x1="94" y1="284.0" x2="98" y2="284.0"/>
<line x1="213" y1="284.0" x2="209" y2="284.0"/>
<line x1="94" y1="287.0" x2="98" y2="287.0"/>
<line x1="213" y1="287.0" x2="209" y2="287.0"/>
<line x1="94" y1="290.0" x2="98" y2="290.0"/>
<line x1="213" y1="290.0" x2="209" y2="290.0"/>
<line x1="94" y1="293.0" x2="98" y2="293.0"/>
<line x1="213" y1="293.0" x2="209" y2="293.0"/>
<line x1="94" y1="296.0" x2="98" y2="296.0"/>
<line x1="213" y1="296.0" x2="209" y2="296.0"/>
<line x1="94" y1="299.0" x2="98" y2="299.0"/>
<line x1="213" y1="299.0" x2="209" y2="299.0"/>
<line x1="94" y1="302.0" x2="98" y2="302.0"/>
<line x1="213" y1="302.0" x2="209" y2="302.0"/>
<line x1="94" y1="305.0" x2="98" y2="305.0"/>
<line x1="213" y1="305.0" x2="209" y2="305.0"/>
<line x1="94" y1="308.1" x2="98" y2="308.1"/>
<line x1="213" y1="308.1" x2="209" y2="308.1"/>
<line x1="94" y1="311.1" x2="98" y2="311.1"/>
<line x1="213" y1="311.1" x2="209" y2="311.1"/>
<line x1="94" y1="314.1" x2="98" y2="314.1"/>
<line x1="213" y1="314.1" x2="209" y2="314.1"/>
<line x1="94" y1="317.1" x2="98" y2="317.1"/>
<line x1="213" y1="317.1" x2="209" y2="317.1"/>
<line x1="94" y1="320.1" x2="98" y2="320.1"/>
<line x1="213" y1="320.1" x2="209" y2="320.1"/>
<line x1="94" y1="323.1" x2="98" y2="323.1"/>
<line x1="213" y1="323.1" x2="209" y2="323.1"/>
<line x1="94" y1="326.1" x2="98" y2="326.1"/>
<line x1="213" y1="326.1" x2="209" y2="326.1"/>
<line x1="94" y1="329.1" x2="98" y2="329.1"/>
<line x1="213" y1="329.1" x2="209" y2="329.1"/>
<line x1="94" y1="332.1" x2="98" y2="332.1"/>
<line x1="213" y1="332.1" x2="209" y2="332.1"/>
<line x1="94" y1="335.1" x2="98" y2="335.1"/>
<line x1="213" y1="335.1" x2="209" y2="335.1"/>
<line x1="94" y1="338.1" x2="98" y2="338.1"/>
<line x1="213" y1="338.1" x2="209" y2="338.1"/>
<line x1="94" y1="341.2" x2="98" y2="341.2"/>
<line x1="213" y1="341.2" x2="209" y2="341.2"/>
<line x1="94" y1="344.2" x2="98" y2="344.2"/>
<line x1="213" y1="344.2" x2="209" y2="344.2"/>
<line x1="94" y1="347.2" x2="98" y2="347.2"/>
<line x1="213" y1="347.2" x2="209" y2="347.2"/>
<line x1="94" y1="350.2" x2="98" y2="350.2"/>
<line x1="213" y1="350.2" x2="209" y2="350.2"/>
<line x1="94" y1="353.2" x2="98" y2="353.2"/>
<line x1="213" y1="353.2" x2="209" y2="353.2"/>
<line x1="94" y1="356.2" x2="98" y2="356.2"/>
<line x1="213" y1="356.2" x2="209" y2="356.2"/>
<line x1="94" y1="359.2" x2="98" y2="359.2"/>
<line x1="213" y1="359.2" x2="209" y2="359.2"/>
<line x1="94" y1="362.2" x2="98" y2="362.2"/>
<line x1="213" y1="362.2" x2="209" y2="362.2"/>
<line x1="94" y1="365.2" x2="98" y2="365.2"/>
<line x1="213" y1="365.2" x2="209" y2="365.2"/>
<line x1="94" y1="368.2" x2="98" y2="368.2"/>
<line x1="213" y1="368.2" x2="209" y2="368.2"/>
<line x1="94" y1="371.3" x2="98" y2="371.3"/>
<line x1="213" y1="371.3" x2="209" y2="371.3"/>
<line x1="94" y1="374.3" x2="98" y2="374.3"/>
<line x1="213" y1="374.3" x2="209" y2="374.3"/>
<line x1="94" y1="377.3" x2="98" y2="377.3"/>
<line x1="213" y1="377.3" x2="209" y2="377.3"/>
<line x1="94" y1="380.3" x2="98" y2="380.3"/>
<line x1="213" y1="380.3" x2="209" y2="380.3"/>
<line x1="94" y1="383.3" x2="98" y2="383.3"/>
<line x1="213" y1="383.3" x2="209" y2="383.3"/>
<line x1="94" y1="386.3" x2="98" y2="386.3"/>
<line x1="213" y1="386.3" x2="209" y2="386.3"/>
<line x1="94" y1="389.3" x2="98" y2="389.3"/>
<line x1="213" y1="389.3" x2="209" y2="389.3"/>
<line x1="94" y1="392.3" x2="98" y2="392.3"/>
<line x1="213" y1="392.3" x2="209" y2="392.3"/>
</g>
<circle cx="210" cy="245" r="1.3" fill="#fff"/><rect x="206" y="254" width="3" height="2" fill="#fff"/>
<rect x="94" y="353" width="5" height="3" fill="#fff"/>
</g>
<line x1="98.5" y1="357" x2="206.5" y2="270.5" stroke="#6412d4" stroke-width="3.2"/>
<rect x="94" y="232.8" width="119" height="162" fill="none" stroke="#222" stroke-width="0.8"/>
<rect x="213" y="232.8" width="7.6" height="162" fill="url(#cb4)" stroke="#222" stroke-width="0.6"/>
<text x="90.50" y="258.20" font-size="10.3" text-anchor="end" fill="#222" style='font-family:"Liberation Sans", sans-serif' stroke="#222" stroke-width="0.35">2</text>
<text x="90.50" y="288.30" font-size="10.3" text-anchor="end" fill="#222" style='font-family:"Liberation Sans", sans-serif' stroke="#222" stroke-width="0.35">1</text>
<text x="90.50" y="318.40" font-size="10.3" text-anchor="end" fill="#222" style='font-family:"Liberation Sans", sans-serif' stroke="#222" stroke-width="0.35">0</text>
<text x="90.50" y="348.50" font-size="10.3" text-anchor="end" fill="#222" style='font-family:"Liberation Sans", sans-serif' stroke="#222" stroke-width="0.35">−1</text>
<text x="90.50" y="378.60" font-size="10.3" text-anchor="end" fill="#222" style='font-family:"Liberation Sans", sans-serif' stroke="#222" stroke-width="0.35">−2</text>
<text x="93.10" y="409.00" font-size="10.3" text-anchor="middle" fill="#222" style='font-family:"Liberation Sans", sans-serif' stroke="#222" stroke-width="0.35">−2</text>
<text x="122.70" y="409.00" font-size="10.3" text-anchor="middle" fill="#222" style='font-family:"Liberation Sans", sans-serif' stroke="#222" stroke-width="0.35">−1</text>
<text x="154.30" y="409.00" font-size="10.3" text-anchor="middle" fill="#222" style='font-family:"Liberation Sans", sans-serif' stroke="#222" stroke-width="0.35">0</text>
<text x="183.90" y="409.00" font-size="10.3" text-anchor="middle" fill="#222" style='font-family:"Liberation Sans", sans-serif' stroke="#222" stroke-width="0.35">1</text>
<text x="152.60" y="420.00" font-size="10" text-anchor="middle" fill="#222" style='font-family:"Liberation Sans", sans-serif' stroke="#222" stroke-width="0.35" textLength="28.5">arcsec</text>
<text transform="translate(71.5,313.5) rotate(-90)" font-size="10" text-anchor="middle" fill="#222" stroke="#222" stroke-width="0.35" textLength="29">arcsec</text>
<text x="253.50" y="239.10" font-size="10" text-anchor="end" fill="#222" style='font-family:"Liberation Sans", sans-serif' stroke="#222" stroke-width="0.35">250.0</text>
<text x="253.50" y="277.60" font-size="10" text-anchor="end" fill="#222" style='font-family:"Liberation Sans", sans-serif' stroke="#222" stroke-width="0.35">200.0</text>
<text x="253.50" y="317.60" font-size="10" text-anchor="end" fill="#222" style='font-family:"Liberation Sans", sans-serif' stroke="#222" stroke-width="0.35">150.0</text>
<text x="253.50" y="358.10" font-size="10" text-anchor="end" fill="#222" style='font-family:"Liberation Sans", sans-serif' stroke="#222" stroke-width="0.35">100.0</text>
<text x="253.50" y="394.60" font-size="10" text-anchor="end" fill="#222" style='font-family:"Liberation Sans", sans-serif' stroke="#222" stroke-width="0.35">50.0</text>
<text x="136.5" y="228" font-size="12" fill="#222" stroke="#222" stroke-width="0.45" textLength="32.5" lengthAdjust="spacingAndGlyphs">σ(Hα)</text>
<rect x="289" y="230" width="138" height="5.5" fill="url(#cb5)"/>
<g clip-path="url(#c5)">
<g filter="url(#b3)">
<rect x="277.00" y="223.00" width="26.40" height="26.29" fill="#f0e830"/>
<rect x="302.80" y="223.00" width="14.40" height="26.29" fill="#a0e860"/>
<rect x="316.60" y="223.00" width="14.40" height="26.29" fill="#40d8b0"/>
<rect x="330.40" y="223.00" width="14.40" height="26.29" fill="#50e0a0"/>
<rect x="344.20" y="223.00" width="14.40" height="26.29" fill="#70e070"/>
<rect x="358.00" y="223.00" width="14.40" height="26.29" fill="#80e060"/>
<rect x="371.80" y="223.00" width="14.40" height="26.29" fill="#90e060"/>
<rect x="385.60" y="223.00" width="14.40" height="26.29" fill="#50e080"/>
<rect x="399.40" y="223.00" width="14.40" height="26.29" fill="#30d8c8"/>
<rect x="413.20" y="223.00" width="26.40" height="26.29" fill="#30d8d0"/>
<rect x="277.00" y="248.69" width="26.40" height="14.29" fill="#f0d830"/>
<rect x="302.80" y="248.69" width="14.40" height="14.29" fill="#90e870"/>
<rect x="316.60" y="248.69" width="14.40" height="14.29" fill="#40d8b0"/>
<rect x="330.40" y="248.69" width="14.40" height="14.29" fill="#40d8b0"/>
<rect x="344.20" y="248.69" width="14.40" height="14.29" fill="#70e070"/>
<rect x="358.00" y="248.69" width="14.40" height="14.29" fill="#e8e840"/>
<rect x="371.80" y="248.69" width="14.40" height="14.29" fill="#f0a030"/>
<rect x="385.60" y="248.69" width="14.40" height="14.29" fill="#d0f040"/>
<rect x="399.40" y="248.69" width="14.40" height="14.29" fill="#30d8c8"/>
<rect x="413.20" y="248.69" width="26.40" height="14.29" fill="#30d8d0"/>
<rect x="277.00" y="262.38" width="26.40" height="14.29" fill="#e8c030"/>
<rect x="302.80" y="262.38" width="14.40" height="14.29" fill="#a0e860"/>
<rect x="316.60" y="262.38" width="14.40" height="14.29" fill="#60e090"/>
<rect x="330.40" y="262.38" width="14.40" height="14.29" fill="#60e080"/>
<rect x="344.20" y="262.38" width="14.40" height="14.29" fill="#c0f040"/>
<rect x="358.00" y="262.38" width="14.40" height="14.29" fill="#f0e030"/>
<rect x="371.80" y="262.38" width="14.40" height="14.29" fill="#f06020"/>
<rect x="385.60" y="262.38" width="14.40" height="14.29" fill="#e0f040"/>
<rect x="399.40" y="262.38" width="14.40" height="14.29" fill="#40d8c0"/>
<rect x="413.20" y="262.38" width="26.40" height="14.29" fill="#30d8d0"/>
<rect x="277.00" y="276.08" width="26.40" height="14.29" fill="#f0d030"/>
<rect x="302.80" y="276.08" width="14.40" height="14.29" fill="#c0f040"/>
<rect x="316.60" y="276.08" width="14.40" height="14.29" fill="#c0f040"/>
<rect x="330.40" y="276.08" width="14.40" height="14.29" fill="#d0f040"/>
<rect x="344.20" y="276.08" width="14.40" height="14.29" fill="#e0f040"/>
<rect x="358.00" y="276.08" width="14.40" height="14.29" fill="#f0c030"/>
<rect x="371.80" y="276.08" width="14.40" height="14.29" fill="#f07020"/>
<rect x="385.60" y="276.08" width="14.40" height="14.29" fill="#e0f040"/>
<rect x="399.40" y="276.08" width="14.40" height="14.29" fill="#40d8c0"/>
<rect x="413.20" y="276.08" width="26.40" height="14.29" fill="#30d0d0"/>
<rect x="277.00" y="289.77" width="26.40" height="14.29" fill="#f0e030"/>
<rect x="302.80" y="289.77" width="14.40" height="14.29" fill="#f0e830"/>
<rect x="316.60" y="289.77" width="14.40" height="14.29" fill="#f0f030"/>
<rect x="330.40" y="289.77" width="14.40" height="14.29" fill="#f0e030"/>
<rect x="344.20" y="289.77" width="14.40" height="14.29" fill="#f08020"/>
<rect x="358.00" y="289.77" width="14.40" height="14.29" fill="#f03818"/>
<rect x="371.80" y="289.77" width="14.40" height="14.29" fill="#f0b030"/>
<rect x="385.60" y="289.77" width="14.40" height="14.29" fill="#e0f040"/>
<rect x="399.40" y="289.77" width="14.40" height="14.29" fill="#80e080"/>
<rect x="413.20" y="289.77" width="26.40" height="14.29" fill="#60e0a0"/>
<rect x="277.00" y="303.46" width="26.40" height="14.29" fill="#f0a020"/>
<rect x="302.80" y="303.46" width="14.40" height="14.29" fill="#f08020"/>
<rect x="316.60" y="303.46" width="14.40" height="14.29" fill="#f07018"/>
<rect x="330.40" y="303.46" width="14.40" height="14.29" fill="#f09020"/>
<rect x="344.20" y="303.46" width="14.40" height="14.29" fill="#f01810"/>
<rect x="358.00" y="303.46" width="14.40" height="14.29" fill="#f01410"/>
<rect x="371.80" y="303.46" width="14.40" height="14.29" fill="#f08020"/>
<rect x="385.60" y="303.46" width="14.40" height="14.29" fill="#f0e030"/>
<rect x="399.40" y="303.46" width="14.40" height="14.29" fill="#f0e830"/>
<rect x="413.20" y="303.46" width="26.40" height="14.29" fill="#f0e030"/>
<rect x="277.00" y="317.15" width="26.40" height="14.29" fill="#e81810"/>
<rect x="302.80" y="317.15" width="14.40" height="14.29" fill="#f04010"/>
<rect x="316.60" y="317.15" width="14.40" height="14.29" fill="#f05010"/>
<rect x="330.40" y="317.15" width="14.40" height="14.29" fill="#f06018"/>
<rect x="344.20" y="317.15" width="14.40" height="14.29" fill="#f07020"/>
<rect x="358.00" y="317.15" width="14.40" height="14.29" fill="#f05018"/>
<rect x="371.80" y="317.15" width="14.40" height="14.29" fill="#f0b020"/>
<rect x="385.60" y="317.15" width="14.40" height="14.29" fill="#f0c020"/>
<rect x="399.40" y="317.15" width="14.40" height="14.29" fill="#f0b020"/>
<rect x="413.20" y="317.15" width="26.40" height="14.29" fill="#f09020"/>
<rect x="277.00" y="330.85" width="26.40" height="14.29" fill="#f01810"/>
<rect x="302.80" y="330.85" width="14.40" height="14.29" fill="#f01410"/>
<rect x="316.60" y="330.85" width="14.40" height="14.29" fill="#f01410"/>
<rect x="330.40" y="330.85" width="14.40" height="14.29" fill="#f01410"/>
<rect x="344.20" y="330.85" width="14.40" height="14.29" fill="#f01410"/>
<rect x="358.00" y="330.85" width="14.40" height="14.29" fill="#f01410"/>
<rect x="371.80" y="330.85" width="14.40" height="14.29" fill="#f01810"/>
<rect x="385.60" y="330.85" width="14.40" height="14.29" fill="#f06010"/>
<rect x="399.40" y="330.85" width="14.40" height="14.29" fill="#f06010"/>
<rect x="413.20" y="330.85" width="26.40" height="14.29" fill="#e82010"/>
<rect x="277.00" y="344.54" width="26.40" height="14.29" fill="#f02810"/>
<rect x="302.80" y="344.54" width="14.40" height="14.29" fill="#f01410"/>
<rect x="316.60" y="344.54" width="14.40" height="14.29" fill="#f01410"/>
<rect x="330.40" y="344.54" width="14.40" height="14.29" fill="#c81010"/>
<rect x="344.20" y="344.54" width="14.40" height="14.29" fill="#e81010"/>
<rect x="358.00" y="344.54" width="14.40" height="14.29" fill="#f01410"/>
<rect x="371.80" y="344.54" width="14.40" height="14.29" fill="#f01410"/>
<rect x="385.60" y="344.54" width="14.40" height="14.29" fill="#f06010"/>
<rect x="399.40" y="344.54" width="14.40" height="14.29" fill="#f06010"/>
<rect x="413.20" y="344.54" width="26.40" height="14.29" fill="#e81810"/>
<rect x="277.00" y="358.23" width="26.40" height="14.29" fill="#f08020"/>
<rect x="302.80" y="358.23" width="14.40" height="14.29" fill="#f01810"/>
<rect x="316.60" y="358.23" width="14.40" height="14.29" fill="#d81010"/>
<rect x="330.40" y="358.23" width="14.40" height="14.29" fill="#f01010"/>
<rect x="344.20" y="358.23" width="14.40" height="14.29" fill="#f01410"/>
<rect x="358.00" y="358.23" width="14.40" height="14.29" fill="#f01410"/>
<rect x="371.80" y="358.23" width="14.40" height="14.29" fill="#f03010"/>
<rect x="385.60" y="358.23" width="14.40" height="14.29" fill="#f09020"/>
<rect x="399.40" y="358.23" width="14.40" height="14.29" fill="#f07020"/>
<rect x="413.20" y="358.23" width="26.40" height="14.29" fill="#f08020"/>
<rect x="277.00" y="371.92" width="26.40" height="14.29" fill="#f0e030"/>
<rect x="302.80" y="371.92" width="14.40" height="14.29" fill="#f08020"/>
<rect x="316.60" y="371.92" width="14.40" height="14.29" fill="#f01810"/>
<rect x="330.40" y="371.92" width="14.40" height="14.29" fill="#f01410"/>
<rect x="344.20" y="371.92" width="14.40" height="14.29" fill="#f01410"/>
<rect x="358.00" y="371.92" width="14.40" height="14.29" fill="#f04010"/>
<rect x="371.80" y="371.92" width="14.40" height="14.29" fill="#f0a020"/>
<rect x="385.60" y="371.92" width="14.40" height="14.29" fill="#e8e030"/>
<rect x="399.40" y="371.92" width="14.40" height="14.29" fill="#e8f040"/>
<rect x="413.20" y="371.92" width="26.40" height="14.29" fill="#e8f040"/>
<rect x="277.00" y="385.62" width="26.40" height="14.29" fill="#80e070"/>
<rect x="302.80" y="385.62" width="14.40" height="14.29" fill="#60e070"/>
<rect x="316.60" y="385.62" width="14.40" height="14.29" fill="#c0f040"/>
<rect x="330.40" y="385.62" width="14.40" height="14.29" fill="#f0a020"/>
<rect x="344.20" y="385.62" width="14.40" height="14.29" fill="#f07020"/>
<rect x="358.00" y="385.62" width="14.40" height="14.29" fill="#f0c020"/>
<rect x="371.80" y="385.62" width="14.40" height="14.29" fill="#c0f040"/>
<rect x="385.60" y="385.62" width="14.40" height="14.29" fill="#80e070"/>
<rect x="399.40" y="385.62" width="14.40" height="14.29" fill="#60e080"/>
<rect x="413.20" y="385.62" width="26.40" height="14.29" fill="#e8f030"/>
<rect x="277.00" y="399.31" width="26.40" height="26.29" fill="#60e070"/>
<rect x="302.80" y="399.31" width="14.40" height="26.29" fill="#50e080"/>
<rect x="316.60" y="399.31" width="14.40" height="26.29" fill="#90e060"/>
<rect x="330.40" y="399.31" width="14.40" height="26.29" fill="#d0f040"/>
<rect x="344.20" y="399.31" width="14.40" height="26.29" fill="#e0f040"/>
<rect x="358.00" y="399.31" width="14.40" height="26.29" fill="#b0f050"/>
<rect x="371.80" y="399.31" width="14.40" height="26.29" fill="#80e070"/>
<rect x="385.60" y="399.31" width="14.40" height="26.29" fill="#50e090"/>
<rect x="399.40" y="399.31" width="14.40" height="26.29" fill="#40d8b0"/>
<rect x="413.20" y="399.31" width="26.40" height="26.29" fill="#d8f030"/>
</g>
<g filter="url(#b2)">
<ellipse cx="370" cy="275" rx="4" ry="9" fill="#e84018"/>
<ellipse cx="328" cy="357" rx="7" ry="6" fill="#c01010"/>
<ellipse cx="363" cy="354" rx="5" ry="5" fill="#c81010"/>
<ellipse cx="303" cy="392" rx="5" ry="4" fill="#40d8b0"/>
<ellipse cx="400" cy="400" rx="7" ry="5" fill="#40d8b0"/>
</g>
</g>
<g fill="none" stroke="#1e1e10" stroke-width="1.1">
<path d="M362.0,242.0 C367.3,241.5 374.8,241.3 380.0,243.0 C385.2,244.7 389.8,248.3 393.0,252.0 C396.2,255.7 398.5,260.3 399.0,265.0 C399.5,269.7 398.3,275.8 396.0,280.0 C393.7,284.2 388.7,286.7 385.0,290.0 C381.3,293.3 376.2,295.8 374.0,300.0 C371.8,304.2 371.0,310.0 372.0,315.0 C373.0,320.0 377.3,324.2 380.0,330.0 C382.7,335.8 386.8,343.0 388.0,350.0 C389.2,357.0 389.2,365.7 387.0,372.0 C384.8,378.3 380.7,384.0 375.0,388.0 C369.3,392.0 360.5,395.2 353.0,396.0 C345.5,396.8 337.2,395.0 330.0,393.0 C322.8,391.0 314.3,387.8 310.0,384.0 C305.7,380.2 304.0,375.0 304.0,370.0 C304.0,365.0 306.5,358.3 310.0,354.0 C313.5,349.7 320.3,347.3 325.0,344.0 C329.7,340.7 335.2,338.3 338.0,334.0 C340.8,329.7 342.0,323.7 342.0,318.0 C342.0,312.3 339.5,305.7 338.0,300.0 C336.5,294.3 334.0,289.7 333.0,284.0 C332.0,278.3 331.2,271.0 332.0,266.0 C332.8,261.0 335.3,257.3 338.0,254.0 C340.7,250.7 344.0,248.0 348.0,246.0 C352.0,244.0 356.7,242.5 362.0,242.0 Z"/>
<path d="M364.0,250.0 C368.0,249.7 374.0,249.7 378.0,251.0 C382.0,252.3 385.5,255.2 388.0,258.0 C390.5,260.8 392.7,264.3 393.0,268.0 C393.3,271.7 392.5,276.3 390.0,280.0 C387.5,283.7 382.0,286.7 378.0,290.0 C374.0,293.3 368.3,295.8 366.0,300.0 C363.7,304.2 363.0,309.7 364.0,315.0 C365.0,320.3 369.3,325.8 372.0,332.0 C374.7,338.2 379.0,346.0 380.0,352.0 C381.0,358.0 380.0,363.3 378.0,368.0 C376.0,372.7 372.3,377.0 368.0,380.0 C363.7,383.0 358.0,385.3 352.0,386.0 C346.0,386.7 338.0,385.7 332.0,384.0 C326.0,382.3 319.3,379.0 316.0,376.0 C312.7,373.0 311.7,369.3 312.0,366.0 C312.3,362.7 314.7,359.0 318.0,356.0 C321.3,353.0 327.7,350.7 332.0,348.0 C336.3,345.3 341.0,343.8 344.0,340.0 C347.0,336.2 349.7,330.8 350.0,325.0 C350.3,319.2 347.7,311.2 346.0,305.0 C344.3,298.8 341.2,293.8 340.0,288.0 C338.8,282.2 338.2,274.8 339.0,270.0 C339.8,265.2 342.5,261.8 345.0,259.0 C347.5,256.2 350.8,254.5 354.0,253.0 C357.2,251.5 360.0,250.3 364.0,250.0 Z"/>
<path d="M357.0,262.0 C359.3,260.2 364.0,257.5 368.0,257.0 C372.0,256.5 377.7,257.5 381.0,259.0 C384.3,260.5 387.3,263.5 388.0,266.0 C388.7,268.5 387.3,271.7 385.0,274.0 C382.7,276.3 377.8,278.7 374.0,280.0 C370.2,281.3 365.2,282.7 362.0,282.0 C358.8,281.3 356.3,278.3 355.0,276.0 C353.7,273.7 353.7,270.3 354.0,268.0 C354.3,265.7 354.7,263.8 357.0,262.0 Z"/>
<path d="M328.0,352.0 C331.0,350.0 337.3,348.0 342.0,346.0 C346.7,344.0 352.0,341.0 356.0,340.0 C360.0,339.0 363.3,338.3 366.0,340.0 C368.7,341.7 371.0,346.0 372.0,350.0 C373.0,354.0 373.3,360.0 372.0,364.0 C370.7,368.0 367.7,371.7 364.0,374.0 C360.3,376.3 354.7,377.7 350.0,378.0 C345.3,378.3 340.0,377.7 336.0,376.0 C332.0,374.3 328.0,371.0 326.0,368.0 C324.0,365.0 323.7,360.7 324.0,358.0 C324.3,355.3 325.0,354.0 328.0,352.0 Z"/>
<circle cx="357" cy="329" r="3.5"/>
<line x1="399" y1="232" x2="318" y2="413" stroke-width="0.8"/>
</g>
<rect x="289" y="230" width="138" height="183" fill="none" stroke="#3a3018" stroke-width="0.9"/>
<path d="M414,413 L427,413 L427,404 Z" fill="#4a2a08" opacity="0.8"/>
<text x="388.6" y="306" font-size="9.2" fill="#2a2a10" font-weight="bold" textLength="23.8" lengthAdjust="spacingAndGlyphs">NEAR</text>
<text x="303.3" y="343.4" font-size="9.6" fill="#b80818" font-weight="bold" textLength="16.2" lengthAdjust="spacingAndGlyphs">FAR</text>
<text x="337.50" y="226.00" font-size="11" text-anchor="middle" fill="#666" style='font-family:"Liberation Sans", sans-serif' >100</text>
<text x="384.50" y="226.00" font-size="11" text-anchor="middle" fill="#666" style='font-family:"Liberation Sans", sans-serif' >200</text>
</svg></body></html>
